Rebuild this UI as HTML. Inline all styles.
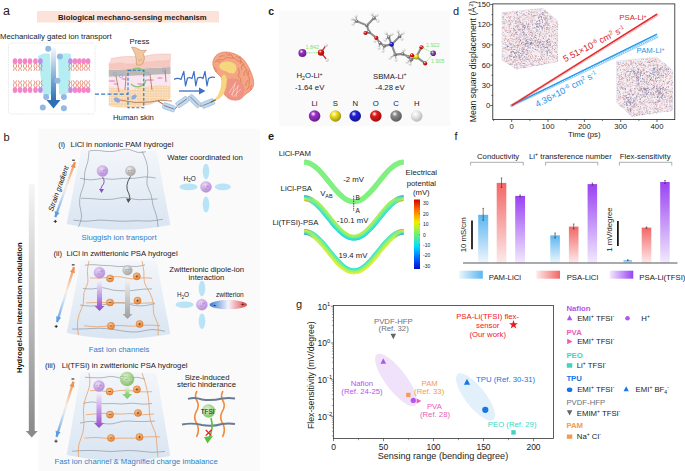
<!DOCTYPE html>
<html><head><meta charset="utf-8"><style>
html,body{margin:0;padding:0;background:#fff;width:685px;height:471px;overflow:hidden}
svg{display:block;font-family:"Liberation Sans",sans-serif}
</style></head><body>
<svg width="685" height="471" viewBox="0 0 685 471">
<defs>
<linearGradient id="garr" x1="0" y1="0" x2="0" y2="1"><stop offset="0" stop-color="#f4f8fc"/><stop offset="1" stop-color="#2e6fb5"/></linearGradient>
<pattern id="fatpat" width="2.6" height="2.6" patternUnits="userSpaceOnUse"><rect width="2.6" height="2.6" fill="#f6d2a6"/><circle cx="1.3" cy="1.3" r="0.75" fill="#fdf0e2"/></pattern>
<linearGradient id="jet" x1="0" y1="1" x2="0" y2="0"><stop offset="0" stop-color="#0010d0"/><stop offset="0.15" stop-color="#0060ff"/><stop offset="0.33" stop-color="#00e0ff"/><stop offset="0.5" stop-color="#70f070"/><stop offset="0.67" stop-color="#f0f000"/><stop offset="0.85" stop-color="#ff7000"/><stop offset="1" stop-color="#d00000"/></linearGradient>
<linearGradient id="trapg" x1="0" y1="0" x2="0" y2="1"><stop offset="0" stop-color="#f3f6fa"/><stop offset="1" stop-color="#d9e5f2"/></linearGradient>
<linearGradient id="strg" x1="0" y1="1" x2="0" y2="0" gradientUnits="objectBoundingBox"><stop offset="0" stop-color="#5a9ee0"/><stop offset="0.42" stop-color="#d6e6f6"/><stop offset="0.56" stop-color="#f8ece4"/><stop offset="1" stop-color="#f09050"/></linearGradient>
<linearGradient id="bigarr" x1="0" y1="0" x2="0" y2="1"><stop offset="0" stop-color="#f6f6f6"/><stop offset="1" stop-color="#8a8a8a"/></linearGradient>
<linearGradient id="parr" x1="0" y1="0" x2="0" y2="1"><stop offset="0" stop-color="#f4ecfa"/><stop offset="1" stop-color="#a060d2"/></linearGradient>
<linearGradient id="parrh" x1="0" y1="0" x2="0" y2="1"><stop offset="0" stop-color="#a060d2"/><stop offset="1" stop-color="#9050c8"/></linearGradient>
<linearGradient id="garr2" x1="0" y1="0" x2="0" y2="1"><stop offset="0" stop-color="#f2f2f2"/><stop offset="1" stop-color="#a8a8a8"/></linearGradient>
<linearGradient id="garr2h" x1="0" y1="0" x2="0" y2="1"><stop offset="0" stop-color="#a8a8a8"/><stop offset="1" stop-color="#a0a0a0"/></linearGradient>
<linearGradient id="grarr" x1="0" y1="0" x2="0" y2="1"><stop offset="0" stop-color="#e8f6e0"/><stop offset="1" stop-color="#90d078"/></linearGradient>
<linearGradient id="grarrh" x1="0" y1="0" x2="0" y2="1"><stop offset="0" stop-color="#90d078"/><stop offset="1" stop-color="#80c868"/></linearGradient>
<linearGradient id="zwit" x1="0" y1="0" x2="1" y2="0"><stop offset="0" stop-color="#3b78d0"/><stop offset="0.5" stop-color="#f4f4fa"/><stop offset="1" stop-color="#e84848"/></linearGradient>
<radialGradient id="ion_li" cx="0.4" cy="0.35" r="0.7"><stop offset="0" stop-color="#f0e0fa"/><stop offset="1" stop-color="#b080d8"/></radialGradient>
<radialGradient id="ion_cl" cx="0.4" cy="0.35" r="0.7"><stop offset="0" stop-color="#f4f4f4"/><stop offset="1" stop-color="#9a9a9a"/></radialGradient>
<radialGradient id="ion_tf" cx="0.4" cy="0.35" r="0.7"><stop offset="0" stop-color="#e0f4d4"/><stop offset="1" stop-color="#7cbc60"/></radialGradient>
<radialGradient id="chg" cx="0.4" cy="0.35" r="0.7"><stop offset="0" stop-color="#fbc890"/><stop offset="1" stop-color="#e87a2a"/></radialGradient>
<linearGradient id="barb" x1="0" y1="0" x2="0" y2="1"><stop offset="0" stop-color="#5ab6f0"/><stop offset="1" stop-color="#eef6fd"/></linearGradient>
<linearGradient id="barr" x1="0" y1="0" x2="0" y2="1"><stop offset="0" stop-color="#f26666"/><stop offset="1" stop-color="#fdeaea"/></linearGradient>
<linearGradient id="barp" x1="0" y1="0" x2="0" y2="1"><stop offset="0" stop-color="#9a42f2"/><stop offset="1" stop-color="#f2eafd"/></linearGradient>
<linearGradient id="legb" x1="0" y1="0" x2="1" y2="0"><stop offset="0" stop-color="#eaf5fd"/><stop offset="1" stop-color="#5ab6f0"/></linearGradient>
<linearGradient id="legr" x1="0" y1="0" x2="1" y2="0"><stop offset="0" stop-color="#fdeaea"/><stop offset="1" stop-color="#f26666"/></linearGradient>
<linearGradient id="legp" x1="0" y1="0" x2="1" y2="0"><stop offset="0" stop-color="#f2eafd"/><stop offset="1" stop-color="#9a42f2"/></linearGradient>
<radialGradient id="rg_9b30c8" cx="0.38" cy="0.32" r="0.75"><stop offset="0" stop-color="#ffffff"/><stop offset="0.3" stop-color="#9b30c8"/><stop offset="1" stop-color="#5d1c78"/></radialGradient><radialGradient id="rg_f0e020" cx="0.38" cy="0.32" r="0.75"><stop offset="0" stop-color="#ffffff"/><stop offset="0.3" stop-color="#f0e020"/><stop offset="1" stop-color="#908613"/></radialGradient><radialGradient id="rg_2020d8" cx="0.38" cy="0.32" r="0.75"><stop offset="0" stop-color="#ffffff"/><stop offset="0.3" stop-color="#2020d8"/><stop offset="1" stop-color="#131381"/></radialGradient><radialGradient id="rg_e81818" cx="0.38" cy="0.32" r="0.75"><stop offset="0" stop-color="#ffffff"/><stop offset="0.3" stop-color="#e81818"/><stop offset="1" stop-color="#8b0e0e"/></radialGradient><radialGradient id="rg_8a8a8a" cx="0.38" cy="0.32" r="0.75"><stop offset="0" stop-color="#ffffff"/><stop offset="0.3" stop-color="#8a8a8a"/><stop offset="1" stop-color="#525252"/></radialGradient><radialGradient id="rg_ececec" cx="0.38" cy="0.32" r="0.75"><stop offset="0" stop-color="#ffffff"/><stop offset="0.3" stop-color="#ececec"/><stop offset="1" stop-color="#b1b1b1"/></radialGradient></defs><text x="3.0" y="15.0" font-size="12.5" fill="#1a1a1a" text-anchor="start" font-weight="normal" >a</text>
<rect x="37" y="11" width="182" height="11.5" fill="#fce3d9"/>
<text x="58.0" y="20.0" font-size="7.7" fill="#1a1a1a" text-anchor="start" font-weight="bold" >Biological mechano-sensing mechanism</text>
<text x="0.0" y="39.0" font-size="7.75" fill="#1a1a1a" text-anchor="start" font-weight="normal" >Mechanically gated ion transport</text>
<rect x="8.5" y="43" width="86.5" height="71" rx="3" fill="#fff" stroke="#cfcfcf" stroke-width="0.5" stroke-dasharray="1.5,1"/>
<path d="M38,56 Q44,52 50,54 L52,94 Q47,97 43,95 Z" fill="#b4eef3"/>
<path d="M58,55 Q65,52 71,54 L70,92 Q64,96 59,94 Z" fill="#b4eef3"/>
<path d="M14.3,63.6 L13.3,66.0 L14.4,68.4 L13.4,70.8 M15.7,63.6 L16.7,66.0 L15.6,68.4 L16.6,70.8" stroke="#e4634a" stroke-width="0.7" fill="none" stroke-linejoin="round"/>
<ellipse cx="15" cy="61.2" rx="2.3" ry="2.9" fill="#f585c9"/>
<path d="M19.3,63.6 L18.3,66.0 L19.4,68.4 L18.4,70.8 M20.7,63.6 L21.7,66.0 L20.6,68.4 L21.6,70.8" stroke="#e4634a" stroke-width="0.7" fill="none" stroke-linejoin="round"/>
<ellipse cx="20" cy="61.2" rx="2.3" ry="2.9" fill="#f585c9"/>
<path d="M24.3,63.6 L23.3,66.0 L24.4,68.4 L23.4,70.8 M25.7,63.6 L26.7,66.0 L25.6,68.4 L26.6,70.8" stroke="#e4634a" stroke-width="0.7" fill="none" stroke-linejoin="round"/>
<ellipse cx="25" cy="61.2" rx="2.3" ry="2.9" fill="#f585c9"/>
<path d="M29.3,63.6 L28.3,66.0 L29.4,68.4 L28.4,70.8 M30.7,63.6 L31.7,66.0 L30.6,68.4 L31.6,70.8" stroke="#e4634a" stroke-width="0.7" fill="none" stroke-linejoin="round"/>
<ellipse cx="30" cy="61.2" rx="2.3" ry="2.9" fill="#f585c9"/>
<path d="M34.8,63.6 L33.8,66.0 L34.9,68.4 L33.9,70.8 M36.2,63.6 L37.2,66.0 L36.1,68.4 L37.1,70.8" stroke="#e4634a" stroke-width="0.7" fill="none" stroke-linejoin="round"/>
<ellipse cx="35.5" cy="61.2" rx="2.3" ry="2.9" fill="#f585c9"/>
<path d="M39.7,63.6 L38.7,66.0 L39.8,68.4 L38.8,70.8 M41.1,63.6 L42.1,66.0 L41.0,68.4 L42.0,70.8" stroke="#e4634a" stroke-width="0.7" fill="none" stroke-linejoin="round"/>
<ellipse cx="40.4" cy="61.2" rx="2.3" ry="2.9" fill="#c38be6"/>
<path d="M69.7,63.6 L68.7,66.0 L69.8,68.4 L68.8,70.8 M71.1,63.6 L72.1,66.0 L71.0,68.4 L72.0,70.8" stroke="#e4634a" stroke-width="0.7" fill="none" stroke-linejoin="round"/>
<ellipse cx="70.4" cy="61.2" rx="2.3" ry="2.9" fill="#c38be6"/>
<path d="M74.3,63.6 L73.3,66.0 L74.4,68.4 L73.4,70.8 M75.7,63.6 L76.7,66.0 L75.6,68.4 L76.6,70.8" stroke="#e4634a" stroke-width="0.7" fill="none" stroke-linejoin="round"/>
<ellipse cx="75" cy="61.2" rx="2.3" ry="2.9" fill="#f585c9"/>
<path d="M78.6,63.6 L77.6,66.0 L78.7,68.4 L77.7,70.8 M80.0,63.6 L81.0,66.0 L79.9,68.4 L80.9,70.8" stroke="#e4634a" stroke-width="0.7" fill="none" stroke-linejoin="round"/>
<ellipse cx="79.3" cy="61.2" rx="2.3" ry="2.9" fill="#f585c9"/>
<path d="M83.0,63.6 L82.0,66.0 L83.1,68.4 L82.1,70.8 M84.4,63.6 L85.4,66.0 L84.3,68.4 L85.3,70.8" stroke="#e4634a" stroke-width="0.7" fill="none" stroke-linejoin="round"/>
<ellipse cx="83.7" cy="61.2" rx="2.3" ry="2.9" fill="#f585c9"/>
<path d="M87.4,63.6 L86.4,66.0 L87.5,68.4 L86.5,70.8 M88.8,63.6 L89.8,66.0 L88.7,68.4 L89.7,70.8" stroke="#e4634a" stroke-width="0.7" fill="none" stroke-linejoin="round"/>
<ellipse cx="88.1" cy="61.2" rx="2.3" ry="2.9" fill="#f585c9"/>
<path d="M14.3,87.6 L13.3,85.2 L14.4,82.8 L13.4,80.4 M15.7,87.6 L16.7,85.2 L15.6,82.8 L16.6,80.4" stroke="#e4634a" stroke-width="0.7" fill="none" stroke-linejoin="round"/>
<ellipse cx="15" cy="90" rx="2.3" ry="2.9" fill="#f585c9"/>
<path d="M19.3,87.6 L18.3,85.2 L19.4,82.8 L18.4,80.4 M20.7,87.6 L21.7,85.2 L20.6,82.8 L21.6,80.4" stroke="#e4634a" stroke-width="0.7" fill="none" stroke-linejoin="round"/>
<ellipse cx="20" cy="90" rx="2.3" ry="2.9" fill="#f585c9"/>
<path d="M24.3,87.6 L23.3,85.2 L24.4,82.8 L23.4,80.4 M25.7,87.6 L26.7,85.2 L25.6,82.8 L26.6,80.4" stroke="#e4634a" stroke-width="0.7" fill="none" stroke-linejoin="round"/>
<ellipse cx="25" cy="90" rx="2.3" ry="2.9" fill="#f585c9"/>
<path d="M29.3,87.6 L28.3,85.2 L29.4,82.8 L28.4,80.4 M30.7,87.6 L31.7,85.2 L30.6,82.8 L31.6,80.4" stroke="#e4634a" stroke-width="0.7" fill="none" stroke-linejoin="round"/>
<ellipse cx="30" cy="90" rx="2.3" ry="2.9" fill="#f585c9"/>
<path d="M34.8,87.6 L33.8,85.2 L34.9,82.8 L33.9,80.4 M36.2,87.6 L37.2,85.2 L36.1,82.8 L37.1,80.4" stroke="#e4634a" stroke-width="0.7" fill="none" stroke-linejoin="round"/>
<ellipse cx="35.5" cy="90" rx="2.3" ry="2.9" fill="#f585c9"/>
<path d="M39.7,87.6 L38.7,85.2 L39.8,82.8 L38.8,80.4 M41.1,87.6 L42.1,85.2 L41.0,82.8 L42.0,80.4" stroke="#e4634a" stroke-width="0.7" fill="none" stroke-linejoin="round"/>
<ellipse cx="40.4" cy="90" rx="2.3" ry="2.9" fill="#c38be6"/>
<path d="M69.7,87.6 L68.7,85.2 L69.8,82.8 L68.8,80.4 M71.1,87.6 L72.1,85.2 L71.0,82.8 L72.0,80.4" stroke="#e4634a" stroke-width="0.7" fill="none" stroke-linejoin="round"/>
<ellipse cx="70.4" cy="90" rx="2.3" ry="2.9" fill="#c38be6"/>
<path d="M74.3,87.6 L73.3,85.2 L74.4,82.8 L73.4,80.4 M75.7,87.6 L76.7,85.2 L75.6,82.8 L76.6,80.4" stroke="#e4634a" stroke-width="0.7" fill="none" stroke-linejoin="round"/>
<ellipse cx="75" cy="90" rx="2.3" ry="2.9" fill="#f585c9"/>
<path d="M78.6,87.6 L77.6,85.2 L78.7,82.8 L77.7,80.4 M80.0,87.6 L81.0,85.2 L79.9,82.8 L80.9,80.4" stroke="#e4634a" stroke-width="0.7" fill="none" stroke-linejoin="round"/>
<ellipse cx="79.3" cy="90" rx="2.3" ry="2.9" fill="#f585c9"/>
<path d="M83.0,87.6 L82.0,85.2 L83.1,82.8 L82.1,80.4 M84.4,87.6 L85.4,85.2 L84.3,82.8 L85.3,80.4" stroke="#e4634a" stroke-width="0.7" fill="none" stroke-linejoin="round"/>
<ellipse cx="83.7" cy="90" rx="2.3" ry="2.9" fill="#f585c9"/>
<path d="M87.4,87.6 L86.4,85.2 L87.5,82.8 L86.5,80.4 M88.8,87.6 L89.8,85.2 L88.7,82.8 L89.7,80.4" stroke="#e4634a" stroke-width="0.7" fill="none" stroke-linejoin="round"/>
<ellipse cx="88.1" cy="90" rx="2.3" ry="2.9" fill="#f585c9"/>
<rect x="51" y="48" width="5" height="53" fill="url(#garr)"/>
<path d="M46.5,100 L60.5,100 L53.5,108.5 Z" fill="#2e6fb5"/>
<circle cx="48.2" cy="48.8" r="3" fill="#93b8e3"/>
<circle cx="59.8" cy="56.6" r="3" fill="#93b8e3"/>
<circle cx="57.4" cy="80.8" r="3" fill="#93b8e3"/>
<circle cx="46.2" cy="96.9" r="3" fill="#93b8e3"/>
<circle cx="63.9" cy="96.9" r="3" fill="#93b8e3"/>
<circle cx="42.8" cy="107.6" r="3" fill="#93b8e3"/>
<circle cx="63.9" cy="108.3" r="3" fill="#93b8e3"/>
<path d="M108.8,86 L170.5,82 L170.5,99 Q160,100 152,104 Q140,108 128,107.5 Q118,108 108.8,106 Z" fill="url(#fatpat)"/>
<path d="M108.8,76.6 L170.5,74 L170.5,86 Q150,84 130,90 Q118,88 108.8,87 Z" fill="#f9e6f0"/>
<ellipse cx="112" cy="81" rx="3.5" ry="1" fill="#e9a9cf"/>
<ellipse cx="124" cy="79" rx="2.5" ry="1" fill="#e9a9cf"/>
<ellipse cx="150" cy="80" rx="4.0" ry="1" fill="#e9a9cf"/>
<ellipse cx="160" cy="78" rx="3.0" ry="1" fill="#e9a9cf"/>
<ellipse cx="116" cy="84" rx="2.5" ry="1" fill="#e9a9cf"/>
<ellipse cx="140" cy="84" rx="3.0" ry="1" fill="#e9a9cf"/>
<path d="M108.8,70 L170.5,67 L170.5,74 L108.8,76.8 Z" fill="#bdb8b6"/>
<path d="M108.8,64 Q120,62 130,64 Q150,61 170.5,60 L170.5,67 L108.8,70 Z" fill="#f6c7bf"/>
<path d="M108.8,64 Q112,60 111,58.5 Q125,55 140,57 Q155,53 170.5,54 L170.5,60 Q150,61 130,64 Q120,62 108.8,64 Z" fill="#f9d9d3" stroke="#efb3a8" stroke-width="0.4"/>
<path d="M116,76 L119,92 M126,76 L125,90 M150,74 L152,90 M165,70 L166,82 M120,100 Q135,104 150,102 Q160,99 172,101" stroke="#a0603a" stroke-width="0.7" fill="none"/>
<circle cx="115" cy="74" r="1.8" fill="none" stroke="#8aa5e0" stroke-width="0.7"/>
<circle cx="121" cy="76" r="1.8" fill="none" stroke="#8aa5e0" stroke-width="0.7"/>
<circle cx="164" cy="70" r="1.8" fill="none" stroke="#8aa5e0" stroke-width="0.7"/>
<circle cx="147" cy="74" r="1.8" fill="none" stroke="#8aa5e0" stroke-width="0.7"/>
<ellipse cx="117" cy="100" rx="3.3" ry="2.2" fill="#8fa8e0" transform="rotate(30 117 100)"/>
<ellipse cx="134" cy="97" rx="3" ry="2" fill="#8fa8e0" transform="rotate(-40 134 97)"/>
<path d="M130,72 A8.8,8.8 0 0 1 145,73" stroke="#8cc873" stroke-width="1.4" fill="none"/>
<path d="M146,80 A8.8,8.8 0 0 1 131,84" stroke="#8cc873" stroke-width="1.4" fill="none"/>
<path d="M95,94.2 L128,94.2" stroke="#3b78c6" stroke-width="1.3" stroke-dasharray="4,2.2"/>
<rect x="128" y="70.3" width="15.8" height="37.4" fill="none" stroke="#2f72c0" stroke-width="1.1" stroke-dasharray="3,1.8"/>
<path d="M131.5,47 Q137,47 141,50.5 L146.5,50.3 L143.6,53.6 Q145.6,59 143,63.5 Q140,66.5 136.5,64.8 Q136.6,58 135,54 Q133,50 131.5,47 Z" fill="#f2c6a0" stroke="#b5805a" stroke-width="0.45"/><path d="M138,60 Q140,61 142,59.5" stroke="#b5805a" stroke-width="0.4" fill="none"/>
<text x="129.6" y="44.0" font-size="7.75" fill="#1a1a1a" text-anchor="start" font-weight="normal" >Press</text>
<text x="113.0" y="119.5" font-size="7.75" fill="#1a1a1a" text-anchor="start" font-weight="normal" >Human skin</text>
<path d="M158,101 L163.5,104.5 M175,109 L177,106.5 M188,97.5 L189.5,96.5 M200,106 L202,106 M213.5,101 L216,99.5" stroke="#a0522d" stroke-width="1" fill="none"/>
<g transform="translate(169,107.3) rotate(20)"><rect x="-6.25" y="-3" width="12.5" height="6" rx="1.2" fill="#bfd9f2" stroke="#8cb6e4" stroke-width="0.6"/><line x1="-5.25" y1="0" x2="5.25" y2="0" stroke="#8f7b72" stroke-width="0.9"/></g>
<g transform="translate(182.3,102.1) rotate(-35)"><rect x="-6.5" y="-3" width="13" height="6" rx="1.2" fill="#bfd9f2" stroke="#8cb6e4" stroke-width="0.6"/><line x1="-5.5" y1="0" x2="5.5" y2="0" stroke="#8f7b72" stroke-width="0.9"/></g>
<g transform="translate(194.6,101.1) rotate(45)"><rect x="-7.25" y="-3" width="14.5" height="6" rx="1.2" fill="#bfd9f2" stroke="#8cb6e4" stroke-width="0.6"/><line x1="-6.25" y1="0" x2="6.25" y2="0" stroke="#8f7b72" stroke-width="0.9"/></g>
<g transform="translate(207.9,103.5) rotate(-22)"><rect x="-6.5" y="-3" width="13" height="6" rx="1.2" fill="#bfd9f2" stroke="#8cb6e4" stroke-width="0.6"/><line x1="-5.5" y1="0" x2="5.5" y2="0" stroke="#8f7b72" stroke-width="0.9"/></g>
<path d="M174,79.4 Q178,77.5 181,79.5 L183.8,71.4 L185.5,86 L187.5,78 Q190,77 192,78.5 L194,71.4 L195.8,86 L197.5,78 Q201,76.5 203,78.5 L205,71.4 L207,86 L208.5,78.5 Q212,76.5 215,77.5" stroke="#3d6fc6" stroke-width="1.2" fill="none" stroke-linejoin="round"/>
<path d="M179,91 L201,91" stroke="#3d6fc6" stroke-width="1.3"/><path d="M199,87.5 L205.5,91 L199,94.5 Z" fill="#3d6fc6"/>
<path d="M213.6,59.4 Q214.6,57.1 216.1,55.5 Q217.7,53.9 220.2,53.0 Q222.8,52.0 225.4,52.0 Q227.9,52.0 230.4,52.6 Q233.0,53.3 235.6,54.2 Q238.1,55.2 240.6,57.1 Q243.2,59.0 245.1,61.5 Q247.0,64.1 248.6,67.3 Q250.2,70.5 251.5,73.7 Q252.8,76.8 253.4,80.0 Q254.0,83.2 253.4,85.8 Q252.8,88.3 250.9,90.2 Q249.0,92.1 246.8,93.4 Q244.5,94.7 243.2,96.6 Q242.0,98.5 239.4,99.5 Q236.8,100.4 233.7,100.1 Q230.5,99.8 227.9,97.9 Q225.4,96.0 224.1,94.0 Q222.8,92.1 223.4,88.9 Q224.1,85.8 222.8,81.3 Q221.6,76.8 219.3,75.2 Q217.1,73.7 215.2,70.8 Q213.3,67.9 212.9,64.8 Q212.6,61.6 213.6,59.4 Z" fill="#f4a584" stroke="#df7a58" stroke-width="0.7"/>
<path d="M226,80 Q232,77 238,79 Q244,83 245,90 Q244,96 240,99 Q234,101 229,99 Q224,95 224,88 Z" fill="#ef9484"/>
<path d="M229,93 L236,82 M231,95 L239,85 M233,97 L241,89 M235,84 L232,96 M238,86 L236,97" stroke="#fbe6e6" stroke-width="0.55" fill="none"/>
<path d="M215,62 Q219,58 223,60 Q226,56 231,58 Q235,57 238,61 Q243,61 244,66 Q248,69 247,74 Q251,78 249,83 Q250,88 246,90 M219,57 Q222,55 225,56 M229,54 Q233,55 233,58 M240,58 Q242,62 240,64 M246,70 Q243,72 244,76 M248,80 Q245,83 246,86 M214,67 Q217,69 216,72 M236,56 Q238,59 241,57 M226,53 Q227,56 230,55 M243,64 Q240,67 242,70 M238,68 Q241,72 238,76 Q242,78 241,82 M250,70 Q247,72 249,75 M252,85 Q249,87 251,90 M217,60 Q218,63 221,62" stroke="#d26446" stroke-width="0.55" fill="none"/>
<path d="M219.6,64.5 Q222,61 228,61.5 Q234,62 236,65.5 Q237.5,70 234,73.5 Q229,74 226.5,71.5 Q222,70 220.5,69 Q218.8,66.5 219.6,64.5 Z" fill="#f6d67e"/>
<path d="M224,74 Q227,76 227,80 Q226.5,88 224,93 Q221,98 216.5,100 L215,99.5 Q219,95 220.8,89 Q222,82 221.5,77 Z" fill="#f6d67e" stroke="#e8b860" stroke-width="0.3"/>
<path d="M215.5,99.8 L211,102" stroke="#8b5a2b" stroke-width="1.1"/>
<text x="3.5" y="140.7" font-size="11" fill="#1a1a1a" text-anchor="start" font-weight="normal" >b</text>
<rect x="38.3" y="128.8" width="221.4" height="343" fill="#fafafa"/>
<rect x="28.8" y="184" width="5.9" height="247.5" fill="url(#bigarr)"/>
<path d="M25.8,431 L37.7,431 L31.75,437.6 Z" fill="#8a8a8a"/>
<text transform="translate(22,307.7) rotate(-90)" font-size="7.6" font-weight="bold" fill="#111" text-anchor="middle">Hydrogel-ion interaction modulation</text>
<text x="58.3" y="147.0" font-size="7.75" fill="#1a1a1a" text-anchor="start" font-weight="normal" >(i)</text>
<text x="70.6" y="147.0" font-size="7.75" fill="#1a1a1a" text-anchor="start" font-weight="normal" >LiCl in nonionic PAM hydrogel</text>
<path d="M81,150 L156.5,151 L170.3,225 Q118.5,235 66.7,224 Z" fill="url(#trapg)"/>
<path d="M89.6,150.7 Q89.6,150.7 93.6,150.5 Q97.7,150.2 101.7,150.9 Q105.7,151.5 109.7,151.6 Q113.8,151.7 117.8,150.5 Q121.9,149.2 125.9,149.1 Q129.9,149.1 133.9,151.1 Q137.9,153.1 142.0,152.4 L146.0,151.7" stroke="#6e767f" stroke-width="0.5" fill="none"/>
<path d="M80.0,178.2 Q80.0,178.2 85.4,179.3 Q90.8,180.5 96.2,179.3 Q101.6,178.0 107.0,178.9 Q112.4,179.7 117.8,178.9 Q123.1,178.0 128.5,178.4 Q133.9,178.8 139.3,177.6 Q144.7,176.4 150.1,177.2 L155.5,178.1" stroke="#6e767f" stroke-width="0.5" fill="none"/>
<path d="M81.0,198.3 Q81.0,198.3 86.5,198.4 Q91.9,198.5 97.4,199.1 Q102.8,199.6 108.3,199.5 Q113.7,199.4 119.2,198.0 Q124.7,196.6 130.1,198.3 Q135.6,200.0 141.0,199.7 Q146.5,199.3 151.9,199.2 L157.4,199.0" stroke="#6e767f" stroke-width="0.5" fill="none"/>
<path d="M73.4,220.1 Q73.4,220.1 79.8,220.9 Q86.2,221.7 92.6,220.7 Q99.0,219.7 105.4,220.3 Q111.8,220.8 118.2,221.1 Q124.6,221.4 131.0,221.0 Q137.4,220.5 143.8,221.0 Q150.2,221.4 156.6,220.3 L163.0,219.3" stroke="#6e767f" stroke-width="0.5" fill="none"/>
<path d="M89.0,151.0 Q89.0,151.0 88.6,156.5 Q88.2,161.9 86.1,167.2 Q84.1,172.5 84.5,178.0 Q84.9,183.6 82.5,188.8 Q80.2,194.0 79.7,199.5 Q79.1,205.0 80.8,210.7 Q82.6,216.5 80.5,221.7 L78.5,227.0" stroke="#6e767f" stroke-width="0.5" fill="none"/>
<path d="M142.0,151.0 Q142.0,151.0 144.3,156.2 Q146.6,161.4 147.5,166.9 Q148.3,172.3 147.1,178.3 Q145.9,184.2 148.7,189.3 Q151.5,194.3 152.1,199.9 Q152.6,205.5 154.8,210.7 Q157.0,215.9 157.5,221.4 L158.0,227.0" stroke="#6e767f" stroke-width="0.5" fill="none"/>
<circle cx="102.5" cy="171" r="5.5" fill="url(#ion_li)" stroke="#c8a0e0" stroke-width="0.4"/>
<text x="102.5" y="172.7" font-size="4.4" fill="#fff" text-anchor="middle" stroke="#7a4aa0" stroke-width="0.35" paint-order="stroke">Li⁺</text>
<circle cx="130.5" cy="171" r="5" fill="url(#ion_cl)" stroke="#b0b0b0" stroke-width="0.4"/>
<text x="130.5" y="172.5" font-size="4.0" fill="#fff" text-anchor="middle" stroke="#666" stroke-width="0.35" paint-order="stroke">Cl⁻</text>
<path d="M102.5,177 Q106,182 102,186 Q100,189 101.5,191" stroke="#9050c0" stroke-width="1" fill="none"/><path d="M99,189 L104,189 L101.5,193 Z" fill="#9050c0"/>
<path d="M130.5,176.5 Q124,186 129,194 Q131,198 128.5,201" stroke="#555" stroke-width="1" fill="none"/><path d="M126,198.5 L131,199 L128.3,203 Z" fill="#555"/>
<line x1="55.3" y1="217.2" x2="74.9" y2="162.2" stroke="url(#strg)" stroke-width="2.3"/>
<path d="M74.9,162.2 L75.5,168.3 L70.6,166.5 Z" fill="#f09050"/>
<path d="M55.3,217.2 L54.7,211.1 L59.6,212.9 Z" fill="#5a9ee0"/>
<path d="M72.1,160.2 L74.9,160.2" stroke="#111" stroke-width="1"/>
<path d="M53.7,221.4 L56.9,221.4 M55.3,219.8 L55.3,223.0" stroke="#111" stroke-width="0.8"/>
<text transform="translate(60.8,189.4) rotate(-70.2)" font-size="7.3" fill="#111" text-anchor="middle" font-style="italic">Strain gradient</text>
<text x="81.6" y="239.8" font-size="7.75" fill="#2f80c8" text-anchor="start" font-weight="normal" >Sluggish ion transport</text>
<text x="167.3" y="160.0" font-size="7.75" fill="#1a1a1a" text-anchor="start" font-weight="normal" >Water coordinated ion</text>
<ellipse cx="206" cy="171.6" rx="3.3" ry="7.8" fill="#b9e3f6"/>
<ellipse cx="206" cy="204.6" rx="3.3" ry="8" fill="#b9e3f6"/>
<ellipse cx="188.5" cy="186.9" rx="9" ry="3.3" fill="#b9e3f6"/>
<ellipse cx="222.8" cy="186.9" rx="8" ry="3.3" fill="#b9e3f6"/>
<circle cx="206" cy="186.9" r="5.5" fill="url(#ion_li)" stroke="#c8a0e0" stroke-width="0.4"/>
<text x="206" y="188.6" font-size="4.4" fill="#fff" text-anchor="middle" stroke="#7a4aa0" stroke-width="0.35" paint-order="stroke">Li⁺</text>
<text x="183.6" y="180.5" font-size="6.4" fill="#222">H<tspan font-size="4.5" dy="1.3">2</tspan><tspan dy="-1.3">O</tspan></text>
<text x="53.5" y="256.3" font-size="7.75" fill="#1a1a1a" text-anchor="start" font-weight="normal" >(ii)</text>
<text x="66.5" y="256.3" font-size="7.75" fill="#1a1a1a" text-anchor="start" font-weight="normal" >LiCl in zwitterionic PSA hydrogel</text>
<path d="M81,259.8 L156.5,260.8 L170.3,334 Q118.5,344 66.7,333 Z" fill="url(#trapg)"/>
<path d="M85.0,265.2 Q85.0,265.2 89.3,264.8 Q93.6,264.4 97.9,265.0 Q102.1,265.5 106.4,265.5 Q110.7,265.5 115.0,266.2 Q119.3,266.9 123.6,266.4 Q127.9,265.8 132.2,266.4 Q136.4,266.9 140.7,265.9 L145.0,264.8" stroke="#6e767f" stroke-width="0.5" fill="none"/>
<path d="M83.0,288.4 Q83.0,288.4 87.9,288.9 Q92.9,289.3 97.8,288.1 Q102.7,286.9 107.6,288.7 Q112.6,290.4 117.5,290.6 Q122.4,290.9 127.3,290.8 Q132.3,290.7 137.2,289.9 Q142.1,289.1 147.1,289.0 L152.0,288.9" stroke="#6e767f" stroke-width="0.5" fill="none"/>
<path d="M80.0,305.0 Q80.0,305.0 85.4,305.7 Q90.7,306.4 96.1,305.7 Q101.4,305.0 106.8,304.2 Q112.1,303.4 117.5,302.7 Q122.8,302.1 128.2,303.9 Q133.6,305.7 139.0,305.9 Q144.3,306.1 149.7,304.8 L155.0,303.5" stroke="#6e767f" stroke-width="0.5" fill="none"/>
<path d="M72.0,329.1 Q72.0,329.1 78.6,329.0 Q85.3,328.9 92.0,328.5 Q98.6,328.0 105.2,328.5 Q111.9,329.0 118.5,330.3 Q125.1,331.6 131.8,332.0 Q138.4,332.4 145.1,330.5 Q151.8,328.7 158.4,330.0 L165.0,331.2" stroke="#6e767f" stroke-width="0.5" fill="none"/>
<path d="M89.0,261.0 Q89.0,261.0 87.9,266.2 Q86.8,271.5 87.8,277.0 Q88.9,282.6 86.0,287.5 Q83.1,292.5 83.6,298.0 Q84.1,303.4 81.6,308.5 Q79.1,313.5 78.0,318.8 Q77.0,324.0 77.7,329.5 L78.5,335.0" stroke="#ea9a5c" stroke-width="0.75" fill="none"/>
<path d="M142.0,261.0 Q142.0,261.0 143.1,266.3 Q144.3,271.6 143.9,277.2 Q143.5,282.8 146.8,287.6 Q150.0,292.5 151.9,297.6 Q153.8,302.7 153.3,308.4 Q152.8,314.0 155.7,318.9 Q158.6,323.8 158.3,329.4 L158.0,335.0" stroke="#ea9a5c" stroke-width="0.75" fill="none"/>
<path d="M90.0,277.9 Q90.0,277.9 95.2,278.1 Q100.3,278.4 105.5,277.6 Q110.7,276.8 115.8,276.6 Q121.0,276.5 126.2,278.0 Q131.3,279.5 136.5,278.5 Q141.7,277.6 146.8,277.9 L152.0,278.3" stroke="#ea9a5c" stroke-width="0.75" fill="none"/>
<path d="M86.0,302.9 Q86.0,302.9 91.7,302.7 Q97.3,302.5 103.0,302.6 Q108.7,302.7 114.3,302.8 Q120.0,302.9 125.7,303.1 Q131.3,303.4 137.0,303.3 Q142.7,303.2 148.3,303.0 L154.0,302.8" stroke="#ea9a5c" stroke-width="0.75" fill="none"/>
<path d="M84.0,325.6 Q84.0,325.6 90.3,326.4 Q96.7,327.2 103.0,326.5 Q109.3,325.7 115.7,325.6 Q122.0,325.4 128.3,326.0 Q134.7,326.5 141.0,325.6 Q147.3,324.8 153.7,325.3 L160.0,325.7" stroke="#ea9a5c" stroke-width="0.75" fill="none"/>
<rect x="97.0" y="281" width="5" height="25" fill="url(#parr)"/>
<path d="M94.5,306 L104.5,306 L99.5,311 Z" fill="url(#parrh)"/>
<rect x="125.0" y="279" width="5" height="35" fill="url(#garr2)"/>
<path d="M122.5,314 L132.5,314 L127.5,319 Z" fill="url(#garr2h)"/>
<circle cx="99.5" cy="272.7" r="5.5" fill="url(#ion_li)" stroke="#c8a0e0" stroke-width="0.4"/>
<text x="99.5" y="274.3" font-size="4.4" fill="#fff" text-anchor="middle" stroke="#7a4aa0" stroke-width="0.35" paint-order="stroke">Li⁺</text>
<circle cx="127.5" cy="270.3" r="4.8" fill="url(#ion_cl)" stroke="#b0b0b0" stroke-width="0.4"/>
<text x="127.5" y="271.7" font-size="3.8" fill="#fff" text-anchor="middle" stroke="#666" stroke-width="0.35" paint-order="stroke">Cl⁻</text>
<circle cx="110" cy="278.5" r="3.6" fill="url(#chg)" stroke="#d0702a" stroke-width="0.4"/>
<line x1="108.6" y1="278.5" x2="111.4" y2="278.5" stroke="#5a2a10" stroke-width="0.6"/>
<circle cx="136.8" cy="276.3" r="3.6" fill="url(#chg)" stroke="#d0702a" stroke-width="0.4"/>
<path d="M135.4,276.3 L138.20000000000002,276.3 M136.8,274.90000000000003 L136.8,277.7" stroke="#5a2a10" stroke-width="0.6"/>
<circle cx="110" cy="302.5" r="3.6" fill="url(#chg)" stroke="#d0702a" stroke-width="0.4"/>
<line x1="108.6" y1="302.5" x2="111.4" y2="302.5" stroke="#5a2a10" stroke-width="0.6"/>
<circle cx="137.5" cy="300.7" r="3.6" fill="url(#chg)" stroke="#d0702a" stroke-width="0.4"/>
<path d="M136.1,300.7 L138.9,300.7 M137.5,299.3 L137.5,302.09999999999997" stroke="#5a2a10" stroke-width="0.6"/>
<circle cx="111" cy="325.9" r="3.6" fill="url(#chg)" stroke="#d0702a" stroke-width="0.4"/>
<line x1="109.6" y1="325.9" x2="112.4" y2="325.9" stroke="#5a2a10" stroke-width="0.6"/>
<circle cx="139.6" cy="324" r="3.6" fill="url(#chg)" stroke="#d0702a" stroke-width="0.4"/>
<path d="M138.2,324 L141.0,324 M139.6,322.6 L139.6,325.4" stroke="#5a2a10" stroke-width="0.6"/>
<line x1="57" y1="322.2" x2="74" y2="267.2" stroke="url(#strg)" stroke-width="2.3"/>
<path d="M74.0,267.2 L74.9,273.2 L69.9,271.7 Z" fill="#f09050"/>
<path d="M57.0,322.2 L56.1,316.2 L61.1,317.7 Z" fill="#5a9ee0"/>
<path d="M71.8,264.9 L74.6,264.9" stroke="#111" stroke-width="1"/>
<path d="M54.6,326.4 L57.8,326.4 M56.2,324.8 L56.2,328.0" stroke="#111" stroke-width="0.8"/>
<text x="88.7" y="351.7" font-size="7.75" fill="#2f80c8" text-anchor="start" font-weight="normal" >Fast ion channels</text>
<text x="169.2" y="271.5" font-size="7.75" fill="#1a1a1a" text-anchor="start" font-weight="normal" >Zwitterionic dipole-ion</text>
<text x="206.5" y="280.2" font-size="7.75" fill="#1a1a1a" text-anchor="middle" font-weight="normal" >interaction</text>
<ellipse cx="202" cy="288.6" rx="3.3" ry="7.8" fill="#b9e3f6"/>
<ellipse cx="202" cy="321.3" rx="3.3" ry="7.8" fill="#b9e3f6"/>
<ellipse cx="184.6" cy="304.7" rx="9" ry="3.3" fill="#b9e3f6"/>
<ellipse cx="228.3" cy="304.7" rx="18.7" ry="4.6" fill="url(#zwit)"/>
<text x="213.5" y="307.3" font-size="7" fill="#1a1a1a" text-anchor="start" font-weight="bold" >-</text>
<text x="240.5" y="307.3" font-size="7" fill="#1a1a1a" text-anchor="start" font-weight="normal" >+</text>
<circle cx="201.9" cy="304.7" r="5.5" fill="url(#ion_li)" stroke="#c8a0e0" stroke-width="0.4"/>
<text x="201.9" y="306.3" font-size="4.4" fill="#fff" text-anchor="middle" stroke="#7a4aa0" stroke-width="0.35" paint-order="stroke">Li⁺</text>
<text x="176.9" y="297.2" font-size="6.4" fill="#222">H<tspan font-size="4.5" dy="1.3">2</tspan><tspan dy="-1.3">O</tspan></text>
<text x="215.9" y="297.0" font-size="6.6" fill="#1a1a1a" text-anchor="start" font-weight="normal" >zwitterion</text>
<text x="45.0" y="367.8" font-size="7.75" fill="#1a1a1a" text-anchor="start" font-weight="normal" >(iii)</text>
<text x="61.7" y="367.8" font-size="7.75" fill="#1a1a1a" text-anchor="start" font-weight="normal" >Li(TFSI) in zwitterionic PSA hydrogel</text>
<path d="M81,372 L156.5,373 L170.3,456 Q118.5,466 66.7,455 Z" fill="url(#trapg)"/>
<path d="M85.0,377.3 Q85.0,377.3 89.3,377.5 Q93.6,377.7 97.9,377.9 Q102.1,378.1 106.5,377.0 Q110.8,375.8 115.0,376.9 Q119.3,378.0 123.6,378.6 Q127.8,379.1 132.2,377.9 Q136.5,376.7 140.8,378.0 L145.0,379.3" stroke="#6e767f" stroke-width="0.5" fill="none"/>
<path d="M83.0,403.4 Q83.0,403.4 87.9,402.4 Q92.9,401.3 97.8,402.7 Q102.7,404.1 107.6,403.7 Q112.6,403.3 117.5,403.8 Q122.4,404.3 127.4,403.5 Q132.3,402.8 137.2,403.6 Q142.1,404.5 147.1,404.0 L152.0,403.5" stroke="#6e767f" stroke-width="0.5" fill="none"/>
<path d="M80.0,423.1 Q80.0,423.1 85.3,421.9 Q90.7,420.7 96.1,422.0 Q101.5,423.3 106.8,423.9 Q112.2,424.4 117.5,422.6 Q122.8,420.7 128.2,421.0 Q133.6,421.4 138.9,421.5 Q144.3,421.7 149.6,421.3 L155.0,421.0" stroke="#6e767f" stroke-width="0.5" fill="none"/>
<path d="M72.0,451.3 Q72.0,451.3 78.6,450.8 Q85.3,450.4 91.9,450.5 Q98.6,450.7 105.2,451.2 Q111.9,451.8 118.5,451.1 Q125.1,450.4 131.8,450.6 Q138.4,450.8 145.1,451.7 Q151.7,452.7 158.4,452.0 L165.0,451.4" stroke="#6e767f" stroke-width="0.5" fill="none"/>
<path d="M89.0,373.0 Q89.0,373.0 89.8,379.2 Q90.5,385.4 88.0,391.2 Q85.6,396.9 84.3,402.9 Q83.0,408.8 83.6,415.0 Q84.2,421.2 83.7,427.2 Q83.3,433.2 80.7,439.0 Q78.1,444.8 78.3,450.9 L78.5,457.0" stroke="#ea9a5c" stroke-width="0.75" fill="none"/>
<path d="M142.0,373.0 Q142.0,373.0 144.0,378.8 Q145.9,384.7 147.2,390.7 Q148.5,396.6 148.9,402.8 Q149.3,408.9 149.6,415.1 Q149.9,421.2 152.9,426.9 Q155.9,432.5 156.4,438.7 Q156.8,444.8 157.4,450.9 L158.0,457.0" stroke="#ea9a5c" stroke-width="0.75" fill="none"/>
<path d="M90.0,390.7 Q90.0,390.7 95.2,390.6 Q100.3,390.6 105.5,391.4 Q110.6,392.3 115.8,391.1 Q121.0,390.0 126.2,390.4 Q131.3,390.7 136.5,391.4 Q141.7,392.0 146.8,391.9 L152.0,391.7" stroke="#ea9a5c" stroke-width="0.75" fill="none"/>
<path d="M86.0,414.8 Q86.0,414.8 91.7,414.2 Q97.3,413.6 103.0,413.4 Q108.6,413.1 114.3,413.8 Q120.0,414.4 125.7,413.8 Q131.3,413.1 137.0,414.1 Q142.7,415.2 148.3,414.5 L154.0,413.9" stroke="#ea9a5c" stroke-width="0.75" fill="none"/>
<path d="M84.0,438.2 Q84.0,438.2 90.3,437.7 Q96.7,437.2 103.0,438.0 Q109.4,438.8 115.7,438.4 Q122.0,438.0 128.3,438.2 Q134.7,438.4 141.0,437.5 Q147.3,436.5 153.7,436.7 L160.0,436.9" stroke="#ea9a5c" stroke-width="0.75" fill="none"/>
<rect x="96.5" y="393" width="5" height="30" fill="url(#parr)"/>
<path d="M94,423 L104,423 L99,428 Z" fill="url(#parrh)"/>
<rect x="125.2" y="387" width="4" height="7" fill="url(#grarr)"/>
<path d="M122.2,394 L132.2,394 L127.2,399 Z" fill="url(#grarrh)"/>
<circle cx="99" cy="386" r="5.5" fill="url(#ion_li)" stroke="#c8a0e0" stroke-width="0.4"/>
<text x="99" y="387.6" font-size="4.4" fill="#fff" text-anchor="middle" stroke="#7a4aa0" stroke-width="0.35" paint-order="stroke">Li⁺</text>
<circle cx="127.1" cy="379" r="7" fill="url(#ion_tf)" stroke="#98cc80" stroke-width="0.4"/>
<text x="127.1" y="381.1" font-size="5.6" fill="#fff" text-anchor="middle" stroke="#4a8a3a" stroke-width="0.35" paint-order="stroke">TFSI⁻</text>
<circle cx="109.6" cy="391.5" r="3.6" fill="url(#chg)" stroke="#d0702a" stroke-width="0.4"/>
<line x1="108.19999999999999" y1="391.5" x2="111.0" y2="391.5" stroke="#5a2a10" stroke-width="0.6"/>
<circle cx="136.9" cy="389.4" r="3.6" fill="url(#chg)" stroke="#d0702a" stroke-width="0.4"/>
<path d="M135.5,389.4 L138.3,389.4 M136.9,388.0 L136.9,390.79999999999995" stroke="#5a2a10" stroke-width="0.6"/>
<circle cx="110" cy="414.6" r="3.6" fill="url(#chg)" stroke="#d0702a" stroke-width="0.4"/>
<line x1="108.6" y1="414.6" x2="111.4" y2="414.6" stroke="#5a2a10" stroke-width="0.6"/>
<circle cx="138" cy="413" r="3.6" fill="url(#chg)" stroke="#d0702a" stroke-width="0.4"/>
<path d="M136.6,413 L139.4,413 M138,411.6 L138,414.4" stroke="#5a2a10" stroke-width="0.6"/>
<circle cx="111" cy="438" r="3.6" fill="url(#chg)" stroke="#d0702a" stroke-width="0.4"/>
<line x1="109.6" y1="438" x2="112.4" y2="438" stroke="#5a2a10" stroke-width="0.6"/>
<circle cx="139.5" cy="437" r="3.6" fill="url(#chg)" stroke="#d0702a" stroke-width="0.4"/>
<path d="M138.1,437 L140.9,437 M139.5,435.6 L139.5,438.4" stroke="#5a2a10" stroke-width="0.6"/>
<line x1="56.5" y1="436.8" x2="73.5" y2="381.6" stroke="url(#strg)" stroke-width="2.3"/>
<path d="M73.5,381.6 L74.4,387.6 L69.4,386.1 Z" fill="#f09050"/>
<path d="M56.5,436.8 L55.6,430.8 L60.6,432.3 Z" fill="#5a9ee0"/>
<path d="M71.5,379.0 L74.3,379.0" stroke="#111" stroke-width="1"/>
<path d="M54.4,441.2 L57.6,441.2 M56.0,439.6 L56.0,442.8" stroke="#111" stroke-width="0.8"/>
<text x="54.5" y="463.9" font-size="7.75" fill="#2f80c8" text-anchor="start" font-weight="normal" >Fast ion channel &amp; Magnified charge imbalance</text>
<text x="184.7" y="379.6" font-size="7.75" fill="#1a1a1a" text-anchor="start" font-weight="normal" >Size-induced</text>
<text x="177.0" y="387.3" font-size="7.75" fill="#1a1a1a" text-anchor="start" font-weight="normal" >steric hinderance</text>
<path d="M197,391 Q194,396 197,401 Q200,406 196,412 Q193,418 197,424 Q200,430 196.5,437" stroke="#f08a38" stroke-width="1.6" fill="none"/>
<path d="M223,391 Q220,396 223,401 Q226,406 222,412 Q219,418 223,424 Q226,430 222.5,437" stroke="#f08a38" stroke-width="1.6" fill="none"/>
<path d="M188,398.8 Q195,397 202,399.5 Q212,401 222,398.5 Q229,397.5 235,398.5" stroke="#6a7c94" stroke-width="1.9" fill="none"/>
<path d="M182,424.5 Q192,422.5 202,425 Q212,427 222,424 Q229,423 235,424" stroke="#6a7c94" stroke-width="1.9" fill="none"/>
<path d="M211,418 Q214,428 209,438" stroke="#5cbf3c" stroke-width="1.6" fill="none"/><path d="M204,437 L213,436 L207.5,443.5 Z" fill="#5cbf3c"/>
<path d="M205.8,430 L211.4,435.6 M211.4,430 L205.8,435.6" stroke="#e02020" stroke-width="1.2"/>
<circle cx="208.6" cy="411" r="6.5" fill="url(#ion_tf)" stroke="#98cc80" stroke-width="0.4"/>
<text x="208.3" y="413.5" font-size="6.3" fill="#222" text-anchor="middle">TFSI<tspan font-size="4.5" dy="-2.5">-</tspan></text>
<rect x="279" y="10.5" width="171.3" height="115.6" fill="#fafafa"/>
<text x="268.3" y="15.0" font-size="10.5" fill="#1a1a1a" text-anchor="start" font-weight="bold" >c</text>
<line x1="302.4" y1="53" x2="321" y2="52.6" stroke="#74e474" stroke-width="0.7" stroke-dasharray="1.6,0.6"/>
<line x1="321" y1="52.6" x2="326" y2="45.3" stroke="#cc2020" stroke-width="1.2"/><line x1="321" y1="52.6" x2="327" y2="60" stroke="#cc2020" stroke-width="1.2"/>
<circle cx="302.4" cy="53" r="4" fill="url(#rg_9b30c8)"/>
<circle cx="321" cy="52.6" r="3.2" fill="url(#rg_e81818)"/>
<circle cx="326" cy="45.3" r="1.8" fill="url(#rg_ececec)"/>
<circle cx="327" cy="60" r="1.8" fill="url(#rg_ececec)"/>
<text x="305.5" y="49.2" font-size="5.4" fill="#74e474" text-anchor="start" font-weight="normal" >1.842</text>
<line x1="356.6" y1="21.1" x2="352" y2="19" stroke="#b0b0b0" stroke-width="1.4"/>
<line x1="356.6" y1="21.1" x2="356" y2="16" stroke="#b0b0b0" stroke-width="1.4"/>
<line x1="356.6" y1="21.1" x2="353" y2="24" stroke="#b0b0b0" stroke-width="1.4"/>
<line x1="374.1" y1="18.1" x2="372" y2="14" stroke="#b0b0b0" stroke-width="1.4"/>
<line x1="374.1" y1="18.1" x2="377" y2="15" stroke="#b0b0b0" stroke-width="1.4"/>
<line x1="374.1" y1="18.1" x2="378" y2="21" stroke="#b0b0b0" stroke-width="1.4"/>
<line x1="376.3" y1="37.8" x2="375" y2="41" stroke="#b0b0b0" stroke-width="1.4"/>
<line x1="380" y1="43" x2="379" y2="48" stroke="#b0b0b0" stroke-width="1.4"/>
<line x1="384.3" y1="45.9" x2="383" y2="51" stroke="#b0b0b0" stroke-width="1.4"/>
<line x1="388.7" y1="37.1" x2="385" y2="40" stroke="#b0b0b0" stroke-width="1.4"/>
<line x1="388.7" y1="37.1" x2="386" y2="33" stroke="#b0b0b0" stroke-width="1.4"/>
<line x1="388.7" y1="37.1" x2="392" y2="34" stroke="#b0b0b0" stroke-width="1.4"/>
<line x1="399.6" y1="36.4" x2="403" y2="33" stroke="#b0b0b0" stroke-width="1.4"/>
<line x1="399.6" y1="36.4" x2="402" y2="39" stroke="#b0b0b0" stroke-width="1.4"/>
<line x1="399.6" y1="36.4" x2="398" y2="31" stroke="#b0b0b0" stroke-width="1.4"/>
<line x1="395.3" y1="54.6" x2="390" y2="58" stroke="#b0b0b0" stroke-width="1.4"/>
<line x1="395.3" y1="54.6" x2="396" y2="60" stroke="#b0b0b0" stroke-width="1.4"/>
<line x1="402.6" y1="53.9" x2="404" y2="50" stroke="#b0b0b0" stroke-width="1.4"/>
<line x1="411.3" y1="59.7" x2="407" y2="62" stroke="#b0b0b0" stroke-width="1.4"/>
<line x1="411.3" y1="59.7" x2="410" y2="64" stroke="#b0b0b0" stroke-width="1.4"/>
<line x1="356.6" y1="21.1" x2="366.8" y2="25.4" stroke="#8d8d8d" stroke-width="2.1"/>
<line x1="366.8" y1="25.4" x2="374.1" y2="18.1" stroke="#8d8d8d" stroke-width="2.1"/>
<line x1="366.8" y1="25.4" x2="369" y2="32" stroke="#8d8d8d" stroke-width="2.1"/>
<line x1="369" y1="32" x2="365.5" y2="33" stroke="#8d8d8d" stroke-width="2.1"/>
<line x1="369" y1="32" x2="376.3" y2="37.8" stroke="#8d8d8d" stroke-width="2.1"/>
<line x1="376.3" y1="37.8" x2="380" y2="43" stroke="#8d8d8d" stroke-width="2.1"/>
<line x1="380" y1="43" x2="384.3" y2="45.9" stroke="#8d8d8d" stroke-width="2.1"/>
<line x1="384.3" y1="45.9" x2="391.6" y2="44.4" stroke="#8d8d8d" stroke-width="2.1"/>
<line x1="391.6" y1="44.4" x2="388.7" y2="37.1" stroke="#8d8d8d" stroke-width="2.1"/>
<line x1="391.6" y1="44.4" x2="399.6" y2="36.4" stroke="#8d8d8d" stroke-width="2.1"/>
<line x1="391.6" y1="44.4" x2="395.3" y2="54.6" stroke="#8d8d8d" stroke-width="2.1"/>
<line x1="395.3" y1="54.6" x2="402.6" y2="53.9" stroke="#8d8d8d" stroke-width="2.1"/>
<line x1="402.6" y1="53.9" x2="408.4" y2="56.8" stroke="#8d8d8d" stroke-width="2.1"/>
<line x1="408.4" y1="56.8" x2="411.3" y2="59.7" stroke="#8d8d8d" stroke-width="2.1"/>
<line x1="411.3" y1="59.7" x2="416.4" y2="56.8" stroke="#8d8d8d" stroke-width="2.1"/>
<line x1="416.4" y1="56.8" x2="421.5" y2="47.3" stroke="#8d8d8d" stroke-width="2.1"/>
<line x1="416.4" y1="56.8" x2="412" y2="55.4" stroke="#8d8d8d" stroke-width="2.1"/>
<line x1="416.4" y1="56.8" x2="425.2" y2="63.4" stroke="#8d8d8d" stroke-width="2.1"/>
<circle cx="352" cy="19" r="1.5" fill="url(#rg_ececec)"/>
<circle cx="356" cy="16" r="1.5" fill="url(#rg_ececec)"/>
<circle cx="353" cy="24" r="1.5" fill="url(#rg_ececec)"/>
<circle cx="372" cy="14" r="1.5" fill="url(#rg_ececec)"/>
<circle cx="377" cy="15" r="1.5" fill="url(#rg_ececec)"/>
<circle cx="378" cy="21" r="1.5" fill="url(#rg_ececec)"/>
<circle cx="375" cy="41" r="1.5" fill="url(#rg_ececec)"/>
<circle cx="379" cy="48" r="1.5" fill="url(#rg_ececec)"/>
<circle cx="383" cy="51" r="1.5" fill="url(#rg_ececec)"/>
<circle cx="385" cy="40" r="1.5" fill="url(#rg_ececec)"/>
<circle cx="386" cy="33" r="1.5" fill="url(#rg_ececec)"/>
<circle cx="392" cy="34" r="1.5" fill="url(#rg_ececec)"/>
<circle cx="403" cy="33" r="1.5" fill="url(#rg_ececec)"/>
<circle cx="402" cy="39" r="1.5" fill="url(#rg_ececec)"/>
<circle cx="398" cy="31" r="1.5" fill="url(#rg_ececec)"/>
<circle cx="390" cy="58" r="1.5" fill="url(#rg_ececec)"/>
<circle cx="396" cy="60" r="1.5" fill="url(#rg_ececec)"/>
<circle cx="404" cy="50" r="1.5" fill="url(#rg_ececec)"/>
<circle cx="407" cy="62" r="1.5" fill="url(#rg_ececec)"/>
<circle cx="410" cy="64" r="1.5" fill="url(#rg_ececec)"/>
<circle cx="356.6" cy="21.1" r="1.7" fill="url(#rg_8a8a8a)"/>
<circle cx="366.8" cy="25.4" r="1.7" fill="url(#rg_8a8a8a)"/>
<circle cx="374.1" cy="18.1" r="1.7" fill="url(#rg_8a8a8a)"/>
<circle cx="369" cy="32" r="1.7" fill="url(#rg_8a8a8a)"/>
<circle cx="365.5" cy="33" r="2.1" fill="url(#rg_e81818)"/>
<circle cx="376.3" cy="37.8" r="2.1" fill="url(#rg_e81818)"/>
<circle cx="380" cy="43" r="1.7" fill="url(#rg_8a8a8a)"/>
<circle cx="384.3" cy="45.9" r="1.7" fill="url(#rg_8a8a8a)"/>
<circle cx="391.6" cy="44.4" r="2.3" fill="url(#rg_2020d8)"/>
<circle cx="388.7" cy="37.1" r="1.7" fill="url(#rg_8a8a8a)"/>
<circle cx="399.6" cy="36.4" r="1.7" fill="url(#rg_8a8a8a)"/>
<circle cx="395.3" cy="54.6" r="1.7" fill="url(#rg_8a8a8a)"/>
<circle cx="402.6" cy="53.9" r="1.7" fill="url(#rg_8a8a8a)"/>
<circle cx="408.4" cy="56.8" r="1.7" fill="url(#rg_8a8a8a)"/>
<circle cx="411.3" cy="59.7" r="1.7" fill="url(#rg_8a8a8a)"/>
<circle cx="416.4" cy="56.8" r="2.6" fill="url(#rg_f0e020)"/>
<circle cx="421.5" cy="47.3" r="2.1" fill="url(#rg_e81818)"/>
<circle cx="412" cy="55.4" r="2.1" fill="url(#rg_e81818)"/>
<circle cx="425.2" cy="63.4" r="2.1" fill="url(#rg_e81818)"/>
<circle cx="433.2" cy="53.2" r="2.8" fill="url(#rg_9b30c8)"/>
<line x1="433.2" y1="53.2" x2="421.5" y2="47.3" stroke="#74e474" stroke-width="0.7" stroke-dasharray="1.6,0.6"/>
<line x1="433.2" y1="53.2" x2="425.2" y2="63.4" stroke="#74e474" stroke-width="0.7" stroke-dasharray="1.6,0.6"/>
<text x="425.9" y="46.6" font-size="5.4" fill="#74e474" text-anchor="start" font-weight="normal" >1.922</text>
<text x="431.0" y="63.4" font-size="5.4" fill="#74e474" text-anchor="start" font-weight="normal" >1.905</text>
<text x="296.4" y="78.2" font-size="7.75" fill="#1a1a1a">H<tspan font-size="5.2" dy="1.5">2</tspan><tspan dy="-1.5">O-Li</tspan><tspan font-size="5.2" dy="-2.5">+</tspan></text>
<text x="295.0" y="90.4" font-size="7.75" fill="#1a1a1a" text-anchor="start" font-weight="normal" >-1.64 eV</text>
<text x="373" y="78.5" font-size="7.75" fill="#1a1a1a">SBMA-Li<tspan font-size="5.2" dy="-2.5">+</tspan></text>
<text x="375.3" y="90.4" font-size="7.75" fill="#1a1a1a" text-anchor="start" font-weight="normal" >-4.28 eV</text>
<text x="314.6" y="105.6" font-size="7.75" fill="#1a1a1a" text-anchor="middle" font-weight="normal" >Li</text>
<circle cx="314.6" cy="116" r="5.8" fill="url(#rg_9b30c8)"/>
<text x="335.4" y="105.6" font-size="7.75" fill="#1a1a1a" text-anchor="middle" font-weight="normal" >S</text>
<circle cx="335.4" cy="116" r="5.8" fill="url(#rg_f0e020)"/>
<text x="355.2" y="105.6" font-size="7.75" fill="#1a1a1a" text-anchor="middle" font-weight="normal" >N</text>
<circle cx="355.2" cy="116" r="5.8" fill="url(#rg_2020d8)"/>
<text x="375.8" y="105.6" font-size="7.75" fill="#1a1a1a" text-anchor="middle" font-weight="normal" >O</text>
<circle cx="375.8" cy="116" r="5.8" fill="url(#rg_e81818)"/>
<text x="396.1" y="105.6" font-size="7.75" fill="#1a1a1a" text-anchor="middle" font-weight="normal" >C</text>
<circle cx="396.1" cy="116" r="5.8" fill="url(#rg_8a8a8a)"/>
<text x="416.7" y="105.6" font-size="7.75" fill="#1a1a1a" text-anchor="middle" font-weight="normal" >H</text>
<circle cx="416.7" cy="116" r="5.8" fill="url(#rg_ececec)"/>
<text x="453.0" y="15.0" font-size="11" fill="#1a1a1a" text-anchor="start" font-weight="normal" >d</text>
<polygon points="502.0,12.6 542.8,8.2 557.6,20.9 557.4,61.6 516.6,69.0 502.0,60.0" fill="#f5eff1" stroke="#d0d4ee" stroke-width="0.5"/>
<path d="M538.2 56.2h.8v.8h-.8zM526.8 52.1h.8v.8h-.8zM514.0 33.9h.8v.8h-.8zM515.0 22.2h.8v.8h-.8zM527.6 25.8h.8v.8h-.8zM535.0 32.1h.8v.8h-.8zM534.1 36.1h.8v.8h-.8zM503.6 22.2h.8v.8h-.8zM546.3 57.8h.8v.8h-.8zM548.8 49.1h.8v.8h-.8zM544.0 23.4h.8v.8h-.8zM536.7 29.1h.8v.8h-.8zM510.9 40.3h.8v.8h-.8zM519.9 37.0h.8v.8h-.8zM523.5 33.8h.8v.8h-.8zM510.1 51.9h.8v.8h-.8zM537.1 11.8h.8v.8h-.8zM543.4 33.5h.8v.8h-.8zM523.0 29.3h.8v.8h-.8zM539.5 34.5h.8v.8h-.8zM507.8 48.7h.8v.8h-.8zM545.5 28.8h.8v.8h-.8zM515.0 52.3h.8v.8h-.8zM511.4 63.6h.8v.8h-.8zM522.5 28.9h.8v.8h-.8zM514.4 13.2h.8v.8h-.8zM539.3 13.8h.8v.8h-.8zM525.4 15.2h.8v.8h-.8zM515.4 53.4h.8v.8h-.8zM552.6 26.1h.8v.8h-.8zM527.0 27.2h.8v.8h-.8zM515.7 13.1h.8v.8h-.8zM534.2 44.4h.8v.8h-.8zM503.1 23.0h.8v.8h-.8zM532.6 12.5h.8v.8h-.8zM529.4 60.6h.8v.8h-.8zM529.9 56.5h.8v.8h-.8zM518.3 62.5h.8v.8h-.8zM520.8 23.9h.8v.8h-.8zM505.5 29.8h.8v.8h-.8zM517.3 47.5h.8v.8h-.8zM555.4 42.9h.8v.8h-.8zM511.2 52.6h.8v.8h-.8zM511.2 28.0h.8v.8h-.8zM508.6 26.2h.8v.8h-.8zM512.6 34.9h.8v.8h-.8zM517.2 43.8h.8v.8h-.8zM523.3 25.5h.8v.8h-.8zM531.5 30.1h.8v.8h-.8zM535.7 29.4h.8v.8h-.8zM540.3 45.0h.8v.8h-.8zM513.5 62.1h.8v.8h-.8zM514.9 42.3h.8v.8h-.8zM512.6 46.3h.8v.8h-.8zM542.5 45.1h.8v.8h-.8zM531.3 16.6h.8v.8h-.8zM529.4 14.3h.8v.8h-.8zM508.6 50.3h.8v.8h-.8zM527.7 43.5h.8v.8h-.8zM505.2 31.3h.8v.8h-.8zM517.2 15.3h.8v.8h-.8zM537.7 23.0h.8v.8h-.8zM542.1 53.9h.8v.8h-.8zM538.2 27.3h.8v.8h-.8zM529.9 40.2h.8v.8h-.8zM553.3 56.9h.8v.8h-.8zM531.6 18.4h.8v.8h-.8zM516.8 14.7h.8v.8h-.8zM537.1 40.2h.8v.8h-.8zM511.6 60.6h.8v.8h-.8zM557.5 23.8h.8v.8h-.8zM546.3 43.7h.8v.8h-.8zM549.3 36.1h.8v.8h-.8zM518.6 50.2h.8v.8h-.8zM503.0 18.7h.8v.8h-.8zM549.7 44.0h.8v.8h-.8zM541.8 13.8h.8v.8h-.8zM555.7 22.1h.8v.8h-.8zM539.3 15.4h.8v.8h-.8zM508.5 60.1h.8v.8h-.8zM523.5 63.2h.8v.8h-.8zM551.8 41.3h.8v.8h-.8zM544.2 59.4h.8v.8h-.8zM531.6 45.2h.8v.8h-.8zM520.4 16.0h.8v.8h-.8zM551.2 33.9h.8v.8h-.8zM539.9 10.7h.8v.8h-.8zM517.0 11.2h.8v.8h-.8zM537.2 41.6h.8v.8h-.8zM530.3 18.8h.8v.8h-.8zM526.2 41.4h.8v.8h-.8zM510.7 63.7h.8v.8h-.8zM524.7 45.0h.8v.8h-.8zM511.7 51.8h.8v.8h-.8zM510.3 31.1h.8v.8h-.8zM503.5 12.7h.8v.8h-.8zM538.3 40.8h.8v.8h-.8zM555.1 27.2h.8v.8h-.8zM520.7 16.9h.8v.8h-.8zM510.3 16.1h.8v.8h-.8zM512.9 46.2h.8v.8h-.8zM509.2 40.9h.8v.8h-.8zM515.4 31.4h.8v.8h-.8zM521.8 59.2h.8v.8h-.8zM506.9 58.5h.8v.8h-.8zM537.2 23.2h.8v.8h-.8zM541.8 23.7h.8v.8h-.8zM507.2 49.4h.8v.8h-.8zM527.5 58.9h.8v.8h-.8zM510.2 63.3h.8v.8h-.8zM529.8 57.5h.8v.8h-.8zM510.9 28.0h.8v.8h-.8zM551.8 17.2h.8v.8h-.8zM537.1 58.0h.8v.8h-.8zM536.4 12.8h.8v.8h-.8zM554.1 24.5h.8v.8h-.8zM517.7 52.3h.8v.8h-.8zM556.3 58.2h.8v.8h-.8zM543.7 62.1h.8v.8h-.8zM525.6 67.4h.8v.8h-.8zM508.8 24.4h.8v.8h-.8zM514.2 64.9h.8v.8h-.8zM516.1 41.8h.8v.8h-.8zM504.0 40.3h.8v.8h-.8zM523.8 47.9h.8v.8h-.8zM512.1 49.8h.8v.8h-.8zM550.4 20.9h.8v.8h-.8zM555.3 45.1h.8v.8h-.8zM555.5 50.8h.8v.8h-.8zM515.5 32.2h.8v.8h-.8zM543.4 61.7h.8v.8h-.8zM518.3 41.5h.8v.8h-.8zM502.6 27.1h.8v.8h-.8zM516.7 30.9h.8v.8h-.8zM531.9 28.4h.8v.8h-.8zM502.5 21.1h.8v.8h-.8zM518.4 41.7h.8v.8h-.8zM520.4 32.9h.8v.8h-.8zM510.1 58.8h.8v.8h-.8zM539.0 15.4h.8v.8h-.8zM547.1 21.6h.8v.8h-.8zM516.0 33.9h.8v.8h-.8zM503.8 23.5h.8v.8h-.8zM523.5 34.1h.8v.8h-.8zM535.6 15.1h.8v.8h-.8zM503.0 15.9h.8v.8h-.8zM515.1 47.4h.8v.8h-.8zM549.0 49.8h.8v.8h-.8zM539.0 29.0h.8v.8h-.8zM540.8 8.6h.8v.8h-.8zM509.4 20.9h.8v.8h-.8zM506.8 47.3h.8v.8h-.8zM522.4 42.2h.8v.8h-.8zM528.7 33.5h.8v.8h-.8zM519.4 58.9h.8v.8h-.8zM518.4 46.7h.8v.8h-.8zM526.0 64.6h.8v.8h-.8zM515.8 53.3h.8v.8h-.8zM511.2 44.0h.8v.8h-.8zM511.6 38.0h.8v.8h-.8zM515.0 61.5h.8v.8h-.8zM527.5 41.8h.8v.8h-.8zM534.9 56.1h.8v.8h-.8zM526.6 59.0h.8v.8h-.8zM527.9 39.1h.8v.8h-.8zM543.2 37.2h.8v.8h-.8zM507.7 14.5h.8v.8h-.8zM531.8 21.5h.8v.8h-.8zM513.1 44.3h.8v.8h-.8zM540.8 48.9h.8v.8h-.8zM523.4 51.4h.8v.8h-.8zM526.1 57.3h.8v.8h-.8zM508.7 43.8h.8v.8h-.8zM541.0 27.5h.8v.8h-.8zM521.9 18.8h.8v.8h-.8zM509.9 30.1h.8v.8h-.8zM551.7 29.4h.8v.8h-.8zM502.3 50.6h.8v.8h-.8zM547.2 55.1h.8v.8h-.8zM522.5 41.6h.8v.8h-.8zM505.6 22.7h.8v.8h-.8zM526.3 17.2h.8v.8h-.8zM522.5 14.0h.8v.8h-.8zM527.3 43.8h.8v.8h-.8zM519.0 12.0h.8v.8h-.8zM505.6 36.3h.8v.8h-.8zM512.5 11.6h.8v.8h-.8zM545.6 18.0h.8v.8h-.8zM515.8 60.3h.8v.8h-.8zM526.3 57.4h.8v.8h-.8zM557.1 56.2h.8v.8h-.8zM519.9 21.4h.8v.8h-.8zM552.0 55.7h.8v.8h-.8zM526.3 39.6h.8v.8h-.8zM515.5 43.2h.8v.8h-.8zM537.5 20.5h.8v.8h-.8zM507.9 55.8h.8v.8h-.8zM527.3 53.8h.8v.8h-.8zM503.6 43.6h.8v.8h-.8zM529.4 59.4h.8v.8h-.8zM504.4 12.7h.8v.8h-.8zM510.2 22.9h.8v.8h-.8zM516.4 20.5h.8v.8h-.8zM506.6 12.5h.8v.8h-.8zM527.5 41.1h.8v.8h-.8zM502.5 16.6h.8v.8h-.8zM509.6 63.8h.8v.8h-.8zM532.0 20.0h.8v.8h-.8zM523.9 63.0h.8v.8h-.8zM548.3 61.6h.8v.8h-.8zM523.7 24.7h.8v.8h-.8zM531.7 18.1h.8v.8h-.8zM546.5 59.2h.8v.8h-.8zM534.6 37.1h.8v.8h-.8zM538.8 61.3h.8v.8h-.8zM551.4 49.3h.8v.8h-.8zM523.3 66.6h.8v.8h-.8zM514.2 53.2h.8v.8h-.8zM533.3 64.9h.8v.8h-.8zM549.0 51.5h.8v.8h-.8zM514.9 32.2h.8v.8h-.8zM511.0 59.1h.8v.8h-.8zM551.3 51.0h.8v.8h-.8zM503.1 48.2h.8v.8h-.8zM546.5 23.5h.8v.8h-.8zM547.6 14.9h.8v.8h-.8zM523.4 18.7h.8v.8h-.8zM528.3 53.3h.8v.8h-.8zM516.8 17.4h.8v.8h-.8zM541.5 55.2h.8v.8h-.8zM529.2 51.0h.8v.8h-.8zM506.2 30.6h.8v.8h-.8zM532.9 36.8h.8v.8h-.8zM507.9 32.2h.8v.8h-.8zM546.7 53.2h.8v.8h-.8zM537.2 24.5h.8v.8h-.8zM527.9 55.8h.8v.8h-.8zM506.4 57.7h.8v.8h-.8zM504.1 48.2h.8v.8h-.8zM525.1 57.8h.8v.8h-.8zM553.8 57.4h.8v.8h-.8zM502.8 43.2h.8v.8h-.8zM506.8 61.2h.8v.8h-.8zM522.4 51.3h.8v.8h-.8zM526.0 49.1h.8v.8h-.8zM522.8 54.4h.8v.8h-.8zM514.4 45.6h.8v.8h-.8zM548.7 30.0h.8v.8h-.8zM518.4 39.5h.8v.8h-.8zM513.6 59.0h.8v.8h-.8zM507.0 56.8h.8v.8h-.8zM514.2 34.1h.8v.8h-.8zM546.3 18.0h.8v.8h-.8zM533.5 17.3h.8v.8h-.8zM535.1 9.2h.8v.8h-.8zM516.4 63.4h.8v.8h-.8zM536.5 12.3h.8v.8h-.8zM552.1 48.3h.8v.8h-.8zM519.2 42.1h.8v.8h-.8zM518.6 56.1h.8v.8h-.8zM538.0 26.7h.8v.8h-.8zM520.5 27.7h.8v.8h-.8zM529.6 24.3h.8v.8h-.8zM546.4 28.5h.8v.8h-.8zM548.3 38.3h.8v.8h-.8zM541.0 16.1h.8v.8h-.8zM541.6 39.8h.8v.8h-.8zM503.1 35.2h.8v.8h-.8zM518.1 18.2h.8v.8h-.8zM513.3 39.3h.8v.8h-.8zM556.9 37.7h.8v.8h-.8zM537.6 49.5h.8v.8h-.8zM545.3 25.3h.8v.8h-.8zM540.6 26.8h.8v.8h-.8zM505.0 18.9h.8v.8h-.8zM523.2 14.1h.8v.8h-.8zM515.8 26.0h.8v.8h-.8zM531.9 9.5h.8v.8h-.8zM511.4 27.8h.8v.8h-.8zM509.9 11.9h.8v.8h-.8zM504.2 28.7h.8v.8h-.8zM533.6 51.1h.8v.8h-.8zM535.8 15.1h.8v.8h-.8zM517.9 58.8h.8v.8h-.8zM519.3 49.4h.8v.8h-.8zM541.9 44.0h.8v.8h-.8zM547.1 12.6h.8v.8h-.8zM544.5 44.8h.8v.8h-.8zM523.8 59.8h.8v.8h-.8zM505.6 38.5h.8v.8h-.8zM539.9 23.1h.8v.8h-.8zM553.6 41.9h.8v.8h-.8zM517.7 58.8h.8v.8h-.8zM514.6 34.0h.8v.8h-.8zM548.5 38.1h.8v.8h-.8zM518.6 21.0h.8v.8h-.8zM544.2 28.0h.8v.8h-.8zM504.0 59.7h.8v.8h-.8zM548.8 19.1h.8v.8h-.8zM548.6 30.5h.8v.8h-.8zM506.9 40.3h.8v.8h-.8zM532.1 33.1h.8v.8h-.8zM506.8 32.2h.8v.8h-.8zM544.2 26.8h.8v.8h-.8zM555.6 51.8h.8v.8h-.8zM556.9 33.3h.8v.8h-.8zM519.0 33.7h.8v.8h-.8zM530.8 34.7h.8v.8h-.8zM541.4 64.4h.8v.8h-.8zM510.6 16.3h.8v.8h-.8zM550.8 15.9h.8v.8h-.8zM517.5 24.8h.8v.8h-.8zM510.1 59.0h.8v.8h-.8zM522.0 35.4h.8v.8h-.8zM529.8 55.9h.8v.8h-.8zM512.2 21.5h.8v.8h-.8zM521.8 62.5h.8v.8h-.8zM508.6 28.2h.8v.8h-.8zM511.0 43.5h.8v.8h-.8zM530.3 34.2h.8v.8h-.8zM512.3 51.1h.8v.8h-.8zM538.1 42.1h.8v.8h-.8zM524.9 44.3h.8v.8h-.8zM505.5 49.1h.8v.8h-.8zM523.4 26.1h.8v.8h-.8zM555.8 21.3h.8v.8h-.8zM514.3 64.2h.8v.8h-.8zM510.9 43.6h.8v.8h-.8zM553.4 26.5h.8v.8h-.8zM530.3 63.6h.8v.8h-.8zM525.9 21.9h.8v.8h-.8zM516.9 25.5h.8v.8h-.8zM530.8 57.7h.8v.8h-.8zM521.1 42.2h.8v.8h-.8zM546.7 18.4h.8v.8h-.8zM547.9 57.8h.8v.8h-.8zM508.9 43.1h.8v.8h-.8zM523.3 38.6h.8v.8h-.8zM532.2 19.7h.8v.8h-.8zM518.3 43.7h.8v.8h-.8zM519.2 47.8h.8v.8h-.8zM549.7 16.4h.8v.8h-.8zM539.9 34.7h.8v.8h-.8zM523.9 49.0h.8v.8h-.8zM548.2 38.7h.8v.8h-.8zM502.6 48.4h.8v.8h-.8zM544.6 44.7h.8v.8h-.8zM505.8 48.9h.8v.8h-.8zM545.9 35.7h.8v.8h-.8zM536.7 9.6h.8v.8h-.8zM552.0 47.3h.8v.8h-.8zM556.7 26.4h.8v.8h-.8zM524.0 66.9h.8v.8h-.8zM545.7 47.2h.8v.8h-.8zM550.3 47.2h.8v.8h-.8zM556.0 44.6h.8v.8h-.8zM515.4 20.2h.8v.8h-.8zM548.9 39.3h.8v.8h-.8zM512.7 20.4h.8v.8h-.8zM511.3 33.8h.8v.8h-.8zM542.3 13.8h.8v.8h-.8zM555.5 42.9h.8v.8h-.8zM525.8 60.9h.8v.8h-.8zM516.6 12.0h.8v.8h-.8zM517.7 67.4h.8v.8h-.8zM541.0 17.4h.8v.8h-.8zM528.7 13.1h.8v.8h-.8zM542.0 36.1h.8v.8h-.8zM513.5 31.4h.8v.8h-.8zM510.6 38.2h.8v.8h-.8zM543.2 37.9h.8v.8h-.8zM534.0 32.8h.8v.8h-.8zM513.3 52.3h.8v.8h-.8zM547.3 23.9h.8v.8h-.8zM552.0 26.1h.8v.8h-.8zM548.8 46.5h.8v.8h-.8zM510.3 37.7h.8v.8h-.8zM521.2 11.6h.8v.8h-.8zM520.4 63.3h.8v.8h-.8zM542.5 59.2h.8v.8h-.8zM536.3 65.1h.8v.8h-.8zM520.5 46.3h.8v.8h-.8zM502.3 28.1h.8v.8h-.8zM525.5 45.8h.8v.8h-.8zM523.7 27.3h.8v.8h-.8zM509.7 42.6h.8v.8h-.8zM509.9 17.1h.8v.8h-.8zM551.7 20.3h.8v.8h-.8zM502.0 33.7h.8v.8h-.8zM529.1 27.8h.8v.8h-.8zM503.1 12.9h.8v.8h-.8zM535.1 58.2h.8v.8h-.8zM528.1 20.3h.8v.8h-.8zM521.9 29.9h.8v.8h-.8zM548.3 45.7h.8v.8h-.8zM520.7 23.4h.8v.8h-.8zM538.0 60.3h.8v.8h-.8zM531.1 63.8h.8v.8h-.8zM506.3 17.3h.8v.8h-.8zM510.4 47.1h.8v.8h-.8zM543.6 56.0h.8v.8h-.8zM536.2 60.9h.8v.8h-.8zM522.0 23.4h.8v.8h-.8zM527.8 16.5h.8v.8h-.8zM506.4 12.6h.8v.8h-.8zM528.6 31.7h.8v.8h-.8zM524.4 27.8h.8v.8h-.8zM528.2 27.9h.8v.8h-.8zM516.3 17.7h.8v.8h-.8zM519.7 29.0h.8v.8h-.8zM509.4 58.1h.8v.8h-.8zM531.1 54.1h.8v.8h-.8zM523.9 18.6h.8v.8h-.8zM504.6 19.6h.8v.8h-.8zM521.5 55.3h.8v.8h-.8zM520.4 39.8h.8v.8h-.8zM507.5 24.8h.8v.8h-.8zM521.9 59.0h.8v.8h-.8zM546.2 20.4h.8v.8h-.8zM543.7 41.3h.8v.8h-.8zM520.0 60.5h.8v.8h-.8zM551.2 35.0h.8v.8h-.8zM528.2 56.4h.8v.8h-.8zM539.1 17.4h.8v.8h-.8zM543.8 31.4h.8v.8h-.8zM523.0 67.3h.8v.8h-.8zM534.7 59.4h.8v.8h-.8zM519.3 54.9h.8v.8h-.8zM513.5 41.2h.8v.8h-.8z" fill="#c86a70" opacity="0.6"/>
<path d="M516.2 38.3h.8v.8h-.8zM503.6 59.0h.8v.8h-.8zM532.1 65.3h.8v.8h-.8zM514.3 34.8h.8v.8h-.8zM549.8 15.6h.8v.8h-.8zM525.0 18.7h.8v.8h-.8zM541.1 49.2h.8v.8h-.8zM531.0 32.1h.8v.8h-.8zM530.8 42.3h.8v.8h-.8zM505.1 61.1h.8v.8h-.8zM513.1 38.9h.8v.8h-.8zM521.8 29.2h.8v.8h-.8zM536.7 45.4h.8v.8h-.8zM517.2 51.5h.8v.8h-.8zM508.0 62.9h.8v.8h-.8zM541.2 49.4h.8v.8h-.8zM524.0 43.2h.8v.8h-.8zM555.8 61.4h.8v.8h-.8zM556.1 51.0h.8v.8h-.8zM551.3 16.4h.8v.8h-.8zM545.5 31.2h.8v.8h-.8zM516.4 41.1h.8v.8h-.8zM523.7 26.9h.8v.8h-.8zM518.8 28.5h.8v.8h-.8zM556.8 58.2h.8v.8h-.8zM540.3 19.0h.8v.8h-.8zM546.9 41.6h.8v.8h-.8zM549.3 35.8h.8v.8h-.8zM537.9 33.5h.8v.8h-.8zM515.3 38.3h.8v.8h-.8zM514.5 33.3h.8v.8h-.8zM515.9 21.4h.8v.8h-.8zM541.9 29.4h.8v.8h-.8zM538.7 50.8h.8v.8h-.8zM523.3 57.0h.8v.8h-.8zM508.6 44.7h.8v.8h-.8zM513.5 25.5h.8v.8h-.8zM556.1 41.4h.8v.8h-.8zM549.6 55.0h.8v.8h-.8zM509.6 38.6h.8v.8h-.8zM519.3 38.8h.8v.8h-.8zM526.6 35.5h.8v.8h-.8zM529.4 47.6h.8v.8h-.8zM527.7 58.9h.8v.8h-.8zM523.6 34.1h.8v.8h-.8zM551.9 53.7h.8v.8h-.8zM541.4 61.3h.8v.8h-.8zM510.5 58.8h.8v.8h-.8zM528.0 11.0h.8v.8h-.8zM543.4 33.9h.8v.8h-.8zM538.5 9.4h.8v.8h-.8zM554.6 50.2h.8v.8h-.8zM506.2 58.7h.8v.8h-.8zM545.9 60.9h.8v.8h-.8zM552.0 46.0h.8v.8h-.8zM519.0 14.7h.8v.8h-.8zM524.2 38.3h.8v.8h-.8zM554.0 44.1h.8v.8h-.8zM535.7 42.3h.8v.8h-.8zM505.4 29.7h.8v.8h-.8zM513.1 61.7h.8v.8h-.8zM504.2 40.5h.8v.8h-.8zM523.4 52.7h.8v.8h-.8zM549.6 26.7h.8v.8h-.8zM515.6 42.1h.8v.8h-.8zM518.2 17.7h.8v.8h-.8zM531.0 14.1h.8v.8h-.8zM552.8 28.0h.8v.8h-.8zM504.8 14.2h.8v.8h-.8zM550.1 62.5h.8v.8h-.8zM543.5 55.0h.8v.8h-.8zM532.2 43.0h.8v.8h-.8zM519.1 26.6h.8v.8h-.8zM542.9 42.6h.8v.8h-.8zM549.1 31.5h.8v.8h-.8zM528.8 28.7h.8v.8h-.8zM508.5 29.8h.8v.8h-.8zM557.5 23.9h.8v.8h-.8zM543.1 50.2h.8v.8h-.8zM532.6 40.7h.8v.8h-.8zM507.7 41.8h.8v.8h-.8zM557.2 25.7h.8v.8h-.8zM544.2 28.7h.8v.8h-.8zM516.9 41.1h.8v.8h-.8zM517.3 51.1h.8v.8h-.8zM509.2 20.1h.8v.8h-.8zM516.8 21.2h.8v.8h-.8zM531.7 11.7h.8v.8h-.8zM551.6 27.4h.8v.8h-.8zM516.3 13.6h.8v.8h-.8zM514.6 20.3h.8v.8h-.8zM530.8 9.6h.8v.8h-.8zM542.3 14.5h.8v.8h-.8zM517.2 39.5h.8v.8h-.8zM536.5 40.3h.8v.8h-.8zM517.1 40.4h.8v.8h-.8zM524.4 14.5h.8v.8h-.8zM538.4 41.3h.8v.8h-.8zM510.9 59.8h.8v.8h-.8zM537.7 31.3h.8v.8h-.8zM508.2 16.7h.8v.8h-.8zM515.3 42.4h.8v.8h-.8zM519.4 61.7h.8v.8h-.8zM544.9 11.6h.8v.8h-.8zM545.6 36.2h.8v.8h-.8zM512.8 35.0h.8v.8h-.8zM542.9 63.7h.8v.8h-.8zM552.4 48.5h.8v.8h-.8zM534.5 39.4h.8v.8h-.8zM541.3 27.6h.8v.8h-.8zM526.9 38.7h.8v.8h-.8zM511.3 32.2h.8v.8h-.8zM513.2 57.9h.8v.8h-.8zM521.4 25.2h.8v.8h-.8zM512.9 56.9h.8v.8h-.8zM534.1 41.9h.8v.8h-.8zM541.4 29.3h.8v.8h-.8zM541.4 58.0h.8v.8h-.8zM555.8 54.9h.8v.8h-.8zM509.2 42.2h.8v.8h-.8zM535.1 19.8h.8v.8h-.8zM531.0 20.2h.8v.8h-.8zM523.9 63.3h.8v.8h-.8zM545.8 55.4h.8v.8h-.8zM534.0 15.1h.8v.8h-.8zM520.7 30.6h.8v.8h-.8zM537.4 43.6h.8v.8h-.8zM537.3 59.7h.8v.8h-.8zM555.9 41.7h.8v.8h-.8zM513.7 25.0h.8v.8h-.8zM509.4 35.1h.8v.8h-.8zM543.6 9.9h.8v.8h-.8zM518.1 38.0h.8v.8h-.8zM553.9 34.1h.8v.8h-.8zM521.1 12.7h.8v.8h-.8zM548.3 42.5h.8v.8h-.8zM534.0 60.3h.8v.8h-.8zM535.8 24.0h.8v.8h-.8zM535.6 11.0h.8v.8h-.8zM551.6 22.3h.8v.8h-.8zM536.8 31.5h.8v.8h-.8zM544.6 38.9h.8v.8h-.8zM522.3 26.1h.8v.8h-.8zM541.2 26.9h.8v.8h-.8zM539.5 10.1h.8v.8h-.8zM532.8 61.4h.8v.8h-.8zM507.7 39.5h.8v.8h-.8zM515.3 42.0h.8v.8h-.8zM504.4 25.6h.8v.8h-.8zM546.3 62.0h.8v.8h-.8zM544.0 30.7h.8v.8h-.8zM521.6 32.3h.8v.8h-.8zM549.6 27.0h.8v.8h-.8zM542.4 19.9h.8v.8h-.8zM520.2 32.7h.8v.8h-.8zM509.8 22.1h.8v.8h-.8zM530.4 63.0h.8v.8h-.8zM552.2 41.1h.8v.8h-.8zM550.5 43.5h.8v.8h-.8zM530.5 29.8h.8v.8h-.8zM522.2 11.2h.8v.8h-.8zM503.0 27.4h.8v.8h-.8zM535.6 62.3h.8v.8h-.8zM503.1 19.2h.8v.8h-.8zM521.8 48.0h.8v.8h-.8zM519.9 29.6h.8v.8h-.8zM553.0 56.5h.8v.8h-.8zM542.4 58.2h.8v.8h-.8zM540.2 48.5h.8v.8h-.8zM506.9 54.3h.8v.8h-.8zM516.6 68.5h.8v.8h-.8zM519.1 41.9h.8v.8h-.8zM542.1 14.1h.8v.8h-.8zM526.7 19.3h.8v.8h-.8zM512.0 55.4h.8v.8h-.8zM514.8 59.9h.8v.8h-.8zM510.4 31.0h.8v.8h-.8zM518.9 43.5h.8v.8h-.8zM543.9 18.8h.8v.8h-.8zM526.8 36.1h.8v.8h-.8zM527.7 37.7h.8v.8h-.8zM520.3 65.5h.8v.8h-.8zM518.0 21.9h.8v.8h-.8zM524.7 17.5h.8v.8h-.8zM543.9 17.0h.8v.8h-.8zM507.0 40.6h.8v.8h-.8zM539.1 16.9h.8v.8h-.8zM521.4 53.8h.8v.8h-.8zM525.9 56.0h.8v.8h-.8zM531.1 43.8h.8v.8h-.8zM509.2 25.7h.8v.8h-.8zM554.5 47.3h.8v.8h-.8zM524.8 63.6h.8v.8h-.8zM528.6 52.8h.8v.8h-.8zM538.4 13.5h.8v.8h-.8zM552.7 22.5h.8v.8h-.8zM536.0 43.1h.8v.8h-.8zM517.4 45.9h.8v.8h-.8zM516.9 68.7h.8v.8h-.8zM556.0 37.2h.8v.8h-.8zM545.9 41.1h.8v.8h-.8zM504.4 41.9h.8v.8h-.8zM521.6 50.2h.8v.8h-.8zM516.8 16.4h.8v.8h-.8zM536.0 25.4h.8v.8h-.8zM546.4 50.1h.8v.8h-.8zM503.9 54.9h.8v.8h-.8zM551.7 34.5h.8v.8h-.8zM503.6 57.0h.8v.8h-.8zM506.7 45.3h.8v.8h-.8zM519.1 26.9h.8v.8h-.8zM537.3 50.9h.8v.8h-.8zM557.2 58.8h.8v.8h-.8zM530.4 56.5h.8v.8h-.8zM531.1 51.7h.8v.8h-.8zM552.5 24.3h.8v.8h-.8zM504.4 12.9h.8v.8h-.8zM503.6 22.0h.8v.8h-.8zM517.6 23.9h.8v.8h-.8zM550.6 40.4h.8v.8h-.8zM517.5 19.1h.8v.8h-.8zM519.6 21.5h.8v.8h-.8zM540.3 16.2h.8v.8h-.8zM533.7 19.8h.8v.8h-.8zM520.8 37.1h.8v.8h-.8zM546.8 12.8h.8v.8h-.8zM554.5 35.8h.8v.8h-.8zM541.8 52.6h.8v.8h-.8zM527.2 57.3h.8v.8h-.8zM538.9 58.9h.8v.8h-.8zM515.2 67.0h.8v.8h-.8zM541.8 33.2h.8v.8h-.8zM530.3 39.1h.8v.8h-.8zM543.6 25.6h.8v.8h-.8zM541.3 61.1h.8v.8h-.8zM517.9 30.0h.8v.8h-.8zM526.5 29.4h.8v.8h-.8zM541.4 52.5h.8v.8h-.8zM549.2 16.6h.8v.8h-.8zM517.5 52.0h.8v.8h-.8zM553.2 24.3h.8v.8h-.8zM552.4 50.4h.8v.8h-.8zM534.5 54.5h.8v.8h-.8zM544.4 29.4h.8v.8h-.8zM547.8 18.3h.8v.8h-.8zM523.7 65.4h.8v.8h-.8zM510.1 18.6h.8v.8h-.8zM552.0 48.5h.8v.8h-.8zM554.6 55.9h.8v.8h-.8zM540.3 50.0h.8v.8h-.8zM553.9 28.8h.8v.8h-.8zM543.9 25.0h.8v.8h-.8zM514.4 36.9h.8v.8h-.8zM531.8 59.8h.8v.8h-.8zM534.6 59.4h.8v.8h-.8zM553.9 38.2h.8v.8h-.8zM519.3 64.1h.8v.8h-.8zM519.6 40.0h.8v.8h-.8zM515.4 29.7h.8v.8h-.8zM538.7 31.3h.8v.8h-.8zM520.5 43.9h.8v.8h-.8zM539.8 47.2h.8v.8h-.8zM542.2 21.6h.8v.8h-.8zM553.0 32.3h.8v.8h-.8zM510.9 13.8h.8v.8h-.8zM537.9 45.2h.8v.8h-.8zM516.3 46.8h.8v.8h-.8zM547.3 63.4h.8v.8h-.8zM522.4 45.2h.8v.8h-.8zM512.8 34.5h.8v.8h-.8zM514.2 14.0h.8v.8h-.8zM523.0 65.5h.8v.8h-.8zM557.1 53.9h.8v.8h-.8zM522.7 13.0h.8v.8h-.8zM512.0 42.7h.8v.8h-.8zM533.0 43.2h.8v.8h-.8zM551.2 53.3h.8v.8h-.8zM526.7 42.4h.8v.8h-.8zM557.0 60.7h.8v.8h-.8zM538.9 36.6h.8v.8h-.8zM510.7 20.4h.8v.8h-.8zM513.3 50.7h.8v.8h-.8zM503.0 38.4h.8v.8h-.8zM514.2 28.3h.8v.8h-.8zM503.0 19.3h.8v.8h-.8zM551.1 38.5h.8v.8h-.8zM553.5 62.1h.8v.8h-.8zM519.2 16.3h.8v.8h-.8zM552.2 28.3h.8v.8h-.8zM508.8 57.0h.8v.8h-.8zM513.4 56.5h.8v.8h-.8zM546.1 51.1h.8v.8h-.8zM516.0 32.0h.8v.8h-.8zM521.3 53.0h.8v.8h-.8zM554.1 51.1h.8v.8h-.8zM533.7 23.3h.8v.8h-.8zM542.2 59.7h.8v.8h-.8zM521.3 22.7h.8v.8h-.8zM515.1 21.6h.8v.8h-.8zM532.3 22.2h.8v.8h-.8zM537.4 27.1h.8v.8h-.8zM555.1 60.7h.8v.8h-.8zM549.9 36.5h.8v.8h-.8zM541.7 21.0h.8v.8h-.8zM541.0 31.7h.8v.8h-.8zM509.9 12.3h.8v.8h-.8zM530.0 62.8h.8v.8h-.8zM534.2 34.7h.8v.8h-.8zM511.2 44.8h.8v.8h-.8zM505.2 47.5h.8v.8h-.8zM556.8 26.8h.8v.8h-.8zM556.0 31.5h.8v.8h-.8zM537.5 42.8h.8v.8h-.8zM536.4 60.4h.8v.8h-.8zM534.6 58.5h.8v.8h-.8zM507.6 35.7h.8v.8h-.8zM533.4 57.7h.8v.8h-.8zM522.2 55.0h.8v.8h-.8zM509.0 48.5h.8v.8h-.8zM526.5 17.6h.8v.8h-.8zM536.9 49.1h.8v.8h-.8zM539.8 63.0h.8v.8h-.8zM524.8 29.7h.8v.8h-.8zM556.5 39.4h.8v.8h-.8zM553.6 43.0h.8v.8h-.8zM517.0 14.0h.8v.8h-.8zM522.9 57.3h.8v.8h-.8zM518.3 36.7h.8v.8h-.8zM532.5 65.2h.8v.8h-.8zM516.4 58.5h.8v.8h-.8zM556.8 56.8h.8v.8h-.8zM502.6 60.2h.8v.8h-.8zM529.3 58.9h.8v.8h-.8zM514.2 39.3h.8v.8h-.8zM519.0 16.6h.8v.8h-.8zM528.0 63.9h.8v.8h-.8zM511.1 53.4h.8v.8h-.8zM531.1 63.6h.8v.8h-.8zM545.5 32.9h.8v.8h-.8zM511.7 50.9h.8v.8h-.8zM522.6 27.1h.8v.8h-.8zM518.4 57.2h.8v.8h-.8zM511.4 33.7h.8v.8h-.8zM516.1 40.4h.8v.8h-.8zM551.3 27.7h.8v.8h-.8zM505.4 51.0h.8v.8h-.8zM523.1 35.2h.8v.8h-.8zM527.8 36.8h.8v.8h-.8zM523.3 51.7h.8v.8h-.8zM516.9 61.9h.8v.8h-.8zM514.1 17.1h.8v.8h-.8zM537.8 33.5h.8v.8h-.8zM527.1 53.4h.8v.8h-.8zM515.4 61.4h.8v.8h-.8zM545.8 36.8h.8v.8h-.8zM545.2 58.0h.8v.8h-.8zM509.2 39.9h.8v.8h-.8zM521.5 35.1h.8v.8h-.8zM539.6 34.9h.8v.8h-.8zM528.4 22.3h.8v.8h-.8zM510.7 35.0h.8v.8h-.8zM531.0 23.0h.8v.8h-.8zM522.6 19.4h.8v.8h-.8zM515.8 52.3h.8v.8h-.8zM542.1 63.9h.8v.8h-.8zM534.6 20.3h.8v.8h-.8zM512.8 36.3h.8v.8h-.8zM507.3 13.6h.8v.8h-.8zM508.9 18.4h.8v.8h-.8zM523.9 21.1h.8v.8h-.8zM541.4 16.4h.8v.8h-.8zM508.8 33.5h.8v.8h-.8zM523.6 31.7h.8v.8h-.8zM528.3 55.1h.8v.8h-.8zM533.0 61.2h.8v.8h-.8zM524.6 51.1h.8v.8h-.8zM552.5 36.7h.8v.8h-.8zM530.7 66.2h.8v.8h-.8zM545.6 40.3h.8v.8h-.8zM515.1 29.6h.8v.8h-.8zM539.3 31.8h.8v.8h-.8zM524.7 39.2h.8v.8h-.8zM553.1 21.1h.8v.8h-.8zM554.9 58.4h.8v.8h-.8zM540.9 37.5h.8v.8h-.8zM529.5 50.1h.8v.8h-.8zM518.4 45.1h.8v.8h-.8zM535.5 35.6h.8v.8h-.8zM518.8 57.9h.8v.8h-.8zM549.8 40.2h.8v.8h-.8zM529.0 30.6h.8v.8h-.8z" fill="#d89aa0" opacity="0.6"/>
<path d="M548.6 42.0h.8v.8h-.8zM525.5 58.7h.8v.8h-.8zM549.0 38.9h.8v.8h-.8zM530.7 21.8h.8v.8h-.8zM521.1 61.8h.8v.8h-.8zM548.1 28.9h.8v.8h-.8zM528.5 14.3h.8v.8h-.8zM556.6 26.2h.8v.8h-.8zM532.2 50.0h.8v.8h-.8zM556.7 35.4h.8v.8h-.8zM510.8 51.7h.8v.8h-.8zM524.1 32.6h.8v.8h-.8zM531.4 38.7h.8v.8h-.8zM544.1 11.4h.8v.8h-.8zM556.6 57.3h.8v.8h-.8zM524.2 55.8h.8v.8h-.8zM519.0 18.6h.8v.8h-.8zM543.5 47.1h.8v.8h-.8zM537.0 32.9h.8v.8h-.8zM511.4 47.9h.8v.8h-.8zM547.3 24.6h.8v.8h-.8zM514.4 66.8h.8v.8h-.8zM515.4 51.9h.8v.8h-.8zM541.8 28.3h.8v.8h-.8zM519.8 31.5h.8v.8h-.8zM502.8 17.0h.8v.8h-.8zM540.2 59.6h.8v.8h-.8zM509.1 32.2h.8v.8h-.8zM534.5 14.6h.8v.8h-.8zM542.0 59.0h.8v.8h-.8zM522.1 65.5h.8v.8h-.8zM506.0 59.9h.8v.8h-.8zM522.5 59.7h.8v.8h-.8zM517.8 62.4h.8v.8h-.8zM555.0 33.0h.8v.8h-.8zM545.2 37.7h.8v.8h-.8zM549.7 56.0h.8v.8h-.8zM506.8 31.9h.8v.8h-.8zM525.0 25.2h.8v.8h-.8zM528.2 28.8h.8v.8h-.8zM512.1 61.7h.8v.8h-.8zM541.1 42.4h.8v.8h-.8zM503.1 26.8h.8v.8h-.8zM506.7 21.9h.8v.8h-.8zM556.8 28.9h.8v.8h-.8zM537.5 22.9h.8v.8h-.8zM537.7 59.5h.8v.8h-.8zM550.4 32.8h.8v.8h-.8zM548.9 52.2h.8v.8h-.8zM503.7 26.9h.8v.8h-.8zM526.4 15.4h.8v.8h-.8zM528.2 10.5h.8v.8h-.8zM526.5 50.7h.8v.8h-.8zM530.9 11.6h.8v.8h-.8zM551.6 18.7h.8v.8h-.8zM529.1 28.9h.8v.8h-.8zM520.7 67.2h.8v.8h-.8zM503.0 32.3h.8v.8h-.8zM542.3 50.8h.8v.8h-.8zM545.3 15.4h.8v.8h-.8zM523.5 42.2h.8v.8h-.8zM523.3 49.7h.8v.8h-.8zM523.0 37.5h.8v.8h-.8zM516.9 47.0h.8v.8h-.8zM546.3 59.4h.8v.8h-.8zM528.5 34.2h.8v.8h-.8zM519.6 17.3h.8v.8h-.8zM557.4 60.0h.8v.8h-.8zM508.4 16.1h.8v.8h-.8zM507.8 46.2h.8v.8h-.8zM554.9 34.5h.8v.8h-.8zM529.9 37.2h.8v.8h-.8zM528.2 58.8h.8v.8h-.8zM540.9 64.5h.8v.8h-.8zM537.9 16.0h.8v.8h-.8zM535.8 45.7h.8v.8h-.8zM519.7 44.9h.8v.8h-.8zM533.5 61.2h.8v.8h-.8zM510.3 36.0h.8v.8h-.8zM509.5 13.0h.8v.8h-.8zM549.7 55.7h.8v.8h-.8zM534.0 45.2h.8v.8h-.8zM530.2 42.9h.8v.8h-.8zM512.0 63.6h.8v.8h-.8zM545.1 18.8h.8v.8h-.8zM554.9 42.2h.8v.8h-.8zM542.2 27.6h.8v.8h-.8zM522.1 44.4h.8v.8h-.8zM514.4 12.2h.8v.8h-.8zM532.1 47.0h.8v.8h-.8zM524.3 14.6h.8v.8h-.8zM557.3 40.0h.8v.8h-.8zM539.2 36.0h.8v.8h-.8zM549.8 50.5h.8v.8h-.8zM552.4 55.6h.8v.8h-.8zM504.6 35.8h.8v.8h-.8zM548.8 23.1h.8v.8h-.8zM526.0 36.8h.8v.8h-.8zM507.4 41.0h.8v.8h-.8zM523.8 10.7h.8v.8h-.8zM516.9 18.8h.8v.8h-.8zM539.1 33.4h.8v.8h-.8zM535.2 37.2h.8v.8h-.8zM531.9 55.0h.8v.8h-.8zM516.8 66.7h.8v.8h-.8zM533.5 15.0h.8v.8h-.8zM535.7 47.0h.8v.8h-.8zM553.6 35.4h.8v.8h-.8zM531.5 44.0h.8v.8h-.8zM544.7 10.3h.8v.8h-.8zM531.0 14.7h.8v.8h-.8zM519.4 55.4h.8v.8h-.8zM537.9 62.1h.8v.8h-.8zM521.9 47.3h.8v.8h-.8zM525.5 54.1h.8v.8h-.8zM509.1 26.0h.8v.8h-.8zM514.0 56.2h.8v.8h-.8zM519.3 21.6h.8v.8h-.8zM515.5 21.2h.8v.8h-.8zM536.6 49.9h.8v.8h-.8zM550.9 52.5h.8v.8h-.8zM522.4 57.9h.8v.8h-.8zM533.5 31.1h.8v.8h-.8zM507.9 50.0h.8v.8h-.8zM509.2 18.4h.8v.8h-.8zM506.7 46.2h.8v.8h-.8zM519.3 40.9h.8v.8h-.8zM502.3 40.9h.8v.8h-.8zM526.3 59.2h.8v.8h-.8zM552.6 35.2h.8v.8h-.8zM542.4 27.2h.8v.8h-.8zM503.5 51.2h.8v.8h-.8zM551.1 56.0h.8v.8h-.8zM526.8 49.9h.8v.8h-.8zM552.9 55.3h.8v.8h-.8zM546.9 39.6h.8v.8h-.8zM539.2 34.2h.8v.8h-.8zM539.1 58.2h.8v.8h-.8zM554.1 56.8h.8v.8h-.8zM546.2 29.1h.8v.8h-.8zM525.1 14.8h.8v.8h-.8zM523.7 66.3h.8v.8h-.8zM546.3 32.8h.8v.8h-.8zM532.3 60.0h.8v.8h-.8zM544.7 60.7h.8v.8h-.8zM524.6 60.4h.8v.8h-.8zM528.9 17.5h.8v.8h-.8zM540.2 31.5h.8v.8h-.8zM512.2 38.8h.8v.8h-.8zM517.7 20.8h.8v.8h-.8zM516.0 38.8h.8v.8h-.8zM547.9 57.1h.8v.8h-.8zM557.1 54.3h.8v.8h-.8zM532.2 56.3h.8v.8h-.8zM527.4 51.8h.8v.8h-.8zM545.7 23.1h.8v.8h-.8zM514.4 60.0h.8v.8h-.8zM507.7 60.4h.8v.8h-.8zM526.0 12.1h.8v.8h-.8zM520.1 39.6h.8v.8h-.8zM518.9 48.8h.8v.8h-.8zM512.6 51.1h.8v.8h-.8zM538.7 24.4h.8v.8h-.8zM555.0 47.8h.8v.8h-.8zM525.6 20.9h.8v.8h-.8zM555.8 52.1h.8v.8h-.8zM539.3 15.5h.8v.8h-.8zM541.3 34.6h.8v.8h-.8zM546.3 21.6h.8v.8h-.8zM543.3 25.3h.8v.8h-.8zM540.3 41.9h.8v.8h-.8zM528.2 23.4h.8v.8h-.8zM506.6 30.2h.8v.8h-.8zM528.4 18.8h.8v.8h-.8zM530.2 31.9h.8v.8h-.8zM543.6 41.3h.8v.8h-.8zM514.6 17.7h.8v.8h-.8zM520.4 56.8h.8v.8h-.8zM525.9 49.7h.8v.8h-.8zM546.7 45.8h.8v.8h-.8zM507.9 23.8h.8v.8h-.8zM544.7 18.8h.8v.8h-.8zM512.9 30.4h.8v.8h-.8zM544.5 35.0h.8v.8h-.8zM540.8 53.7h.8v.8h-.8zM535.1 45.7h.8v.8h-.8zM518.8 57.7h.8v.8h-.8zM539.7 58.8h.8v.8h-.8zM519.0 56.8h.8v.8h-.8zM518.4 36.4h.8v.8h-.8zM528.6 46.9h.8v.8h-.8zM525.8 43.3h.8v.8h-.8zM509.3 17.0h.8v.8h-.8zM514.9 55.6h.8v.8h-.8zM535.6 56.4h.8v.8h-.8zM527.9 13.1h.8v.8h-.8zM537.9 15.8h.8v.8h-.8zM526.5 46.1h.8v.8h-.8zM545.4 18.3h.8v.8h-.8zM523.1 60.4h.8v.8h-.8zM543.2 12.8h.8v.8h-.8zM527.3 65.0h.8v.8h-.8zM510.0 23.8h.8v.8h-.8zM526.8 38.7h.8v.8h-.8zM515.6 26.5h.8v.8h-.8zM538.7 35.8h.8v.8h-.8zM536.4 39.6h.8v.8h-.8zM552.8 45.3h.8v.8h-.8zM549.5 59.0h.8v.8h-.8zM520.5 40.9h.8v.8h-.8zM516.6 36.0h.8v.8h-.8zM531.7 64.1h.8v.8h-.8z" fill="#a05a78" opacity="0.55"/>
<path d="M509.5 59.7h.8v.8h-.8zM503.9 23.0h.8v.8h-.8zM526.4 39.1h.8v.8h-.8zM502.3 55.8h.8v.8h-.8zM551.3 53.2h.8v.8h-.8zM534.5 60.5h.8v.8h-.8zM513.6 45.0h.8v.8h-.8zM514.3 67.5h.8v.8h-.8zM506.1 60.9h.8v.8h-.8zM527.5 25.1h.8v.8h-.8zM537.3 25.9h.8v.8h-.8zM554.8 18.7h.8v.8h-.8zM519.6 63.1h.8v.8h-.8zM552.4 59.3h.8v.8h-.8zM509.0 24.0h.8v.8h-.8zM526.4 49.9h.8v.8h-.8zM522.7 50.8h.8v.8h-.8zM536.9 45.0h.8v.8h-.8zM540.0 56.3h.8v.8h-.8zM546.9 15.4h.8v.8h-.8zM549.9 43.7h.8v.8h-.8zM537.2 65.2h.8v.8h-.8zM549.1 54.9h.8v.8h-.8zM522.5 39.3h.8v.8h-.8zM526.0 54.5h.8v.8h-.8zM541.8 30.2h.8v.8h-.8zM536.1 29.0h.8v.8h-.8zM511.4 22.3h.8v.8h-.8zM503.5 47.0h.8v.8h-.8zM538.8 51.6h.8v.8h-.8zM504.9 13.7h.8v.8h-.8zM531.2 13.7h.8v.8h-.8zM509.2 56.5h.8v.8h-.8zM531.8 62.7h.8v.8h-.8zM534.0 10.8h.8v.8h-.8zM521.6 28.0h.8v.8h-.8zM545.6 50.9h.8v.8h-.8zM512.3 33.2h.8v.8h-.8zM546.4 52.3h.8v.8h-.8zM531.2 41.2h.8v.8h-.8zM546.3 30.9h.8v.8h-.8zM524.2 52.2h.8v.8h-.8zM517.5 37.4h.8v.8h-.8zM540.4 47.4h.8v.8h-.8zM509.8 23.4h.8v.8h-.8zM554.7 29.6h.8v.8h-.8zM517.0 48.7h.8v.8h-.8zM551.1 36.1h.8v.8h-.8zM552.5 48.0h.8v.8h-.8zM547.6 23.1h.8v.8h-.8zM522.9 26.1h.8v.8h-.8zM551.9 31.5h.8v.8h-.8zM529.4 55.2h.8v.8h-.8zM533.8 64.5h.8v.8h-.8zM544.6 48.8h.8v.8h-.8zM545.4 46.0h.8v.8h-.8zM545.7 11.7h.8v.8h-.8zM527.8 25.8h.8v.8h-.8zM534.9 45.6h.8v.8h-.8zM516.2 11.7h.8v.8h-.8zM508.7 20.5h.8v.8h-.8zM517.1 14.1h.8v.8h-.8zM504.5 21.2h.8v.8h-.8zM519.6 39.1h.8v.8h-.8zM520.6 66.8h.8v.8h-.8zM544.5 13.3h.8v.8h-.8zM531.2 42.5h.8v.8h-.8zM537.7 29.9h.8v.8h-.8zM502.5 53.9h.8v.8h-.8zM520.8 44.0h.8v.8h-.8zM512.3 47.1h.8v.8h-.8zM534.8 35.1h.8v.8h-.8zM506.1 20.7h.8v.8h-.8zM521.0 43.2h.8v.8h-.8zM505.8 27.6h.8v.8h-.8zM524.0 35.5h.8v.8h-.8zM556.0 23.0h.8v.8h-.8zM532.7 42.4h.8v.8h-.8zM511.0 35.1h.8v.8h-.8zM523.1 48.0h.8v.8h-.8zM536.4 34.9h.8v.8h-.8zM536.0 21.9h.8v.8h-.8zM529.1 35.3h.8v.8h-.8zM531.8 27.4h.8v.8h-.8zM545.4 63.2h.8v.8h-.8zM535.6 55.6h.8v.8h-.8zM509.4 28.5h.8v.8h-.8zM547.6 19.7h.8v.8h-.8zM533.6 11.5h.8v.8h-.8zM530.4 48.2h.8v.8h-.8zM548.0 24.0h.8v.8h-.8zM535.1 24.3h.8v.8h-.8zM538.8 63.6h.8v.8h-.8zM528.8 61.3h.8v.8h-.8zM547.5 42.6h.8v.8h-.8zM534.6 11.9h.8v.8h-.8zM552.1 46.2h.8v.8h-.8zM522.7 46.9h.8v.8h-.8zM506.4 58.8h.8v.8h-.8zM511.0 34.4h.8v.8h-.8zM532.5 48.0h.8v.8h-.8zM523.6 13.2h.8v.8h-.8zM544.2 11.3h.8v.8h-.8zM516.3 49.5h.8v.8h-.8zM523.8 32.0h.8v.8h-.8zM508.6 49.0h.8v.8h-.8zM556.2 45.5h.8v.8h-.8zM550.1 18.6h.8v.8h-.8zM524.1 39.4h.8v.8h-.8zM514.4 47.2h.8v.8h-.8zM544.9 16.7h.8v.8h-.8zM548.6 28.1h.8v.8h-.8zM511.5 54.1h.8v.8h-.8zM546.9 53.6h.8v.8h-.8zM536.3 20.9h.8v.8h-.8zM506.7 45.8h.8v.8h-.8zM540.7 12.6h.8v.8h-.8zM512.7 44.4h.8v.8h-.8zM537.2 30.2h.8v.8h-.8zM540.3 45.6h.8v.8h-.8zM507.9 38.9h.8v.8h-.8zM538.3 20.3h.8v.8h-.8zM513.8 15.7h.8v.8h-.8zM513.8 29.8h.8v.8h-.8zM536.8 14.0h.8v.8h-.8zM502.3 17.4h.8v.8h-.8zM523.9 59.5h.8v.8h-.8zM521.6 14.9h.8v.8h-.8zM530.9 58.1h.8v.8h-.8zM510.7 51.3h.8v.8h-.8zM539.9 14.1h.8v.8h-.8zM556.8 28.8h.8v.8h-.8zM510.6 64.0h.8v.8h-.8zM520.4 13.2h.8v.8h-.8zM555.0 24.9h.8v.8h-.8zM542.3 12.1h.8v.8h-.8zM529.3 11.2h.8v.8h-.8zM504.4 34.5h.8v.8h-.8zM548.6 28.1h.8v.8h-.8zM532.4 56.9h.8v.8h-.8zM521.7 50.9h.8v.8h-.8zM504.5 14.6h.8v.8h-.8zM532.2 21.5h.8v.8h-.8zM525.7 64.4h.8v.8h-.8zM522.2 39.5h.8v.8h-.8zM504.5 29.8h.8v.8h-.8zM546.5 49.8h.8v.8h-.8zM551.6 58.3h.8v.8h-.8zM508.7 30.8h.8v.8h-.8zM517.7 21.5h.8v.8h-.8zM523.3 34.0h.8v.8h-.8zM508.0 39.4h.8v.8h-.8zM550.7 53.7h.8v.8h-.8zM523.8 56.7h.8v.8h-.8zM546.9 26.6h.8v.8h-.8zM522.6 15.6h.8v.8h-.8zM551.1 46.4h.8v.8h-.8zM516.5 67.4h.8v.8h-.8zM515.4 33.1h.8v.8h-.8zM546.8 54.4h.8v.8h-.8zM505.0 42.1h.8v.8h-.8zM539.3 41.9h.8v.8h-.8zM544.3 23.5h.8v.8h-.8z" fill="#7878a8" opacity="0.55"/>
<path d="M542.1 51.4h.8v.8h-.8zM518.9 43.9h.8v.8h-.8zM544.8 41.0h.8v.8h-.8zM549.7 27.1h.8v.8h-.8zM533.7 18.6h.8v.8h-.8zM529.8 28.0h.8v.8h-.8zM539.5 59.1h.8v.8h-.8zM544.2 44.7h.8v.8h-.8zM551.5 42.5h.8v.8h-.8zM519.6 59.7h.8v.8h-.8zM507.9 39.5h.8v.8h-.8zM506.0 39.3h.8v.8h-.8zM510.9 54.8h.8v.8h-.8zM519.3 50.3h.8v.8h-.8zM535.1 60.3h.8v.8h-.8zM509.7 55.4h.8v.8h-.8zM517.4 44.6h.8v.8h-.8zM556.1 35.2h.8v.8h-.8zM505.1 44.5h.8v.8h-.8zM504.6 56.7h.8v.8h-.8zM553.1 32.5h.8v.8h-.8zM544.2 17.5h.8v.8h-.8zM527.7 59.3h.8v.8h-.8zM553.1 60.2h.8v.8h-.8zM528.7 63.7h.8v.8h-.8zM555.9 57.8h.8v.8h-.8zM540.2 42.4h.8v.8h-.8zM529.1 32.7h.8v.8h-.8zM508.7 26.6h.8v.8h-.8zM524.4 65.1h.8v.8h-.8zM539.2 62.8h.8v.8h-.8zM518.4 39.1h.8v.8h-.8zM531.0 33.5h.8v.8h-.8zM509.7 32.5h.8v.8h-.8zM531.8 32.1h.8v.8h-.8zM550.9 21.3h.8v.8h-.8zM549.2 28.6h.8v.8h-.8zM535.3 33.9h.8v.8h-.8zM510.8 55.4h.8v.8h-.8zM515.3 55.3h.8v.8h-.8zM510.4 42.7h.8v.8h-.8zM513.0 34.3h.8v.8h-.8zM537.0 14.5h.8v.8h-.8zM530.2 15.6h.8v.8h-.8zM553.2 38.8h.8v.8h-.8zM531.9 64.4h.8v.8h-.8zM545.2 12.1h.8v.8h-.8zM554.0 41.8h.8v.8h-.8zM549.3 25.1h.8v.8h-.8zM543.0 26.5h.8v.8h-.8zM519.5 64.5h.8v.8h-.8zM534.7 48.5h.8v.8h-.8zM531.3 36.3h.8v.8h-.8zM506.1 20.3h.8v.8h-.8zM529.3 38.7h.8v.8h-.8zM505.4 52.7h.8v.8h-.8zM515.0 21.0h.8v.8h-.8zM514.1 18.9h.8v.8h-.8zM507.4 56.5h.8v.8h-.8zM521.5 35.8h.8v.8h-.8zM538.7 45.6h.8v.8h-.8zM548.2 61.5h.8v.8h-.8zM532.6 62.1h.8v.8h-.8zM555.5 39.1h.8v.8h-.8zM513.7 23.2h.8v.8h-.8zM509.5 30.6h.8v.8h-.8zM535.9 49.4h.8v.8h-.8zM505.5 48.2h.8v.8h-.8zM531.0 42.7h.8v.8h-.8zM527.0 31.9h.8v.8h-.8zM546.4 12.1h.8v.8h-.8zM505.0 36.7h.8v.8h-.8zM532.1 34.2h.8v.8h-.8zM514.0 35.8h.8v.8h-.8zM524.7 56.0h.8v.8h-.8zM529.6 37.9h.8v.8h-.8zM528.4 40.4h.8v.8h-.8zM542.0 20.7h.8v.8h-.8zM505.7 44.2h.8v.8h-.8zM526.8 52.6h.8v.8h-.8zM547.8 34.3h.8v.8h-.8zM521.7 29.8h.8v.8h-.8zM554.4 30.4h.8v.8h-.8zM550.1 16.2h.8v.8h-.8zM506.7 49.1h.8v.8h-.8zM536.5 59.9h.8v.8h-.8zM511.5 46.4h.8v.8h-.8zM532.8 63.8h.8v.8h-.8zM536.5 27.4h.8v.8h-.8zM518.9 23.2h.8v.8h-.8zM512.7 20.0h.8v.8h-.8zM528.7 11.4h.8v.8h-.8zM534.8 54.9h.8v.8h-.8zM539.9 9.2h.8v.8h-.8zM517.1 28.7h.8v.8h-.8zM535.1 14.9h.8v.8h-.8zM510.1 51.9h.8v.8h-.8zM515.0 45.7h.8v.8h-.8zM525.7 60.4h.8v.8h-.8zM536.0 55.4h.8v.8h-.8zM518.1 55.1h.8v.8h-.8zM525.5 52.9h.8v.8h-.8zM510.9 43.1h.8v.8h-.8zM539.2 28.0h.8v.8h-.8zM517.6 26.7h.8v.8h-.8zM530.3 62.0h.8v.8h-.8zM506.2 57.1h.8v.8h-.8zM529.8 21.5h.8v.8h-.8zM554.2 26.5h.8v.8h-.8zM517.9 25.2h.8v.8h-.8zM545.1 20.9h.8v.8h-.8zM542.4 51.1h.8v.8h-.8zM530.1 57.4h.8v.8h-.8zM532.5 34.1h.8v.8h-.8zM520.8 50.5h.8v.8h-.8zM546.9 22.5h.8v.8h-.8zM512.6 32.5h.8v.8h-.8zM546.3 40.1h.8v.8h-.8zM549.0 42.1h.8v.8h-.8zM512.8 16.5h.8v.8h-.8zM502.4 22.2h.8v.8h-.8zM530.0 53.4h.8v.8h-.8zM555.6 48.1h.8v.8h-.8zM542.6 13.9h.8v.8h-.8zM513.4 26.2h.8v.8h-.8zM557.3 47.3h.8v.8h-.8zM516.9 38.2h.8v.8h-.8zM513.3 36.2h.8v.8h-.8zM536.7 25.5h.8v.8h-.8zM526.9 49.7h.8v.8h-.8zM555.4 24.8h.8v.8h-.8zM545.6 11.4h.8v.8h-.8zM520.4 48.3h.8v.8h-.8zM513.3 27.5h.8v.8h-.8zM527.4 16.6h.8v.8h-.8zM506.2 13.5h.8v.8h-.8zM527.6 14.7h.8v.8h-.8zM527.0 58.0h.8v.8h-.8zM522.6 20.6h.8v.8h-.8zM543.1 56.1h.8v.8h-.8zM551.0 29.4h.8v.8h-.8zM540.6 53.8h.8v.8h-.8zM527.3 59.2h.8v.8h-.8zM520.3 64.4h.8v.8h-.8zM527.3 61.9h.8v.8h-.8zM509.5 46.7h.8v.8h-.8zM556.4 45.2h.8v.8h-.8zM526.4 28.0h.8v.8h-.8zM528.4 59.6h.8v.8h-.8zM517.0 45.7h.8v.8h-.8zM531.0 35.5h.8v.8h-.8zM518.7 34.5h.8v.8h-.8zM533.8 57.8h.8v.8h-.8zM507.2 17.0h.8v.8h-.8zM525.0 58.2h.8v.8h-.8zM527.4 37.3h.8v.8h-.8zM532.5 32.6h.8v.8h-.8zM554.4 54.9h.8v.8h-.8zM544.4 30.5h.8v.8h-.8zM538.1 41.3h.8v.8h-.8zM529.3 39.4h.8v.8h-.8zM512.9 44.6h.8v.8h-.8zM544.0 57.0h.8v.8h-.8zM531.1 50.7h.8v.8h-.8zM505.0 13.2h.8v.8h-.8zM544.9 33.8h.8v.8h-.8zM521.4 51.2h.8v.8h-.8zM516.7 65.6h.8v.8h-.8zM538.8 59.6h.8v.8h-.8zM525.2 49.6h.8v.8h-.8zM508.6 62.5h.8v.8h-.8zM538.1 46.4h.8v.8h-.8z" fill="#9a8ab8" opacity="0.5"/>
<path d="M514.9 39.4h.8v.8h-.8zM504.1 58.0h.8v.8h-.8zM513.2 28.1h.8v.8h-.8zM550.2 44.9h.8v.8h-.8zM552.6 31.2h.8v.8h-.8zM514.0 45.8h.8v.8h-.8zM516.0 12.1h.8v.8h-.8zM516.9 63.7h.8v.8h-.8zM548.1 39.3h.8v.8h-.8zM541.1 57.7h.8v.8h-.8zM523.7 46.6h.8v.8h-.8zM528.1 30.7h.8v.8h-.8zM520.8 55.8h.8v.8h-.8zM531.1 43.2h.8v.8h-.8zM524.4 36.4h.8v.8h-.8zM539.6 41.3h.8v.8h-.8zM534.6 41.6h.8v.8h-.8zM511.1 46.9h.8v.8h-.8zM516.1 37.4h.8v.8h-.8zM507.0 45.4h.8v.8h-.8zM538.5 64.5h.8v.8h-.8zM521.8 24.7h.8v.8h-.8zM518.0 17.7h.8v.8h-.8zM525.1 44.4h.8v.8h-.8zM519.5 57.6h.8v.8h-.8zM525.5 35.1h.8v.8h-.8zM504.4 38.7h.8v.8h-.8zM548.5 32.3h.8v.8h-.8zM541.0 57.1h.8v.8h-.8zM543.6 53.8h.8v.8h-.8zM509.2 64.3h.8v.8h-.8zM543.5 15.2h.8v.8h-.8zM512.4 40.7h.8v.8h-.8zM517.1 45.5h.8v.8h-.8zM519.0 37.8h.8v.8h-.8zM555.1 42.7h.8v.8h-.8zM538.4 39.2h.8v.8h-.8zM523.6 63.0h.8v.8h-.8zM513.6 17.8h.8v.8h-.8zM532.1 15.8h.8v.8h-.8zM541.7 55.8h.8v.8h-.8zM546.7 32.9h.8v.8h-.8zM515.9 44.9h.8v.8h-.8zM502.6 55.7h.8v.8h-.8zM512.8 51.1h.8v.8h-.8zM549.1 35.1h.8v.8h-.8zM530.5 32.1h.8v.8h-.8zM554.1 49.1h.8v.8h-.8zM550.7 18.0h.8v.8h-.8zM505.7 44.3h.8v.8h-.8zM508.4 20.6h.8v.8h-.8zM532.1 24.7h.8v.8h-.8zM542.2 43.6h.8v.8h-.8zM537.7 45.0h.8v.8h-.8zM521.3 61.2h.8v.8h-.8zM547.2 19.7h.8v.8h-.8zM523.5 49.1h.8v.8h-.8zM545.4 22.5h.8v.8h-.8zM525.1 45.7h.8v.8h-.8zM544.4 15.5h.8v.8h-.8zM535.0 34.7h.8v.8h-.8zM530.5 12.5h.8v.8h-.8zM524.8 66.8h.8v.8h-.8zM511.4 20.2h.8v.8h-.8zM553.8 30.0h.8v.8h-.8zM546.7 52.9h.8v.8h-.8zM553.5 45.3h.8v.8h-.8zM505.0 38.2h.8v.8h-.8zM533.5 16.1h.8v.8h-.8zM515.7 63.7h.8v.8h-.8zM523.6 33.8h.8v.8h-.8zM532.5 11.9h.8v.8h-.8zM521.8 58.4h.8v.8h-.8zM522.8 63.3h.8v.8h-.8zM523.1 43.9h.8v.8h-.8zM539.2 20.8h.8v.8h-.8zM554.8 38.0h.8v.8h-.8zM544.1 63.2h.8v.8h-.8zM510.4 24.5h.8v.8h-.8zM542.7 13.9h.8v.8h-.8zM540.0 32.6h.8v.8h-.8zM520.8 65.3h.8v.8h-.8zM518.3 45.0h.8v.8h-.8zM517.3 22.4h.9v.9h-.9zM523.9 29.4h.9v.9h-.9zM513.6 29.3h.9v.9h-.9zM527.4 26.1h.9v.9h-.9zM522.4 22.4h.9v.9h-.9zM530.3 20.6h.9v.9h-.9zM527.6 26.2h.9v.9h-.9zM524.1 27.9h.9v.9h-.9zM522.5 32.2h.9v.9h-.9zM518.7 30.2h.9v.9h-.9zM521.7 24.5h.9v.9h-.9zM524.6 27.0h.9v.9h-.9zM519.5 23.9h.9v.9h-.9zM526.4 24.2h.9v.9h-.9zM516.4 24.9h.9v.9h-.9zM527.3 28.7h.9v.9h-.9zM515.5 23.0h.9v.9h-.9zM516.8 34.1h.9v.9h-.9zM514.7 29.8h.9v.9h-.9zM527.3 26.5h.9v.9h-.9zM524.0 25.3h.9v.9h-.9zM522.3 26.4h.9v.9h-.9zM515.9 32.4h.9v.9h-.9zM522.7 32.6h.9v.9h-.9zM522.5 23.4h.9v.9h-.9zM526.1 22.9h.9v.9h-.9zM517.7 28.5h.9v.9h-.9zM525.5 33.5h.9v.9h-.9zM522.7 23.8h.9v.9h-.9zM523.8 27.3h.9v.9h-.9zM518.2 28.9h.9v.9h-.9zM528.4 23.6h.9v.9h-.9zM526.1 34.3h.9v.9h-.9zM532.4 23.8h.9v.9h-.9zM515.1 26.4h.9v.9h-.9zM523.8 25.0h.9v.9h-.9zM525.1 26.4h.9v.9h-.9zM519.5 29.0h.9v.9h-.9zM519.4 19.8h.9v.9h-.9zM521.9 29.4h.9v.9h-.9zM529.5 26.2h.9v.9h-.9zM520.5 34.2h.9v.9h-.9zM520.1 22.1h.9v.9h-.9zM528.2 23.9h.9v.9h-.9zM519.6 35.6h.9v.9h-.9zM516.5 32.2h.9v.9h-.9zM516.9 26.7h.9v.9h-.9zM523.0 31.3h.9v.9h-.9zM517.7 25.8h.9v.9h-.9zM522.1 31.7h.9v.9h-.9zM536.0 25.9h.9v.9h-.9zM541.7 13.6h.9v.9h-.9zM534.9 22.9h.9v.9h-.9zM543.4 25.0h.9v.9h-.9zM536.6 26.8h.9v.9h-.9zM542.2 28.4h.9v.9h-.9zM540.7 16.6h.9v.9h-.9zM544.6 18.8h.9v.9h-.9zM541.0 17.3h.9v.9h-.9zM545.9 27.1h.9v.9h-.9zM539.3 20.2h.9v.9h-.9zM542.1 19.5h.9v.9h-.9zM546.5 16.5h.9v.9h-.9zM533.9 27.0h.9v.9h-.9zM541.0 26.2h.9v.9h-.9zM542.1 22.0h.9v.9h-.9zM537.9 17.0h.9v.9h-.9zM537.5 23.6h.9v.9h-.9zM545.3 24.3h.9v.9h-.9zM536.9 26.2h.9v.9h-.9zM542.0 26.7h.9v.9h-.9zM541.2 25.7h.9v.9h-.9zM536.2 30.8h.9v.9h-.9zM544.8 19.6h.9v.9h-.9zM538.2 18.2h.9v.9h-.9zM536.7 21.1h.9v.9h-.9zM538.9 19.7h.9v.9h-.9zM539.7 26.2h.9v.9h-.9zM535.1 27.7h.9v.9h-.9zM548.4 25.2h.9v.9h-.9zM543.0 17.3h.9v.9h-.9zM539.6 21.5h.9v.9h-.9zM539.4 25.3h.9v.9h-.9zM536.1 23.4h.9v.9h-.9zM530.6 30.6h.9v.9h-.9zM533.2 27.7h.9v.9h-.9zM539.7 26.0h.9v.9h-.9zM537.5 26.2h.9v.9h-.9zM539.0 23.3h.9v.9h-.9zM533.4 14.9h.9v.9h-.9zM547.1 28.5h.9v.9h-.9zM539.3 24.8h.9v.9h-.9zM542.5 12.3h.9v.9h-.9zM539.7 15.8h.9v.9h-.9zM545.5 16.9h.9v.9h-.9zM535.9 24.4h.9v.9h-.9zM547.4 26.9h.9v.9h-.9zM550.1 17.5h.9v.9h-.9zM545.6 21.9h.9v.9h-.9zM541.1 19.2h.9v.9h-.9zM531.5 39.4h.9v.9h-.9zM532.5 42.7h.9v.9h-.9zM529.3 44.3h.9v.9h-.9zM522.5 41.8h.9v.9h-.9zM520.1 40.0h.9v.9h-.9zM530.2 42.1h.9v.9h-.9zM527.4 47.8h.9v.9h-.9zM530.2 42.5h.9v.9h-.9zM527.5 50.4h.9v.9h-.9zM529.2 44.2h.9v.9h-.9zM528.2 46.5h.9v.9h-.9zM531.6 35.6h.9v.9h-.9zM533.0 38.2h.9v.9h-.9zM530.5 44.4h.9v.9h-.9zM535.5 43.5h.9v.9h-.9zM527.8 45.2h.9v.9h-.9zM528.8 42.5h.9v.9h-.9zM527.7 43.2h.9v.9h-.9zM535.2 49.1h.9v.9h-.9zM532.7 47.6h.9v.9h-.9zM525.8 42.6h.9v.9h-.9zM535.1 40.7h.9v.9h-.9zM532.5 40.2h.9v.9h-.9zM526.6 40.8h.9v.9h-.9zM530.3 40.2h.9v.9h-.9zM530.5 51.9h.9v.9h-.9zM525.0 40.6h.9v.9h-.9zM523.6 51.7h.9v.9h-.9zM534.9 40.8h.9v.9h-.9zM527.4 41.8h.9v.9h-.9zM527.2 42.9h.9v.9h-.9zM525.8 40.1h.9v.9h-.9zM534.5 37.1h.9v.9h-.9zM532.1 35.4h.9v.9h-.9zM530.0 46.5h.9v.9h-.9zM527.2 45.5h.9v.9h-.9zM537.6 45.6h.9v.9h-.9zM540.2 39.5h.9v.9h-.9zM530.6 42.8h.9v.9h-.9zM521.2 43.1h.9v.9h-.9zM524.9 37.8h.9v.9h-.9zM530.9 41.9h.9v.9h-.9zM534.4 39.7h.9v.9h-.9zM525.0 42.9h.9v.9h-.9zM525.7 43.5h.9v.9h-.9zM532.7 43.8h.9v.9h-.9zM530.1 43.6h.9v.9h-.9zM523.9 44.3h.9v.9h-.9zM536.0 37.7h.9v.9h-.9zM530.9 38.2h.9v.9h-.9zM514.2 52.1h.9v.9h-.9zM514.4 57.2h.9v.9h-.9zM504.8 47.3h.9v.9h-.9zM518.8 54.4h.9v.9h-.9zM508.9 55.3h.9v.9h-.9zM517.6 51.3h.9v.9h-.9zM526.3 54.0h.9v.9h-.9zM519.5 56.7h.9v.9h-.9zM515.9 56.1h.9v.9h-.9zM514.3 49.0h.9v.9h-.9zM513.0 56.6h.9v.9h-.9zM523.3 49.1h.9v.9h-.9zM524.0 56.4h.9v.9h-.9zM517.6 56.4h.9v.9h-.9zM509.7 54.5h.9v.9h-.9zM513.8 53.2h.9v.9h-.9zM523.4 52.9h.9v.9h-.9zM506.8 46.3h.9v.9h-.9zM521.8 53.7h.9v.9h-.9zM510.1 56.2h.9v.9h-.9zM515.8 52.7h.9v.9h-.9zM514.3 49.2h.9v.9h-.9zM514.0 52.5h.9v.9h-.9zM521.2 55.3h.9v.9h-.9zM513.3 61.1h.9v.9h-.9zM521.6 52.7h.9v.9h-.9zM518.9 52.2h.9v.9h-.9zM513.6 56.9h.9v.9h-.9zM515.1 54.6h.9v.9h-.9zM511.2 56.0h.9v.9h-.9zM520.1 53.1h.9v.9h-.9zM515.7 64.7h.9v.9h-.9zM516.0 52.2h.9v.9h-.9zM515.7 57.3h.9v.9h-.9zM516.4 50.3h.9v.9h-.9zM522.1 50.7h.9v.9h-.9zM521.7 47.7h.9v.9h-.9zM513.4 49.2h.9v.9h-.9zM518.4 52.3h.9v.9h-.9zM511.0 51.5h.9v.9h-.9zM514.6 59.1h.9v.9h-.9zM516.9 59.9h.9v.9h-.9zM520.2 59.2h.9v.9h-.9zM508.2 45.9h.9v.9h-.9zM511.2 48.8h.9v.9h-.9zM509.8 49.2h.9v.9h-.9zM510.2 44.3h.9v.9h-.9zM521.6 49.0h.9v.9h-.9zM517.6 54.3h.9v.9h-.9zM517.9 44.9h.9v.9h-.9zM546.9 52.2h.9v.9h-.9zM548.4 44.8h.9v.9h-.9zM543.9 53.9h.9v.9h-.9zM547.0 47.4h.9v.9h-.9zM547.0 39.9h.9v.9h-.9zM547.0 40.6h.9v.9h-.9zM546.9 46.8h.9v.9h-.9zM540.3 41.2h.9v.9h-.9zM549.4 44.5h.9v.9h-.9zM538.2 47.0h.9v.9h-.9zM540.8 47.4h.9v.9h-.9zM542.5 48.8h.9v.9h-.9zM547.8 43.7h.9v.9h-.9zM546.2 41.0h.9v.9h-.9zM534.6 48.9h.9v.9h-.9zM542.3 41.1h.9v.9h-.9zM549.9 52.0h.9v.9h-.9zM540.7 51.4h.9v.9h-.9zM546.9 42.0h.9v.9h-.9zM542.5 46.0h.9v.9h-.9zM543.7 42.4h.9v.9h-.9zM543.0 43.8h.9v.9h-.9zM548.3 50.0h.9v.9h-.9zM543.6 45.9h.9v.9h-.9zM546.0 46.9h.9v.9h-.9zM546.7 44.4h.9v.9h-.9zM545.3 47.0h.9v.9h-.9zM541.0 47.3h.9v.9h-.9zM539.6 42.1h.9v.9h-.9zM537.2 41.6h.9v.9h-.9zM542.9 43.9h.9v.9h-.9zM547.8 49.5h.9v.9h-.9zM540.6 44.4h.9v.9h-.9zM548.6 41.2h.9v.9h-.9zM538.4 43.9h.9v.9h-.9zM549.7 41.3h.9v.9h-.9zM542.9 38.2h.9v.9h-.9zM539.1 43.0h.9v.9h-.9zM535.2 40.3h.9v.9h-.9zM541.8 43.9h.9v.9h-.9zM541.3 51.7h.9v.9h-.9zM543.9 47.6h.9v.9h-.9zM546.9 51.1h.9v.9h-.9zM543.9 35.7h.9v.9h-.9zM538.1 38.8h.9v.9h-.9zM544.5 50.7h.9v.9h-.9zM536.9 45.2h.9v.9h-.9zM545.8 43.3h.9v.9h-.9zM549.8 43.4h.9v.9h-.9zM547.3 47.8h.9v.9h-.9z" fill="#50508a" opacity="0.6"/>
<polygon points="616.7,61.1 656.5,57.2 672.3,69.9 672.3,110.5 631.8,116.2 616.7,102.5" fill="#f5eff1" stroke="#d0d4ee" stroke-width="0.5"/>
<path d="M647.9 71.1h.8v.8h-.8zM672.2 97.0h.8v.8h-.8zM656.9 85.9h.8v.8h-.8zM634.8 98.5h.8v.8h-.8zM649.4 75.6h.8v.8h-.8zM620.0 95.7h.8v.8h-.8zM629.3 108.9h.8v.8h-.8zM645.7 107.6h.8v.8h-.8zM626.3 96.9h.8v.8h-.8zM657.3 58.4h.8v.8h-.8zM661.9 66.5h.8v.8h-.8zM655.1 79.9h.8v.8h-.8zM617.7 90.1h.8v.8h-.8zM629.6 83.4h.8v.8h-.8zM618.7 81.3h.8v.8h-.8zM656.9 71.4h.8v.8h-.8zM626.8 70.9h.8v.8h-.8zM645.1 91.5h.8v.8h-.8zM639.9 88.2h.8v.8h-.8zM617.8 97.6h.8v.8h-.8zM638.7 64.4h.8v.8h-.8zM663.2 74.7h.8v.8h-.8zM639.9 61.1h.8v.8h-.8zM652.7 64.8h.8v.8h-.8zM641.1 88.1h.8v.8h-.8zM660.2 91.0h.8v.8h-.8zM667.0 109.4h.8v.8h-.8zM662.0 102.5h.8v.8h-.8zM658.1 91.8h.8v.8h-.8zM664.7 65.2h.8v.8h-.8zM637.9 84.6h.8v.8h-.8zM637.0 76.0h.8v.8h-.8zM634.8 63.1h.8v.8h-.8zM636.5 104.1h.8v.8h-.8zM637.1 80.5h.8v.8h-.8zM622.0 65.6h.8v.8h-.8zM630.7 82.0h.8v.8h-.8zM635.8 71.7h.8v.8h-.8zM659.4 60.8h.8v.8h-.8zM639.6 88.2h.8v.8h-.8zM654.5 111.2h.8v.8h-.8zM633.7 104.3h.8v.8h-.8zM622.6 77.9h.8v.8h-.8zM624.9 96.7h.8v.8h-.8zM670.7 95.5h.8v.8h-.8zM624.0 64.1h.8v.8h-.8zM628.5 60.3h.8v.8h-.8zM667.7 66.8h.8v.8h-.8zM662.2 94.2h.8v.8h-.8zM655.8 85.2h.8v.8h-.8zM650.0 59.5h.8v.8h-.8zM623.5 98.6h.8v.8h-.8zM648.9 65.0h.8v.8h-.8zM650.4 79.4h.8v.8h-.8zM645.8 71.0h.8v.8h-.8zM620.1 96.5h.8v.8h-.8zM637.8 69.9h.8v.8h-.8zM646.3 105.4h.8v.8h-.8zM669.3 97.0h.8v.8h-.8zM657.5 70.2h.8v.8h-.8zM643.3 64.8h.8v.8h-.8zM652.6 112.8h.8v.8h-.8zM635.6 106.6h.8v.8h-.8zM656.5 108.1h.8v.8h-.8zM640.0 103.8h.8v.8h-.8zM662.7 96.9h.8v.8h-.8zM639.1 110.8h.8v.8h-.8zM649.9 61.2h.8v.8h-.8zM639.2 86.7h.8v.8h-.8zM625.7 92.3h.8v.8h-.8zM652.2 90.8h.8v.8h-.8zM618.9 84.0h.8v.8h-.8zM629.1 93.3h.8v.8h-.8zM657.1 84.7h.8v.8h-.8zM644.7 91.0h.8v.8h-.8zM643.0 78.5h.8v.8h-.8zM641.9 113.9h.8v.8h-.8zM624.9 85.7h.8v.8h-.8zM635.5 103.4h.8v.8h-.8zM618.3 64.2h.8v.8h-.8zM648.5 103.2h.8v.8h-.8zM635.3 62.5h.8v.8h-.8zM653.0 77.5h.8v.8h-.8zM669.9 95.9h.8v.8h-.8zM659.3 70.4h.8v.8h-.8zM646.7 110.6h.8v.8h-.8zM663.1 99.7h.8v.8h-.8zM668.5 106.2h.8v.8h-.8zM625.3 73.0h.8v.8h-.8zM642.8 94.9h.8v.8h-.8zM644.6 72.2h.8v.8h-.8zM619.5 103.4h.8v.8h-.8zM652.6 84.8h.8v.8h-.8zM624.2 98.2h.8v.8h-.8zM650.8 92.0h.8v.8h-.8zM653.3 81.5h.8v.8h-.8zM646.9 59.1h.8v.8h-.8zM630.0 71.5h.8v.8h-.8zM653.8 97.3h.8v.8h-.8zM627.1 69.8h.8v.8h-.8zM619.1 75.5h.8v.8h-.8zM629.6 94.0h.8v.8h-.8zM653.0 82.7h.8v.8h-.8zM635.5 75.4h.8v.8h-.8zM619.2 64.0h.8v.8h-.8zM618.5 63.8h.8v.8h-.8zM621.5 97.4h.8v.8h-.8zM662.2 76.8h.8v.8h-.8zM664.8 67.1h.8v.8h-.8zM652.5 108.2h.8v.8h-.8zM664.0 63.3h.8v.8h-.8zM616.9 69.5h.8v.8h-.8zM624.8 89.4h.8v.8h-.8zM651.7 61.2h.8v.8h-.8zM619.7 104.9h.8v.8h-.8zM649.8 68.5h.8v.8h-.8zM634.6 88.5h.8v.8h-.8zM660.4 76.7h.8v.8h-.8zM650.8 108.7h.8v.8h-.8zM625.7 95.3h.8v.8h-.8zM672.0 88.0h.8v.8h-.8zM631.6 79.4h.8v.8h-.8zM631.4 108.3h.8v.8h-.8zM666.1 91.8h.8v.8h-.8zM622.4 81.5h.8v.8h-.8zM667.6 82.4h.8v.8h-.8zM666.2 86.7h.8v.8h-.8zM637.6 72.8h.8v.8h-.8zM652.0 60.2h.8v.8h-.8zM635.7 104.8h.8v.8h-.8zM645.6 74.0h.8v.8h-.8zM633.9 92.7h.8v.8h-.8zM665.2 69.0h.8v.8h-.8zM660.4 67.1h.8v.8h-.8zM637.1 100.0h.8v.8h-.8zM655.1 78.3h.8v.8h-.8zM646.9 106.3h.8v.8h-.8zM647.0 76.6h.8v.8h-.8zM635.2 114.0h.8v.8h-.8zM628.5 69.6h.8v.8h-.8zM618.0 81.6h.8v.8h-.8zM659.5 74.9h.8v.8h-.8zM649.7 101.9h.8v.8h-.8zM652.6 88.8h.8v.8h-.8zM663.3 75.4h.8v.8h-.8zM640.2 64.3h.8v.8h-.8zM653.1 65.5h.8v.8h-.8zM665.5 74.1h.8v.8h-.8zM618.4 77.8h.8v.8h-.8zM644.2 84.3h.8v.8h-.8zM633.7 110.0h.8v.8h-.8zM658.9 87.6h.8v.8h-.8zM625.5 72.1h.8v.8h-.8zM639.0 108.7h.8v.8h-.8zM633.7 73.8h.8v.8h-.8zM668.6 90.1h.8v.8h-.8zM651.6 101.0h.8v.8h-.8zM641.7 86.1h.8v.8h-.8zM657.3 66.1h.8v.8h-.8zM641.3 102.5h.8v.8h-.8zM660.9 76.3h.8v.8h-.8zM655.5 109.3h.8v.8h-.8zM639.8 69.4h.8v.8h-.8zM630.2 101.0h.8v.8h-.8zM650.8 99.9h.8v.8h-.8zM625.0 91.4h.8v.8h-.8zM657.9 74.5h.8v.8h-.8zM663.6 104.4h.8v.8h-.8zM664.5 89.0h.8v.8h-.8zM640.6 73.2h.8v.8h-.8zM641.8 81.2h.8v.8h-.8zM650.9 80.1h.8v.8h-.8zM636.7 99.6h.8v.8h-.8zM623.1 97.1h.8v.8h-.8zM633.8 72.9h.8v.8h-.8zM659.8 107.3h.8v.8h-.8zM664.2 84.5h.8v.8h-.8zM657.0 87.2h.8v.8h-.8zM619.8 98.7h.8v.8h-.8zM638.8 86.4h.8v.8h-.8zM622.5 81.6h.8v.8h-.8zM643.9 95.7h.8v.8h-.8zM670.2 68.9h.8v.8h-.8zM638.3 106.3h.8v.8h-.8zM646.5 102.3h.8v.8h-.8zM649.7 111.3h.8v.8h-.8zM632.2 102.8h.8v.8h-.8zM666.0 76.1h.8v.8h-.8zM656.5 94.7h.8v.8h-.8zM639.6 75.8h.8v.8h-.8zM668.5 82.2h.8v.8h-.8zM619.3 98.4h.8v.8h-.8zM630.3 60.1h.8v.8h-.8zM663.0 89.0h.8v.8h-.8zM631.6 107.1h.8v.8h-.8zM660.6 104.2h.8v.8h-.8zM659.2 101.1h.8v.8h-.8zM666.2 92.6h.8v.8h-.8zM654.0 94.8h.8v.8h-.8zM659.7 105.5h.8v.8h-.8zM659.4 81.3h.8v.8h-.8zM626.7 104.6h.8v.8h-.8zM630.1 86.5h.8v.8h-.8zM624.8 104.0h.8v.8h-.8zM656.0 86.4h.8v.8h-.8zM623.9 106.8h.8v.8h-.8zM633.3 100.8h.8v.8h-.8zM642.3 70.5h.8v.8h-.8zM649.7 97.9h.8v.8h-.8zM628.1 101.7h.8v.8h-.8zM628.8 89.6h.8v.8h-.8zM658.3 94.4h.8v.8h-.8zM653.5 62.7h.8v.8h-.8zM636.2 75.6h.8v.8h-.8zM640.2 64.0h.8v.8h-.8zM643.7 108.4h.8v.8h-.8zM617.5 99.6h.8v.8h-.8zM666.6 82.8h.8v.8h-.8zM663.6 64.4h.8v.8h-.8zM630.6 61.5h.8v.8h-.8zM638.3 111.2h.8v.8h-.8zM654.3 81.6h.8v.8h-.8zM633.1 67.7h.8v.8h-.8zM649.1 99.7h.8v.8h-.8zM639.8 70.1h.8v.8h-.8zM656.1 104.7h.8v.8h-.8zM620.8 78.2h.8v.8h-.8zM643.8 87.0h.8v.8h-.8zM617.1 77.3h.8v.8h-.8zM665.1 64.4h.8v.8h-.8zM644.8 89.4h.8v.8h-.8zM641.5 64.8h.8v.8h-.8zM644.2 78.7h.8v.8h-.8zM633.2 61.7h.8v.8h-.8zM620.3 82.7h.8v.8h-.8zM641.7 111.7h.8v.8h-.8zM655.8 88.8h.8v.8h-.8zM641.0 63.3h.8v.8h-.8zM642.2 79.2h.8v.8h-.8zM670.3 75.4h.8v.8h-.8zM643.6 109.5h.8v.8h-.8zM671.8 82.0h.8v.8h-.8zM644.4 62.0h.8v.8h-.8zM661.2 85.1h.8v.8h-.8zM646.8 94.0h.8v.8h-.8zM659.8 71.0h.8v.8h-.8zM622.5 102.8h.8v.8h-.8zM655.8 88.0h.8v.8h-.8zM646.9 58.7h.8v.8h-.8zM631.1 112.4h.8v.8h-.8zM629.4 94.8h.8v.8h-.8zM638.7 112.9h.8v.8h-.8zM627.2 66.4h.8v.8h-.8zM663.9 90.4h.8v.8h-.8zM629.9 82.2h.8v.8h-.8zM632.1 84.7h.8v.8h-.8zM662.9 71.6h.8v.8h-.8zM651.1 77.1h.8v.8h-.8zM667.7 81.5h.8v.8h-.8zM637.3 88.1h.8v.8h-.8zM659.4 78.2h.8v.8h-.8zM660.3 67.4h.8v.8h-.8zM662.1 83.3h.8v.8h-.8zM642.7 101.3h.8v.8h-.8zM671.3 79.9h.8v.8h-.8zM659.9 110.8h.8v.8h-.8zM646.8 58.5h.8v.8h-.8zM643.7 100.3h.8v.8h-.8zM627.4 105.4h.8v.8h-.8zM664.3 111.1h.8v.8h-.8zM620.1 105.3h.8v.8h-.8zM631.4 62.7h.8v.8h-.8zM628.6 71.1h.8v.8h-.8zM627.5 81.2h.8v.8h-.8zM636.6 97.4h.8v.8h-.8zM632.8 104.8h.8v.8h-.8zM656.9 63.9h.8v.8h-.8zM622.7 68.8h.8v.8h-.8zM620.7 65.5h.8v.8h-.8zM667.5 110.9h.8v.8h-.8zM621.4 78.7h.8v.8h-.8zM658.4 108.2h.8v.8h-.8zM637.3 71.6h.8v.8h-.8zM654.5 83.2h.8v.8h-.8zM630.4 110.6h.8v.8h-.8zM641.7 85.9h.8v.8h-.8zM657.2 94.6h.8v.8h-.8zM626.2 62.4h.8v.8h-.8zM645.6 74.5h.8v.8h-.8zM643.9 95.2h.8v.8h-.8zM627.4 107.3h.8v.8h-.8zM629.6 85.4h.8v.8h-.8zM631.7 83.7h.8v.8h-.8zM662.4 99.0h.8v.8h-.8zM655.9 98.9h.8v.8h-.8zM643.8 79.0h.8v.8h-.8zM659.3 100.1h.8v.8h-.8zM626.8 91.4h.8v.8h-.8zM617.6 95.5h.8v.8h-.8zM667.6 73.7h.8v.8h-.8zM663.3 80.8h.8v.8h-.8zM632.9 106.4h.8v.8h-.8zM645.6 99.0h.8v.8h-.8zM656.7 72.2h.8v.8h-.8zM629.9 111.6h.8v.8h-.8zM645.4 89.9h.8v.8h-.8zM632.4 78.4h.8v.8h-.8zM671.8 72.2h.8v.8h-.8zM646.3 91.4h.8v.8h-.8zM620.9 79.2h.8v.8h-.8zM657.9 102.5h.8v.8h-.8zM643.9 73.2h.8v.8h-.8zM623.7 72.8h.8v.8h-.8zM638.8 77.0h.8v.8h-.8zM655.7 101.6h.8v.8h-.8zM663.6 68.8h.8v.8h-.8zM640.2 80.9h.8v.8h-.8zM653.3 72.9h.8v.8h-.8zM635.9 95.1h.8v.8h-.8zM632.0 81.4h.8v.8h-.8zM655.0 76.6h.8v.8h-.8zM643.4 74.8h.8v.8h-.8zM648.6 64.1h.8v.8h-.8zM619.6 66.8h.8v.8h-.8zM638.0 80.7h.8v.8h-.8zM638.7 101.2h.8v.8h-.8zM668.1 74.0h.8v.8h-.8zM631.1 100.4h.8v.8h-.8zM654.9 59.8h.8v.8h-.8zM626.1 77.6h.8v.8h-.8zM668.5 95.2h.8v.8h-.8zM640.1 65.5h.8v.8h-.8zM667.4 89.1h.8v.8h-.8zM640.2 72.5h.8v.8h-.8zM626.5 84.5h.8v.8h-.8zM641.5 71.2h.8v.8h-.8zM632.5 90.4h.8v.8h-.8zM643.0 78.6h.8v.8h-.8zM643.6 70.3h.8v.8h-.8zM644.3 96.8h.8v.8h-.8zM633.4 99.5h.8v.8h-.8zM633.1 114.6h.8v.8h-.8zM668.5 98.3h.8v.8h-.8zM617.2 83.8h.8v.8h-.8zM620.3 74.7h.8v.8h-.8zM650.6 105.7h.8v.8h-.8zM643.9 85.7h.8v.8h-.8zM626.8 85.4h.8v.8h-.8zM652.8 100.6h.8v.8h-.8zM666.2 101.3h.8v.8h-.8zM657.4 80.3h.8v.8h-.8zM633.1 111.8h.8v.8h-.8zM644.4 102.6h.8v.8h-.8zM628.2 110.4h.8v.8h-.8zM625.2 88.9h.8v.8h-.8zM628.8 100.7h.8v.8h-.8zM666.0 104.7h.8v.8h-.8zM657.1 74.9h.8v.8h-.8zM643.7 72.4h.8v.8h-.8zM631.0 76.1h.8v.8h-.8zM648.8 76.5h.8v.8h-.8zM660.7 76.4h.8v.8h-.8zM633.0 72.0h.8v.8h-.8zM669.2 107.7h.8v.8h-.8zM637.6 77.6h.8v.8h-.8zM643.1 87.4h.8v.8h-.8zM666.6 101.8h.8v.8h-.8zM629.8 107.7h.8v.8h-.8zM624.6 75.6h.8v.8h-.8zM651.7 93.9h.8v.8h-.8zM666.3 93.6h.8v.8h-.8zM634.0 113.7h.8v.8h-.8zM650.4 65.1h.8v.8h-.8zM619.6 87.1h.8v.8h-.8zM625.6 97.6h.8v.8h-.8zM637.0 92.8h.8v.8h-.8zM619.1 92.4h.8v.8h-.8zM626.6 63.6h.8v.8h-.8zM657.2 74.8h.8v.8h-.8zM633.0 76.0h.8v.8h-.8zM617.9 99.9h.8v.8h-.8zM632.8 107.7h.8v.8h-.8zM644.2 76.7h.8v.8h-.8zM636.7 85.4h.8v.8h-.8zM620.3 69.7h.8v.8h-.8zM631.4 99.1h.8v.8h-.8zM618.5 80.8h.8v.8h-.8zM658.4 90.3h.8v.8h-.8zM650.0 78.8h.8v.8h-.8zM657.1 65.7h.8v.8h-.8zM647.2 111.7h.8v.8h-.8zM619.1 76.3h.8v.8h-.8zM643.0 70.5h.8v.8h-.8zM629.7 61.5h.8v.8h-.8zM646.7 78.1h.8v.8h-.8zM628.8 80.3h.8v.8h-.8zM631.6 94.4h.8v.8h-.8zM637.7 62.7h.8v.8h-.8zM656.8 96.5h.8v.8h-.8zM645.5 61.2h.8v.8h-.8zM659.1 77.2h.8v.8h-.8zM654.2 102.7h.8v.8h-.8zM625.9 69.2h.8v.8h-.8zM661.3 102.7h.8v.8h-.8zM637.5 76.7h.8v.8h-.8zM655.8 61.6h.8v.8h-.8zM661.3 66.9h.8v.8h-.8zM650.1 83.4h.8v.8h-.8zM628.9 89.7h.8v.8h-.8zM623.9 69.4h.8v.8h-.8zM646.8 72.0h.8v.8h-.8zM649.4 80.3h.8v.8h-.8zM649.8 113.5h.8v.8h-.8zM629.5 74.3h.8v.8h-.8zM626.6 102.8h.8v.8h-.8zM662.0 108.1h.8v.8h-.8zM639.7 89.5h.8v.8h-.8zM620.6 88.2h.8v.8h-.8zM665.2 96.8h.8v.8h-.8z" fill="#c86a70" opacity="0.6"/>
<path d="M657.6 96.7h.8v.8h-.8zM625.5 82.6h.8v.8h-.8zM669.5 89.3h.8v.8h-.8zM618.2 84.6h.8v.8h-.8zM637.8 109.8h.8v.8h-.8zM634.8 65.3h.8v.8h-.8zM642.4 88.5h.8v.8h-.8zM628.4 109.2h.8v.8h-.8zM656.6 59.1h.8v.8h-.8zM658.0 63.9h.8v.8h-.8zM664.7 98.8h.8v.8h-.8zM629.2 96.2h.8v.8h-.8zM623.8 91.7h.8v.8h-.8zM631.1 93.0h.8v.8h-.8zM656.1 72.3h.8v.8h-.8zM645.7 84.6h.8v.8h-.8zM670.2 100.2h.8v.8h-.8zM621.9 104.6h.8v.8h-.8zM632.8 115.2h.8v.8h-.8zM617.6 83.8h.8v.8h-.8zM620.8 74.0h.8v.8h-.8zM658.7 68.5h.8v.8h-.8zM659.9 99.9h.8v.8h-.8zM631.7 88.3h.8v.8h-.8zM643.9 72.5h.8v.8h-.8zM662.2 62.9h.8v.8h-.8zM631.0 110.0h.8v.8h-.8zM665.7 67.8h.8v.8h-.8zM668.8 98.8h.8v.8h-.8zM629.2 93.9h.8v.8h-.8zM652.0 57.9h.8v.8h-.8zM640.9 72.2h.8v.8h-.8zM635.3 72.9h.8v.8h-.8zM637.1 88.9h.8v.8h-.8zM641.3 108.6h.8v.8h-.8zM652.8 85.7h.8v.8h-.8zM660.9 95.8h.8v.8h-.8zM651.9 80.3h.8v.8h-.8zM633.8 70.9h.8v.8h-.8zM622.9 105.5h.8v.8h-.8zM642.1 67.0h.8v.8h-.8zM627.2 97.2h.8v.8h-.8zM661.7 94.5h.8v.8h-.8zM669.9 78.1h.8v.8h-.8zM665.8 102.1h.8v.8h-.8zM650.6 77.1h.8v.8h-.8zM671.7 106.8h.8v.8h-.8zM666.7 71.5h.8v.8h-.8zM647.8 65.4h.8v.8h-.8zM665.4 65.5h.8v.8h-.8zM667.0 99.5h.8v.8h-.8zM637.7 74.7h.8v.8h-.8zM661.8 90.4h.8v.8h-.8zM653.3 59.0h.8v.8h-.8zM627.9 68.7h.8v.8h-.8zM622.7 94.7h.8v.8h-.8zM671.1 110.3h.8v.8h-.8zM648.3 81.5h.8v.8h-.8zM667.3 69.8h.8v.8h-.8zM646.6 80.4h.8v.8h-.8zM655.2 103.6h.8v.8h-.8zM642.0 77.6h.8v.8h-.8zM630.9 68.5h.8v.8h-.8zM627.4 84.9h.8v.8h-.8zM665.1 68.9h.8v.8h-.8zM635.8 83.2h.8v.8h-.8zM651.3 80.3h.8v.8h-.8zM670.7 80.3h.8v.8h-.8zM656.0 80.9h.8v.8h-.8zM622.3 87.3h.8v.8h-.8zM641.0 65.5h.8v.8h-.8zM661.5 110.1h.8v.8h-.8zM646.7 93.2h.8v.8h-.8zM652.9 60.3h.8v.8h-.8zM623.7 82.4h.8v.8h-.8zM637.4 114.6h.8v.8h-.8zM645.4 83.2h.8v.8h-.8zM641.3 84.6h.8v.8h-.8zM670.8 89.5h.8v.8h-.8zM637.0 107.2h.8v.8h-.8zM653.6 90.0h.8v.8h-.8zM652.8 81.3h.8v.8h-.8zM671.6 104.9h.8v.8h-.8zM667.4 90.9h.8v.8h-.8zM654.0 96.6h.8v.8h-.8zM639.1 111.4h.8v.8h-.8zM619.5 76.7h.8v.8h-.8zM665.4 94.9h.8v.8h-.8zM633.6 106.2h.8v.8h-.8zM645.1 66.7h.8v.8h-.8zM627.6 68.1h.8v.8h-.8zM665.5 75.2h.8v.8h-.8zM666.2 69.5h.8v.8h-.8zM623.7 91.8h.8v.8h-.8zM657.4 68.8h.8v.8h-.8zM671.3 97.1h.8v.8h-.8zM662.3 110.2h.8v.8h-.8zM663.7 66.4h.8v.8h-.8zM648.2 109.1h.8v.8h-.8zM654.8 79.5h.8v.8h-.8zM646.6 75.7h.8v.8h-.8zM629.9 84.1h.8v.8h-.8zM622.6 70.9h.8v.8h-.8zM631.1 89.9h.8v.8h-.8zM625.1 63.4h.8v.8h-.8zM660.9 79.6h.8v.8h-.8zM631.0 70.9h.8v.8h-.8zM661.9 75.4h.8v.8h-.8zM661.5 74.6h.8v.8h-.8zM646.0 91.1h.8v.8h-.8zM668.3 109.5h.8v.8h-.8zM621.7 106.6h.8v.8h-.8zM619.3 76.1h.8v.8h-.8zM649.0 58.5h.8v.8h-.8zM630.6 63.4h.8v.8h-.8zM621.4 105.5h.8v.8h-.8zM642.4 93.0h.8v.8h-.8zM625.1 68.4h.8v.8h-.8zM649.5 85.0h.8v.8h-.8zM656.4 87.8h.8v.8h-.8zM629.2 107.7h.8v.8h-.8zM643.7 95.9h.8v.8h-.8zM661.9 84.3h.8v.8h-.8zM665.3 104.9h.8v.8h-.8zM653.4 88.3h.8v.8h-.8zM626.8 86.6h.8v.8h-.8zM621.4 82.8h.8v.8h-.8zM628.7 85.7h.8v.8h-.8zM618.8 81.3h.8v.8h-.8zM655.9 92.2h.8v.8h-.8zM631.3 105.0h.8v.8h-.8zM656.8 97.3h.8v.8h-.8zM667.9 81.3h.8v.8h-.8zM631.0 86.1h.8v.8h-.8zM659.7 72.8h.8v.8h-.8zM645.5 91.9h.8v.8h-.8zM640.7 80.0h.8v.8h-.8zM621.2 81.6h.8v.8h-.8zM653.3 103.1h.8v.8h-.8zM670.3 96.9h.8v.8h-.8zM639.7 61.4h.8v.8h-.8zM620.9 86.7h.8v.8h-.8zM629.4 75.0h.8v.8h-.8zM635.6 112.7h.8v.8h-.8zM618.3 82.1h.8v.8h-.8zM655.3 97.4h.8v.8h-.8zM649.1 82.7h.8v.8h-.8zM648.8 58.1h.8v.8h-.8zM657.1 110.9h.8v.8h-.8zM647.5 77.5h.8v.8h-.8zM654.8 91.7h.8v.8h-.8zM654.1 84.0h.8v.8h-.8zM627.9 79.7h.8v.8h-.8zM628.8 65.3h.8v.8h-.8zM626.7 101.7h.8v.8h-.8zM662.8 71.5h.8v.8h-.8zM640.8 65.3h.8v.8h-.8zM649.7 59.3h.8v.8h-.8zM658.1 62.3h.8v.8h-.8zM671.0 100.9h.8v.8h-.8zM642.2 103.7h.8v.8h-.8zM657.9 111.1h.8v.8h-.8zM657.3 101.9h.8v.8h-.8zM630.0 97.8h.8v.8h-.8zM630.0 77.9h.8v.8h-.8zM638.0 93.8h.8v.8h-.8zM643.3 103.5h.8v.8h-.8zM641.0 83.6h.8v.8h-.8zM636.6 94.2h.8v.8h-.8zM623.5 60.9h.8v.8h-.8zM620.7 87.5h.8v.8h-.8zM654.2 95.0h.8v.8h-.8zM649.2 78.0h.8v.8h-.8zM653.6 58.6h.8v.8h-.8zM645.3 105.0h.8v.8h-.8zM669.9 72.2h.8v.8h-.8zM628.8 109.8h.8v.8h-.8zM648.1 88.0h.8v.8h-.8zM636.0 97.0h.8v.8h-.8zM630.8 60.4h.8v.8h-.8zM650.6 87.2h.8v.8h-.8zM647.6 113.2h.8v.8h-.8zM647.1 90.3h.8v.8h-.8zM631.9 116.1h.8v.8h-.8zM656.2 82.0h.8v.8h-.8zM654.6 75.2h.8v.8h-.8zM672.0 97.6h.8v.8h-.8zM642.6 114.1h.8v.8h-.8zM620.0 63.5h.8v.8h-.8zM619.2 76.7h.8v.8h-.8zM652.5 86.5h.8v.8h-.8zM660.6 109.1h.8v.8h-.8zM662.3 77.8h.8v.8h-.8zM657.2 110.3h.8v.8h-.8zM632.6 81.5h.8v.8h-.8zM639.9 112.8h.8v.8h-.8zM647.9 64.8h.8v.8h-.8zM649.6 76.1h.8v.8h-.8zM657.0 72.2h.8v.8h-.8zM619.8 76.7h.8v.8h-.8zM625.9 83.5h.8v.8h-.8zM637.5 95.3h.8v.8h-.8zM647.8 62.1h.8v.8h-.8zM656.2 70.5h.8v.8h-.8zM643.5 67.5h.8v.8h-.8zM664.6 66.1h.8v.8h-.8zM631.7 109.1h.8v.8h-.8zM637.3 110.0h.8v.8h-.8zM659.1 107.3h.8v.8h-.8zM643.0 79.3h.8v.8h-.8zM653.4 111.8h.8v.8h-.8zM670.2 93.4h.8v.8h-.8zM663.6 71.3h.8v.8h-.8zM650.0 66.2h.8v.8h-.8zM629.0 75.0h.8v.8h-.8zM664.6 108.2h.8v.8h-.8zM646.5 107.9h.8v.8h-.8zM641.6 97.3h.8v.8h-.8zM639.0 109.2h.8v.8h-.8zM660.1 99.5h.8v.8h-.8zM629.9 108.1h.8v.8h-.8zM655.9 102.7h.8v.8h-.8zM670.7 84.3h.8v.8h-.8zM631.1 91.4h.8v.8h-.8zM636.8 76.3h.8v.8h-.8zM642.1 111.2h.8v.8h-.8zM647.3 75.8h.8v.8h-.8zM633.5 76.5h.8v.8h-.8zM639.4 72.0h.8v.8h-.8zM658.5 99.6h.8v.8h-.8zM623.0 62.3h.8v.8h-.8zM666.9 83.1h.8v.8h-.8zM632.3 66.1h.8v.8h-.8zM638.0 112.1h.8v.8h-.8zM648.0 82.0h.8v.8h-.8zM620.5 97.2h.8v.8h-.8zM644.5 65.0h.8v.8h-.8zM654.9 104.1h.8v.8h-.8zM636.2 97.1h.8v.8h-.8zM670.4 110.6h.8v.8h-.8zM623.2 65.3h.8v.8h-.8zM636.5 84.9h.8v.8h-.8zM640.0 103.7h.8v.8h-.8zM642.8 91.0h.8v.8h-.8zM655.0 70.5h.8v.8h-.8zM618.0 73.5h.8v.8h-.8zM625.3 92.4h.8v.8h-.8zM638.7 86.7h.8v.8h-.8zM650.9 104.1h.8v.8h-.8zM634.4 90.0h.8v.8h-.8zM666.5 106.9h.8v.8h-.8zM670.4 91.2h.8v.8h-.8zM632.9 94.0h.8v.8h-.8zM634.0 85.1h.8v.8h-.8zM660.2 87.6h.8v.8h-.8zM641.1 61.8h.8v.8h-.8zM641.4 61.4h.8v.8h-.8zM621.0 73.9h.8v.8h-.8zM664.5 67.4h.8v.8h-.8zM649.5 84.2h.8v.8h-.8zM643.8 78.8h.8v.8h-.8zM671.5 76.1h.8v.8h-.8zM657.1 109.4h.8v.8h-.8zM642.4 58.6h.8v.8h-.8zM635.3 85.6h.8v.8h-.8zM625.6 101.3h.8v.8h-.8zM664.6 107.1h.8v.8h-.8zM670.7 94.1h.8v.8h-.8zM670.9 77.2h.8v.8h-.8zM637.8 84.0h.8v.8h-.8zM631.1 60.8h.8v.8h-.8zM620.4 102.2h.8v.8h-.8zM661.2 97.5h.8v.8h-.8zM659.2 91.8h.8v.8h-.8zM653.3 72.3h.8v.8h-.8zM662.5 84.4h.8v.8h-.8zM624.4 77.8h.8v.8h-.8zM643.2 87.2h.8v.8h-.8zM636.6 98.7h.8v.8h-.8zM662.0 98.2h.8v.8h-.8zM648.6 93.9h.8v.8h-.8zM641.8 62.7h.8v.8h-.8zM643.1 90.5h.8v.8h-.8zM655.9 94.1h.8v.8h-.8zM670.4 99.8h.8v.8h-.8zM621.1 75.9h.8v.8h-.8zM638.1 84.8h.8v.8h-.8zM633.8 77.1h.8v.8h-.8zM631.2 98.4h.8v.8h-.8zM646.4 61.3h.8v.8h-.8zM658.5 82.6h.8v.8h-.8zM661.8 80.9h.8v.8h-.8zM648.1 94.6h.8v.8h-.8zM620.1 88.7h.8v.8h-.8zM651.5 59.9h.8v.8h-.8zM656.1 88.9h.8v.8h-.8zM626.7 108.9h.8v.8h-.8zM657.2 80.4h.8v.8h-.8zM623.6 106.9h.8v.8h-.8zM640.4 75.2h.8v.8h-.8zM653.4 63.8h.8v.8h-.8zM653.4 106.3h.8v.8h-.8zM661.6 104.9h.8v.8h-.8zM620.8 86.7h.8v.8h-.8zM621.1 104.5h.8v.8h-.8zM635.8 109.8h.8v.8h-.8zM625.0 65.3h.8v.8h-.8zM620.1 96.3h.8v.8h-.8zM624.4 95.4h.8v.8h-.8zM655.7 72.5h.8v.8h-.8zM654.2 109.7h.8v.8h-.8zM633.8 105.1h.8v.8h-.8zM647.6 112.8h.8v.8h-.8zM662.5 100.6h.8v.8h-.8zM657.3 77.6h.8v.8h-.8zM640.8 80.9h.8v.8h-.8zM641.2 103.4h.8v.8h-.8zM625.2 77.4h.8v.8h-.8zM629.6 111.0h.8v.8h-.8zM651.1 103.5h.8v.8h-.8zM657.0 110.3h.8v.8h-.8zM650.9 61.8h.8v.8h-.8zM655.4 60.9h.8v.8h-.8zM616.9 83.7h.8v.8h-.8zM629.7 102.9h.8v.8h-.8zM628.1 99.3h.8v.8h-.8zM630.7 88.1h.8v.8h-.8zM629.5 78.9h.8v.8h-.8zM641.6 114.3h.8v.8h-.8zM662.6 89.5h.8v.8h-.8zM620.0 93.4h.8v.8h-.8zM653.6 60.0h.8v.8h-.8zM657.6 91.0h.8v.8h-.8zM624.3 85.6h.8v.8h-.8zM637.9 80.6h.8v.8h-.8zM651.9 84.8h.8v.8h-.8zM653.5 75.4h.8v.8h-.8zM637.3 69.1h.8v.8h-.8zM651.1 58.2h.8v.8h-.8zM629.9 112.4h.8v.8h-.8zM665.1 88.1h.8v.8h-.8zM627.2 80.7h.8v.8h-.8zM620.7 72.3h.8v.8h-.8zM650.9 95.3h.8v.8h-.8zM634.7 93.8h.8v.8h-.8zM622.3 93.2h.8v.8h-.8zM667.3 96.1h.8v.8h-.8zM668.8 68.3h.8v.8h-.8zM632.2 65.2h.8v.8h-.8zM621.9 79.1h.8v.8h-.8zM658.6 100.0h.8v.8h-.8zM650.8 92.3h.8v.8h-.8zM655.5 72.4h.8v.8h-.8zM650.0 64.6h.8v.8h-.8zM623.8 73.2h.8v.8h-.8zM619.8 79.1h.8v.8h-.8zM630.6 110.3h.8v.8h-.8zM661.4 63.0h.8v.8h-.8zM658.7 86.7h.8v.8h-.8zM648.8 68.8h.8v.8h-.8zM630.9 71.7h.8v.8h-.8zM619.2 83.0h.8v.8h-.8zM648.3 65.7h.8v.8h-.8zM633.4 67.6h.8v.8h-.8zM644.2 102.0h.8v.8h-.8zM666.1 82.3h.8v.8h-.8zM659.8 60.8h.8v.8h-.8zM628.1 94.3h.8v.8h-.8zM656.9 108.0h.8v.8h-.8zM658.7 74.3h.8v.8h-.8zM654.4 107.3h.8v.8h-.8zM624.3 101.5h.8v.8h-.8zM653.2 103.9h.8v.8h-.8zM641.0 70.5h.8v.8h-.8zM657.0 64.4h.8v.8h-.8zM635.1 84.9h.8v.8h-.8zM617.0 92.8h.8v.8h-.8zM632.0 68.8h.8v.8h-.8zM665.9 75.2h.8v.8h-.8zM661.4 107.9h.8v.8h-.8zM653.8 84.1h.8v.8h-.8zM655.7 104.4h.8v.8h-.8zM622.6 105.5h.8v.8h-.8zM653.9 107.8h.8v.8h-.8zM653.4 79.7h.8v.8h-.8zM624.9 91.4h.8v.8h-.8zM660.3 89.7h.8v.8h-.8zM663.7 84.2h.8v.8h-.8zM639.4 63.7h.8v.8h-.8zM670.9 97.0h.8v.8h-.8zM623.4 80.3h.8v.8h-.8zM626.6 60.2h.8v.8h-.8zM634.1 75.7h.8v.8h-.8zM627.3 108.2h.8v.8h-.8zM650.6 98.5h.8v.8h-.8zM669.0 102.8h.8v.8h-.8zM619.5 80.5h.8v.8h-.8zM654.2 105.6h.8v.8h-.8zM625.0 70.1h.8v.8h-.8zM651.5 92.4h.8v.8h-.8zM634.0 101.5h.8v.8h-.8zM629.2 99.3h.8v.8h-.8zM621.3 87.8h.8v.8h-.8zM669.1 68.2h.8v.8h-.8zM621.1 76.7h.8v.8h-.8zM656.5 112.4h.8v.8h-.8zM639.3 59.7h.8v.8h-.8zM639.6 107.6h.8v.8h-.8zM632.7 112.8h.8v.8h-.8zM653.2 60.3h.8v.8h-.8zM658.7 73.1h.8v.8h-.8zM640.8 112.6h.8v.8h-.8zM648.1 75.6h.8v.8h-.8zM640.1 98.8h.8v.8h-.8zM666.5 74.6h.8v.8h-.8z" fill="#d89aa0" opacity="0.6"/>
<path d="M650.4 93.0h.8v.8h-.8zM625.7 101.7h.8v.8h-.8zM633.9 113.7h.8v.8h-.8zM644.7 87.7h.8v.8h-.8zM645.2 112.3h.8v.8h-.8zM618.7 77.5h.8v.8h-.8zM625.7 62.9h.8v.8h-.8zM645.6 111.6h.8v.8h-.8zM633.7 106.8h.8v.8h-.8zM643.7 69.5h.8v.8h-.8zM655.2 58.7h.8v.8h-.8zM654.5 111.4h.8v.8h-.8zM629.6 96.8h.8v.8h-.8zM622.0 87.7h.8v.8h-.8zM641.2 58.9h.8v.8h-.8zM643.5 81.1h.8v.8h-.8zM656.3 109.3h.8v.8h-.8zM669.1 100.2h.8v.8h-.8zM661.4 65.3h.8v.8h-.8zM643.7 106.6h.8v.8h-.8zM658.7 85.8h.8v.8h-.8zM662.5 75.1h.8v.8h-.8zM664.0 104.3h.8v.8h-.8zM668.2 86.9h.8v.8h-.8zM632.9 93.9h.8v.8h-.8zM638.4 74.0h.8v.8h-.8zM635.5 102.5h.8v.8h-.8zM638.5 85.2h.8v.8h-.8zM634.3 106.6h.8v.8h-.8zM662.4 88.1h.8v.8h-.8zM629.4 98.7h.8v.8h-.8zM656.8 84.1h.8v.8h-.8zM633.9 67.3h.8v.8h-.8zM664.5 70.3h.8v.8h-.8zM653.3 109.4h.8v.8h-.8zM649.4 111.1h.8v.8h-.8zM668.2 69.2h.8v.8h-.8zM665.3 92.1h.8v.8h-.8zM660.2 91.5h.8v.8h-.8zM634.6 88.9h.8v.8h-.8zM647.7 62.3h.8v.8h-.8zM636.9 113.1h.8v.8h-.8zM669.6 104.4h.8v.8h-.8zM669.7 105.7h.8v.8h-.8zM654.9 71.8h.8v.8h-.8zM623.2 92.5h.8v.8h-.8zM636.1 65.9h.8v.8h-.8zM669.1 78.6h.8v.8h-.8zM634.8 61.9h.8v.8h-.8zM618.4 86.3h.8v.8h-.8zM656.8 70.5h.8v.8h-.8zM629.9 108.1h.8v.8h-.8zM624.1 69.6h.8v.8h-.8zM629.4 93.7h.8v.8h-.8zM633.1 61.0h.8v.8h-.8zM641.0 81.5h.8v.8h-.8zM653.5 93.8h.8v.8h-.8zM629.3 79.8h.8v.8h-.8zM622.6 96.4h.8v.8h-.8zM666.0 110.5h.8v.8h-.8zM669.8 91.6h.8v.8h-.8zM643.1 96.0h.8v.8h-.8zM636.4 114.1h.8v.8h-.8zM672.1 82.3h.8v.8h-.8zM622.2 88.8h.8v.8h-.8zM648.0 92.2h.8v.8h-.8zM617.0 63.4h.8v.8h-.8zM671.4 84.8h.8v.8h-.8zM671.9 73.3h.8v.8h-.8zM665.2 79.4h.8v.8h-.8zM657.0 96.5h.8v.8h-.8zM658.5 73.5h.8v.8h-.8zM654.3 65.2h.8v.8h-.8zM626.2 67.4h.8v.8h-.8zM650.7 93.1h.8v.8h-.8zM638.8 114.8h.8v.8h-.8zM649.3 113.6h.8v.8h-.8zM659.7 85.9h.8v.8h-.8zM635.5 63.8h.8v.8h-.8zM638.6 102.4h.8v.8h-.8zM644.4 88.6h.8v.8h-.8zM648.4 101.9h.8v.8h-.8zM626.9 109.1h.8v.8h-.8zM632.0 95.0h.8v.8h-.8zM634.7 91.6h.8v.8h-.8zM631.6 62.9h.8v.8h-.8zM655.9 105.4h.8v.8h-.8zM616.9 86.7h.8v.8h-.8zM625.0 88.5h.8v.8h-.8zM655.4 103.7h.8v.8h-.8zM663.1 93.3h.8v.8h-.8zM649.7 101.6h.8v.8h-.8zM622.9 69.5h.8v.8h-.8zM635.3 59.5h.8v.8h-.8zM646.4 81.1h.8v.8h-.8zM630.1 99.8h.8v.8h-.8zM643.2 67.9h.8v.8h-.8zM659.5 83.9h.8v.8h-.8zM647.8 61.0h.8v.8h-.8zM623.4 89.0h.8v.8h-.8zM646.4 109.6h.8v.8h-.8zM642.1 90.0h.8v.8h-.8zM617.2 88.3h.8v.8h-.8zM659.4 80.1h.8v.8h-.8zM629.0 101.9h.8v.8h-.8zM646.4 83.0h.8v.8h-.8zM649.2 80.6h.8v.8h-.8zM670.5 106.3h.8v.8h-.8zM651.5 96.8h.8v.8h-.8zM656.7 73.5h.8v.8h-.8zM654.6 96.7h.8v.8h-.8zM668.2 93.3h.8v.8h-.8zM630.4 62.6h.8v.8h-.8zM668.2 71.1h.8v.8h-.8zM647.7 76.9h.8v.8h-.8zM636.5 86.2h.8v.8h-.8zM654.5 101.7h.8v.8h-.8zM628.6 66.7h.8v.8h-.8zM672.0 91.4h.8v.8h-.8zM648.7 60.7h.8v.8h-.8zM647.2 100.7h.8v.8h-.8zM630.9 61.8h.8v.8h-.8zM623.2 103.5h.8v.8h-.8zM652.4 79.6h.8v.8h-.8zM648.4 87.2h.8v.8h-.8zM656.0 112.6h.8v.8h-.8zM643.7 63.9h.8v.8h-.8zM657.5 100.1h.8v.8h-.8zM628.6 90.9h.8v.8h-.8zM645.6 101.3h.8v.8h-.8zM664.7 69.4h.8v.8h-.8zM619.0 91.2h.8v.8h-.8zM629.2 113.6h.8v.8h-.8zM645.2 104.7h.8v.8h-.8zM623.3 78.0h.8v.8h-.8zM649.3 95.6h.8v.8h-.8zM616.8 98.9h.8v.8h-.8zM619.5 97.6h.8v.8h-.8zM656.5 65.2h.8v.8h-.8zM630.9 68.7h.8v.8h-.8zM643.5 107.8h.8v.8h-.8zM649.3 72.3h.8v.8h-.8zM641.6 102.4h.8v.8h-.8zM656.2 63.7h.8v.8h-.8zM632.1 73.5h.8v.8h-.8zM655.1 92.7h.8v.8h-.8zM621.1 86.6h.8v.8h-.8zM660.7 85.3h.8v.8h-.8zM667.5 100.2h.8v.8h-.8zM671.4 100.6h.8v.8h-.8zM666.3 99.9h.8v.8h-.8zM620.1 83.5h.8v.8h-.8zM671.9 101.4h.8v.8h-.8zM656.2 60.7h.8v.8h-.8zM669.5 104.7h.8v.8h-.8zM627.5 94.3h.8v.8h-.8zM662.4 86.6h.8v.8h-.8zM628.3 63.8h.8v.8h-.8zM639.8 98.6h.8v.8h-.8zM634.6 92.3h.8v.8h-.8zM664.8 88.4h.8v.8h-.8zM643.6 69.1h.8v.8h-.8zM648.2 81.9h.8v.8h-.8zM645.7 68.3h.8v.8h-.8zM623.0 95.0h.8v.8h-.8zM628.5 74.4h.8v.8h-.8zM670.5 84.2h.8v.8h-.8zM642.0 94.0h.8v.8h-.8zM631.2 70.7h.8v.8h-.8zM663.6 71.8h.8v.8h-.8zM669.8 70.7h.8v.8h-.8zM639.7 88.3h.8v.8h-.8zM671.9 108.2h.8v.8h-.8zM656.3 76.6h.8v.8h-.8zM638.9 112.0h.8v.8h-.8zM627.9 64.3h.8v.8h-.8zM650.0 108.2h.8v.8h-.8zM639.3 114.1h.8v.8h-.8zM650.1 72.7h.8v.8h-.8zM653.8 68.9h.8v.8h-.8zM629.0 78.6h.8v.8h-.8zM627.5 92.6h.8v.8h-.8zM629.4 75.5h.8v.8h-.8zM645.2 104.7h.8v.8h-.8zM639.1 63.6h.8v.8h-.8zM667.5 111.0h.8v.8h-.8zM655.5 107.4h.8v.8h-.8zM637.9 61.5h.8v.8h-.8zM643.0 58.9h.8v.8h-.8zM626.2 71.2h.8v.8h-.8zM622.0 96.9h.8v.8h-.8zM672.1 91.9h.8v.8h-.8zM667.3 86.3h.8v.8h-.8zM641.5 111.6h.8v.8h-.8zM617.9 63.4h.8v.8h-.8zM630.2 89.1h.8v.8h-.8zM623.7 83.0h.8v.8h-.8zM652.6 95.3h.8v.8h-.8zM637.9 79.2h.8v.8h-.8zM640.2 108.4h.8v.8h-.8zM663.4 80.6h.8v.8h-.8zM622.1 63.0h.8v.8h-.8zM650.7 78.8h.8v.8h-.8zM636.5 65.9h.8v.8h-.8zM620.8 75.7h.8v.8h-.8zM630.3 110.9h.8v.8h-.8zM621.7 77.6h.8v.8h-.8zM670.7 91.1h.8v.8h-.8zM651.1 77.5h.8v.8h-.8zM622.6 65.8h.8v.8h-.8zM668.0 86.3h.8v.8h-.8zM634.1 80.3h.8v.8h-.8zM637.4 71.7h.8v.8h-.8zM668.2 95.8h.8v.8h-.8zM635.5 87.9h.8v.8h-.8z" fill="#a05a78" opacity="0.55"/>
<path d="M619.8 62.2h.8v.8h-.8zM666.4 104.2h.8v.8h-.8zM667.1 102.2h.8v.8h-.8zM668.1 86.7h.8v.8h-.8zM620.9 105.6h.8v.8h-.8zM667.2 68.5h.8v.8h-.8zM618.4 83.7h.8v.8h-.8zM657.8 110.4h.8v.8h-.8zM649.6 94.0h.8v.8h-.8zM638.5 84.5h.8v.8h-.8zM636.6 84.2h.8v.8h-.8zM646.8 113.2h.8v.8h-.8zM670.2 76.7h.8v.8h-.8zM618.2 61.9h.8v.8h-.8zM626.4 101.5h.8v.8h-.8zM639.2 97.0h.8v.8h-.8zM669.5 101.0h.8v.8h-.8zM646.9 71.2h.8v.8h-.8zM664.0 82.6h.8v.8h-.8zM640.5 80.7h.8v.8h-.8zM652.6 94.1h.8v.8h-.8zM659.6 105.8h.8v.8h-.8zM632.9 69.5h.8v.8h-.8zM668.1 69.1h.8v.8h-.8zM633.8 69.4h.8v.8h-.8zM634.4 72.3h.8v.8h-.8zM650.4 63.5h.8v.8h-.8zM631.7 70.1h.8v.8h-.8zM618.3 75.0h.8v.8h-.8zM642.3 113.4h.8v.8h-.8zM638.4 93.6h.8v.8h-.8zM655.4 78.6h.8v.8h-.8zM657.5 67.7h.8v.8h-.8zM626.8 71.5h.8v.8h-.8zM663.6 93.5h.8v.8h-.8zM616.8 62.2h.8v.8h-.8zM661.6 88.3h.8v.8h-.8zM658.6 65.3h.8v.8h-.8zM638.6 90.4h.8v.8h-.8zM640.2 97.9h.8v.8h-.8zM643.6 106.9h.8v.8h-.8zM628.9 105.3h.8v.8h-.8zM625.7 61.4h.8v.8h-.8zM624.6 87.6h.8v.8h-.8zM654.5 70.2h.8v.8h-.8zM668.7 91.1h.8v.8h-.8zM653.2 67.4h.8v.8h-.8zM671.0 95.7h.8v.8h-.8zM617.1 69.3h.8v.8h-.8zM628.1 65.0h.8v.8h-.8zM653.0 74.4h.8v.8h-.8zM658.9 69.4h.8v.8h-.8zM669.4 101.6h.8v.8h-.8zM631.6 102.8h.8v.8h-.8zM659.5 75.0h.8v.8h-.8zM666.4 73.7h.8v.8h-.8zM623.3 74.2h.8v.8h-.8zM658.6 109.1h.8v.8h-.8zM638.4 82.7h.8v.8h-.8zM620.0 69.4h.8v.8h-.8zM667.5 72.2h.8v.8h-.8zM652.8 88.5h.8v.8h-.8zM622.2 84.4h.8v.8h-.8zM627.1 76.9h.8v.8h-.8zM663.9 101.4h.8v.8h-.8zM633.3 112.7h.8v.8h-.8zM666.0 69.1h.8v.8h-.8zM630.5 96.4h.8v.8h-.8zM617.9 68.1h.8v.8h-.8zM624.7 88.6h.8v.8h-.8zM639.0 98.9h.8v.8h-.8zM643.4 94.5h.8v.8h-.8zM654.7 59.1h.8v.8h-.8zM661.2 97.1h.8v.8h-.8zM644.1 80.0h.8v.8h-.8zM640.0 80.9h.8v.8h-.8zM626.3 79.5h.8v.8h-.8zM645.6 59.1h.8v.8h-.8zM665.8 91.6h.8v.8h-.8zM659.9 95.8h.8v.8h-.8zM645.8 107.6h.8v.8h-.8zM662.3 89.5h.8v.8h-.8zM670.4 102.3h.8v.8h-.8zM652.2 88.2h.8v.8h-.8zM660.2 74.8h.8v.8h-.8zM632.6 67.2h.8v.8h-.8zM666.8 92.7h.8v.8h-.8zM658.7 98.5h.8v.8h-.8zM653.3 68.6h.8v.8h-.8zM650.6 97.3h.8v.8h-.8zM627.0 107.2h.8v.8h-.8zM659.9 68.1h.8v.8h-.8zM638.4 69.4h.8v.8h-.8zM649.8 75.4h.8v.8h-.8zM625.0 88.0h.8v.8h-.8zM646.2 95.3h.8v.8h-.8zM630.3 114.1h.8v.8h-.8zM637.1 95.7h.8v.8h-.8zM648.6 60.3h.8v.8h-.8zM663.5 93.5h.8v.8h-.8zM648.4 90.0h.8v.8h-.8zM627.0 80.4h.8v.8h-.8zM657.8 110.9h.8v.8h-.8zM637.5 82.7h.8v.8h-.8zM632.8 62.6h.8v.8h-.8zM630.6 68.4h.8v.8h-.8zM622.0 76.9h.8v.8h-.8zM665.8 89.1h.8v.8h-.8zM621.3 74.2h.8v.8h-.8zM664.0 89.9h.8v.8h-.8zM646.6 111.5h.8v.8h-.8zM661.8 93.8h.8v.8h-.8zM628.2 86.0h.8v.8h-.8zM661.7 89.0h.8v.8h-.8zM632.8 79.9h.8v.8h-.8zM616.9 74.5h.8v.8h-.8zM621.6 65.0h.8v.8h-.8zM652.0 79.6h.8v.8h-.8zM656.5 91.2h.8v.8h-.8zM630.0 105.2h.8v.8h-.8zM656.3 80.6h.8v.8h-.8zM671.8 99.1h.8v.8h-.8zM625.5 102.7h.8v.8h-.8zM625.6 95.4h.8v.8h-.8zM642.7 69.8h.8v.8h-.8zM665.2 106.2h.8v.8h-.8zM622.9 63.0h.8v.8h-.8zM636.3 82.8h.8v.8h-.8zM657.0 74.5h.8v.8h-.8zM648.0 99.6h.8v.8h-.8zM636.0 66.8h.8v.8h-.8zM642.7 64.8h.8v.8h-.8zM618.8 66.6h.8v.8h-.8zM620.5 81.0h.8v.8h-.8zM654.2 88.7h.8v.8h-.8zM671.3 99.7h.8v.8h-.8zM649.0 102.2h.8v.8h-.8zM656.9 108.4h.8v.8h-.8zM652.1 96.6h.8v.8h-.8zM652.4 102.1h.8v.8h-.8zM625.6 76.2h.8v.8h-.8zM659.2 81.9h.8v.8h-.8zM665.9 64.8h.8v.8h-.8zM647.3 61.9h.8v.8h-.8zM661.4 107.5h.8v.8h-.8zM640.9 94.6h.8v.8h-.8zM627.4 109.8h.8v.8h-.8zM635.7 77.7h.8v.8h-.8zM647.3 82.8h.8v.8h-.8zM639.9 110.7h.8v.8h-.8zM628.6 83.9h.8v.8h-.8zM642.6 80.7h.8v.8h-.8zM626.9 100.7h.8v.8h-.8zM666.4 95.8h.8v.8h-.8zM661.9 69.2h.8v.8h-.8zM646.0 110.2h.8v.8h-.8zM660.6 69.2h.8v.8h-.8zM620.9 72.3h.8v.8h-.8zM618.4 96.6h.8v.8h-.8zM623.0 87.6h.8v.8h-.8zM656.0 86.1h.8v.8h-.8zM646.4 80.4h.8v.8h-.8zM670.6 108.8h.8v.8h-.8zM634.1 115.7h.8v.8h-.8zM633.7 93.5h.8v.8h-.8zM657.2 90.3h.8v.8h-.8zM669.3 73.1h.8v.8h-.8zM632.7 70.1h.8v.8h-.8zM627.5 107.7h.8v.8h-.8zM641.1 67.2h.8v.8h-.8zM666.0 68.7h.8v.8h-.8zM658.9 68.9h.8v.8h-.8zM654.8 64.2h.8v.8h-.8zM656.0 106.3h.8v.8h-.8zM622.9 84.6h.8v.8h-.8zM637.8 108.8h.8v.8h-.8zM660.4 109.3h.8v.8h-.8zM659.6 88.0h.8v.8h-.8zM669.5 75.1h.8v.8h-.8zM631.5 115.8h.8v.8h-.8zM634.0 88.1h.8v.8h-.8zM649.4 69.5h.8v.8h-.8zM643.3 103.7h.8v.8h-.8zM620.0 94.2h.8v.8h-.8zM657.1 100.9h.8v.8h-.8zM639.4 64.5h.8v.8h-.8zM623.7 95.1h.8v.8h-.8zM640.0 89.7h.8v.8h-.8z" fill="#7878a8" opacity="0.55"/>
<path d="M636.4 109.3h.8v.8h-.8zM642.3 90.7h.8v.8h-.8zM667.2 73.0h.8v.8h-.8zM622.4 83.6h.8v.8h-.8zM652.4 69.7h.8v.8h-.8zM669.8 104.7h.8v.8h-.8zM653.3 102.1h.8v.8h-.8zM632.9 110.0h.8v.8h-.8zM641.3 94.9h.8v.8h-.8zM662.5 77.4h.8v.8h-.8zM636.2 78.4h.8v.8h-.8zM625.1 75.9h.8v.8h-.8zM624.1 88.1h.8v.8h-.8zM620.1 69.0h.8v.8h-.8zM637.8 93.9h.8v.8h-.8zM655.7 73.6h.8v.8h-.8zM644.3 104.4h.8v.8h-.8zM636.4 77.3h.8v.8h-.8zM630.4 103.7h.8v.8h-.8zM646.0 81.0h.8v.8h-.8zM640.0 87.0h.8v.8h-.8zM652.7 103.4h.8v.8h-.8zM627.7 98.5h.8v.8h-.8zM626.5 104.7h.8v.8h-.8zM661.4 95.3h.8v.8h-.8zM659.8 87.0h.8v.8h-.8zM652.2 99.6h.8v.8h-.8zM663.0 76.9h.8v.8h-.8zM666.1 87.1h.8v.8h-.8zM619.1 90.4h.8v.8h-.8zM657.1 103.9h.8v.8h-.8zM651.2 80.8h.8v.8h-.8zM641.4 97.1h.8v.8h-.8zM643.2 112.7h.8v.8h-.8zM663.8 102.6h.8v.8h-.8zM649.3 112.1h.8v.8h-.8zM632.4 98.0h.8v.8h-.8zM626.3 110.9h.8v.8h-.8zM640.2 107.0h.8v.8h-.8zM625.9 97.9h.8v.8h-.8zM666.5 78.1h.8v.8h-.8zM663.7 73.0h.8v.8h-.8zM633.3 70.0h.8v.8h-.8zM635.5 101.8h.8v.8h-.8zM650.0 101.8h.8v.8h-.8zM651.0 74.7h.8v.8h-.8zM660.1 69.4h.8v.8h-.8zM642.1 61.9h.8v.8h-.8zM625.0 88.6h.8v.8h-.8zM630.7 92.3h.8v.8h-.8zM644.6 99.3h.8v.8h-.8zM665.7 108.2h.8v.8h-.8zM667.1 97.9h.8v.8h-.8zM649.9 79.1h.8v.8h-.8zM631.5 103.0h.8v.8h-.8zM662.0 98.6h.8v.8h-.8zM637.0 60.7h.8v.8h-.8zM643.1 88.2h.8v.8h-.8zM617.2 74.1h.8v.8h-.8zM667.4 106.4h.8v.8h-.8zM617.5 73.4h.8v.8h-.8zM663.9 68.3h.8v.8h-.8zM635.3 102.6h.8v.8h-.8zM626.9 84.8h.8v.8h-.8zM620.9 64.5h.8v.8h-.8zM616.9 66.2h.8v.8h-.8zM634.6 82.9h.8v.8h-.8zM627.9 76.3h.8v.8h-.8zM641.8 104.7h.8v.8h-.8zM662.0 70.0h.8v.8h-.8zM645.1 77.5h.8v.8h-.8zM652.3 63.5h.8v.8h-.8zM661.4 71.6h.8v.8h-.8zM623.2 77.5h.8v.8h-.8zM622.8 106.3h.8v.8h-.8zM641.2 90.1h.8v.8h-.8zM651.1 102.5h.8v.8h-.8zM662.3 94.0h.8v.8h-.8zM637.9 62.8h.8v.8h-.8zM665.3 96.8h.8v.8h-.8zM641.1 64.5h.8v.8h-.8zM644.7 97.5h.8v.8h-.8zM617.9 94.8h.8v.8h-.8zM667.1 75.5h.8v.8h-.8zM630.8 105.9h.8v.8h-.8zM640.6 84.2h.8v.8h-.8zM661.9 87.3h.8v.8h-.8zM650.1 69.7h.8v.8h-.8zM644.1 99.9h.8v.8h-.8zM618.7 103.3h.8v.8h-.8zM642.0 92.4h.8v.8h-.8zM664.0 99.7h.8v.8h-.8zM626.6 71.5h.8v.8h-.8zM625.2 74.0h.8v.8h-.8zM618.0 89.2h.8v.8h-.8zM620.3 85.1h.8v.8h-.8zM661.0 103.0h.8v.8h-.8zM661.3 85.4h.8v.8h-.8zM659.0 86.9h.8v.8h-.8zM636.1 77.1h.8v.8h-.8zM670.4 108.9h.8v.8h-.8zM620.4 62.3h.8v.8h-.8zM627.7 92.5h.8v.8h-.8zM626.4 80.8h.8v.8h-.8zM627.0 96.9h.8v.8h-.8zM655.9 67.4h.8v.8h-.8zM624.7 99.1h.8v.8h-.8zM649.6 61.9h.8v.8h-.8zM655.3 83.4h.8v.8h-.8zM635.8 87.0h.8v.8h-.8zM650.2 76.2h.8v.8h-.8zM668.9 98.4h.8v.8h-.8zM617.8 93.1h.8v.8h-.8zM618.9 95.8h.8v.8h-.8zM635.7 63.3h.8v.8h-.8zM620.5 85.6h.8v.8h-.8zM621.4 86.6h.8v.8h-.8zM662.6 87.3h.8v.8h-.8zM651.7 65.5h.8v.8h-.8zM638.5 103.9h.8v.8h-.8zM630.6 104.2h.8v.8h-.8zM623.7 65.3h.8v.8h-.8zM643.4 69.9h.8v.8h-.8zM634.9 90.9h.8v.8h-.8zM656.8 99.9h.8v.8h-.8zM666.9 103.9h.8v.8h-.8zM640.4 94.5h.8v.8h-.8zM658.6 60.2h.8v.8h-.8zM631.1 78.1h.8v.8h-.8zM660.1 65.3h.8v.8h-.8zM652.9 88.8h.8v.8h-.8zM646.3 82.7h.8v.8h-.8zM619.4 87.7h.8v.8h-.8zM652.0 107.5h.8v.8h-.8z" fill="#9a8ab8" opacity="0.5"/>
<path d="M636.4 115.1h.8v.8h-.8zM645.3 65.7h.8v.8h-.8zM655.8 81.0h.8v.8h-.8zM642.7 69.3h.8v.8h-.8zM617.3 90.1h.8v.8h-.8zM629.6 73.6h.8v.8h-.8zM666.4 68.2h.8v.8h-.8zM649.4 89.0h.8v.8h-.8zM632.5 102.4h.8v.8h-.8zM625.1 74.9h.8v.8h-.8zM653.4 85.1h.8v.8h-.8zM619.2 92.2h.8v.8h-.8zM658.2 95.7h.8v.8h-.8zM642.0 114.0h.8v.8h-.8zM643.0 64.4h.8v.8h-.8zM650.8 77.9h.8v.8h-.8zM629.3 65.4h.8v.8h-.8zM671.4 82.8h.8v.8h-.8zM647.1 75.1h.8v.8h-.8zM634.7 74.5h.8v.8h-.8zM619.3 78.9h.8v.8h-.8zM640.0 106.3h.8v.8h-.8zM649.3 106.8h.8v.8h-.8zM644.0 113.8h.8v.8h-.8zM633.9 73.4h.8v.8h-.8zM654.7 108.1h.8v.8h-.8zM630.2 89.6h.8v.8h-.8zM630.2 104.2h.8v.8h-.8zM659.7 68.1h.8v.8h-.8zM667.0 83.5h.8v.8h-.8zM659.0 98.7h.8v.8h-.8zM670.8 106.8h.8v.8h-.8zM638.6 67.8h.8v.8h-.8zM660.5 79.6h.8v.8h-.8zM643.8 92.5h.8v.8h-.8zM661.2 68.5h.8v.8h-.8zM630.5 64.0h.8v.8h-.8zM666.1 106.1h.8v.8h-.8zM630.8 91.3h.8v.8h-.8zM622.3 87.7h.8v.8h-.8zM657.0 77.6h.8v.8h-.8zM658.2 100.5h.8v.8h-.8zM644.0 82.3h.8v.8h-.8zM631.5 64.5h.8v.8h-.8zM649.9 91.9h.8v.8h-.8zM656.7 102.2h.8v.8h-.8zM641.5 73.3h.8v.8h-.8zM625.3 73.9h.8v.8h-.8zM667.8 82.8h.8v.8h-.8zM637.9 89.4h.8v.8h-.8zM650.7 89.6h.8v.8h-.8zM617.4 70.4h.8v.8h-.8zM640.0 98.9h.8v.8h-.8zM645.9 75.6h.8v.8h-.8zM668.0 68.5h.8v.8h-.8zM629.9 103.8h.8v.8h-.8zM642.9 101.2h.8v.8h-.8zM661.4 88.3h.8v.8h-.8zM632.0 93.8h.8v.8h-.8zM634.5 97.1h.8v.8h-.8zM660.4 101.2h.8v.8h-.8zM643.5 88.7h.8v.8h-.8zM640.8 63.2h.8v.8h-.8zM654.5 112.3h.8v.8h-.8zM623.2 98.8h.8v.8h-.8zM669.0 81.1h.8v.8h-.8zM627.8 109.9h.8v.8h-.8zM630.8 102.2h.8v.8h-.8zM633.6 100.6h.8v.8h-.8zM637.2 83.7h.8v.8h-.8zM637.3 64.9h.8v.8h-.8zM627.9 71.0h.8v.8h-.8zM624.4 95.9h.8v.8h-.8zM660.9 95.8h.8v.8h-.8zM663.1 75.5h.8v.8h-.8zM653.9 61.1h.8v.8h-.8zM637.8 105.9h.8v.8h-.8zM670.8 96.3h.8v.8h-.8zM641.7 102.8h.8v.8h-.8zM636.0 79.5h.9v.9h-.9zM629.8 72.8h.9v.9h-.9zM630.3 71.1h.9v.9h-.9zM639.9 77.7h.9v.9h-.9zM627.5 74.9h.9v.9h-.9zM634.2 72.7h.9v.9h-.9zM636.1 77.1h.9v.9h-.9zM637.3 78.0h.9v.9h-.9zM634.1 71.1h.9v.9h-.9zM640.1 71.6h.9v.9h-.9zM638.1 69.1h.9v.9h-.9zM639.7 72.8h.9v.9h-.9zM632.2 82.2h.9v.9h-.9zM633.2 71.4h.9v.9h-.9zM637.6 72.3h.9v.9h-.9zM637.8 80.1h.9v.9h-.9zM637.6 70.9h.9v.9h-.9zM642.1 75.0h.9v.9h-.9zM641.0 71.5h.9v.9h-.9zM640.1 75.3h.9v.9h-.9zM639.9 74.8h.9v.9h-.9zM635.2 72.7h.9v.9h-.9zM632.8 71.1h.9v.9h-.9zM650.1 79.0h.9v.9h-.9zM637.4 79.5h.9v.9h-.9zM635.6 81.2h.9v.9h-.9zM636.6 76.8h.9v.9h-.9zM644.4 65.6h.9v.9h-.9zM638.7 83.3h.9v.9h-.9zM646.5 79.1h.9v.9h-.9zM638.2 76.6h.9v.9h-.9zM635.3 69.7h.9v.9h-.9zM628.8 76.9h.9v.9h-.9zM644.0 73.2h.9v.9h-.9zM638.3 82.5h.9v.9h-.9zM643.4 73.3h.9v.9h-.9zM625.6 64.8h.9v.9h-.9zM627.0 79.3h.9v.9h-.9zM637.4 68.1h.9v.9h-.9zM632.4 75.9h.9v.9h-.9zM638.1 71.6h.9v.9h-.9zM638.4 76.9h.9v.9h-.9zM636.0 73.6h.9v.9h-.9zM642.1 78.0h.9v.9h-.9zM634.5 75.4h.9v.9h-.9zM639.9 77.8h.9v.9h-.9zM637.0 73.4h.9v.9h-.9zM636.4 74.8h.9v.9h-.9zM639.8 74.0h.9v.9h-.9zM631.6 77.2h.9v.9h-.9zM652.6 73.9h.9v.9h-.9zM650.5 72.9h.9v.9h-.9zM651.6 70.3h.9v.9h-.9zM658.1 77.1h.9v.9h-.9zM657.8 72.4h.9v.9h-.9zM652.8 76.3h.9v.9h-.9zM665.2 76.8h.9v.9h-.9zM654.5 67.3h.9v.9h-.9zM652.0 70.4h.9v.9h-.9zM665.1 73.3h.9v.9h-.9zM646.1 71.5h.9v.9h-.9zM653.4 73.8h.9v.9h-.9zM649.0 62.0h.9v.9h-.9zM658.6 76.5h.9v.9h-.9zM661.3 73.5h.9v.9h-.9zM651.6 73.3h.9v.9h-.9zM659.9 69.4h.9v.9h-.9zM648.7 75.4h.9v.9h-.9zM658.0 70.9h.9v.9h-.9zM663.2 80.9h.9v.9h-.9zM653.3 65.2h.9v.9h-.9zM666.4 70.5h.9v.9h-.9zM653.1 70.4h.9v.9h-.9zM654.1 68.1h.9v.9h-.9zM652.6 68.3h.9v.9h-.9zM650.1 73.0h.9v.9h-.9zM655.1 67.7h.9v.9h-.9zM655.6 71.2h.9v.9h-.9zM661.1 74.9h.9v.9h-.9zM653.3 80.4h.9v.9h-.9zM649.1 74.6h.9v.9h-.9zM655.1 78.3h.9v.9h-.9zM652.8 67.9h.9v.9h-.9zM656.5 69.3h.9v.9h-.9zM652.2 72.2h.9v.9h-.9zM651.4 61.1h.9v.9h-.9zM657.2 67.3h.9v.9h-.9zM658.7 72.2h.9v.9h-.9zM657.7 74.2h.9v.9h-.9zM663.2 69.9h.9v.9h-.9zM653.7 71.5h.9v.9h-.9zM656.5 77.6h.9v.9h-.9zM656.9 65.4h.9v.9h-.9zM647.5 66.7h.9v.9h-.9zM653.8 72.1h.9v.9h-.9zM654.5 74.8h.9v.9h-.9zM661.9 66.8h.9v.9h-.9zM653.7 69.1h.9v.9h-.9zM656.9 69.6h.9v.9h-.9zM658.7 69.2h.9v.9h-.9zM643.7 93.9h.9v.9h-.9zM647.6 83.8h.9v.9h-.9zM645.2 89.0h.9v.9h-.9zM648.9 89.2h.9v.9h-.9zM651.6 88.0h.9v.9h-.9zM639.5 89.6h.9v.9h-.9zM651.1 83.8h.9v.9h-.9zM636.2 96.1h.9v.9h-.9zM651.0 89.4h.9v.9h-.9zM646.8 93.0h.9v.9h-.9zM644.0 89.7h.9v.9h-.9zM641.3 87.8h.9v.9h-.9zM647.7 87.8h.9v.9h-.9zM658.0 93.5h.9v.9h-.9zM647.5 84.5h.9v.9h-.9zM639.7 90.7h.9v.9h-.9zM640.9 89.1h.9v.9h-.9zM646.6 88.3h.9v.9h-.9zM643.5 89.1h.9v.9h-.9zM647.5 88.0h.9v.9h-.9zM646.9 96.5h.9v.9h-.9zM647.8 92.0h.9v.9h-.9zM648.2 90.8h.9v.9h-.9zM651.3 94.4h.9v.9h-.9zM645.5 93.5h.9v.9h-.9zM645.5 88.4h.9v.9h-.9zM644.1 88.8h.9v.9h-.9zM646.4 87.9h.9v.9h-.9zM646.7 86.5h.9v.9h-.9zM642.6 83.3h.9v.9h-.9zM642.1 91.3h.9v.9h-.9zM638.6 89.9h.9v.9h-.9zM646.0 90.2h.9v.9h-.9zM644.8 88.3h.9v.9h-.9zM645.5 92.2h.9v.9h-.9zM644.5 89.0h.9v.9h-.9zM643.6 88.0h.9v.9h-.9zM646.6 93.6h.9v.9h-.9zM640.5 86.4h.9v.9h-.9zM644.8 96.1h.9v.9h-.9zM630.4 90.5h.9v.9h-.9zM645.8 94.1h.9v.9h-.9zM644.4 81.2h.9v.9h-.9zM641.5 96.6h.9v.9h-.9zM644.4 92.4h.9v.9h-.9zM638.4 78.8h.9v.9h-.9zM645.2 88.6h.9v.9h-.9zM637.7 92.8h.9v.9h-.9zM645.7 82.2h.9v.9h-.9zM646.4 89.7h.9v.9h-.9zM627.3 101.2h.9v.9h-.9zM626.0 96.8h.9v.9h-.9zM629.8 101.8h.9v.9h-.9zM626.2 104.8h.9v.9h-.9zM628.0 101.5h.9v.9h-.9zM628.1 96.9h.9v.9h-.9zM626.6 97.7h.9v.9h-.9zM630.5 109.5h.9v.9h-.9zM629.0 101.9h.9v.9h-.9zM630.0 109.1h.9v.9h-.9zM624.1 104.4h.9v.9h-.9zM631.8 105.9h.9v.9h-.9zM626.5 104.5h.9v.9h-.9zM628.4 93.7h.9v.9h-.9zM629.6 101.7h.9v.9h-.9zM638.6 95.9h.9v.9h-.9zM630.8 97.2h.9v.9h-.9zM639.7 101.0h.9v.9h-.9zM634.7 99.6h.9v.9h-.9zM628.4 99.8h.9v.9h-.9zM631.7 105.9h.9v.9h-.9zM629.8 103.4h.9v.9h-.9zM639.6 101.8h.9v.9h-.9zM634.0 103.5h.9v.9h-.9zM634.3 103.8h.9v.9h-.9zM630.1 98.2h.9v.9h-.9zM629.2 101.4h.9v.9h-.9zM639.8 94.6h.9v.9h-.9zM627.7 100.2h.9v.9h-.9zM626.0 102.8h.9v.9h-.9zM632.5 101.8h.9v.9h-.9zM636.3 105.2h.9v.9h-.9zM633.4 98.3h.9v.9h-.9zM629.5 102.9h.9v.9h-.9zM623.9 101.6h.9v.9h-.9zM629.8 110.3h.9v.9h-.9zM633.9 100.6h.9v.9h-.9zM635.8 97.7h.9v.9h-.9zM626.6 103.8h.9v.9h-.9zM630.2 102.2h.9v.9h-.9zM627.4 99.2h.9v.9h-.9zM627.8 97.0h.9v.9h-.9zM624.4 101.7h.9v.9h-.9zM632.9 101.5h.9v.9h-.9zM624.4 99.4h.9v.9h-.9zM633.6 105.6h.9v.9h-.9zM628.1 111.7h.9v.9h-.9zM625.7 95.1h.9v.9h-.9zM632.7 94.3h.9v.9h-.9zM633.1 100.2h.9v.9h-.9zM662.8 94.6h.9v.9h-.9zM657.3 95.9h.9v.9h-.9zM665.5 98.9h.9v.9h-.9zM661.4 97.6h.9v.9h-.9zM658.5 92.7h.9v.9h-.9zM662.2 91.5h.9v.9h-.9zM657.2 90.8h.9v.9h-.9zM658.2 101.2h.9v.9h-.9zM660.3 96.9h.9v.9h-.9zM653.1 93.9h.9v.9h-.9zM655.3 90.9h.9v.9h-.9zM661.3 92.8h.9v.9h-.9zM665.5 89.8h.9v.9h-.9zM664.3 97.2h.9v.9h-.9zM657.2 89.2h.9v.9h-.9zM655.5 90.7h.9v.9h-.9zM658.9 92.1h.9v.9h-.9zM661.9 96.2h.9v.9h-.9zM652.9 91.9h.9v.9h-.9zM657.5 88.1h.9v.9h-.9zM654.9 102.1h.9v.9h-.9zM662.1 95.0h.9v.9h-.9zM649.9 93.4h.9v.9h-.9zM669.9 97.5h.9v.9h-.9zM657.5 92.7h.9v.9h-.9zM657.1 97.2h.9v.9h-.9zM659.9 89.0h.9v.9h-.9zM656.7 90.2h.9v.9h-.9zM653.3 93.3h.9v.9h-.9zM659.9 93.5h.9v.9h-.9zM660.6 93.0h.9v.9h-.9zM647.6 97.8h.9v.9h-.9zM656.0 87.8h.9v.9h-.9zM653.1 87.0h.9v.9h-.9zM659.3 92.1h.9v.9h-.9zM658.3 90.5h.9v.9h-.9zM659.5 89.7h.9v.9h-.9zM653.7 87.1h.9v.9h-.9zM663.0 87.0h.9v.9h-.9zM663.5 88.4h.9v.9h-.9zM657.5 88.9h.9v.9h-.9zM658.7 96.9h.9v.9h-.9zM659.0 94.4h.9v.9h-.9zM655.6 91.5h.9v.9h-.9zM658.9 90.5h.9v.9h-.9zM664.1 95.5h.9v.9h-.9zM659.9 91.8h.9v.9h-.9zM660.2 88.0h.9v.9h-.9zM654.0 86.0h.9v.9h-.9zM659.5 93.3h.9v.9h-.9z" fill="#50508a" opacity="0.6"/>
<rect x="492.8" y="3.9" width="182" height="115.7" fill="none" stroke="#222" stroke-width="0.8"/>
<line x1="490.3" y1="105.5" x2="492.8" y2="105.5" stroke="#222" stroke-width="0.7"/>
<text x="490.4" y="108.2" font-size="7.7" fill="#1a1a1a" text-anchor="end" font-weight="normal" >0</text>
<line x1="490.3" y1="85.3" x2="492.8" y2="85.3" stroke="#222" stroke-width="0.7"/>
<text x="490.4" y="88.0" font-size="7.7" fill="#1a1a1a" text-anchor="end" font-weight="normal" >30</text>
<line x1="490.3" y1="65.1" x2="492.8" y2="65.1" stroke="#222" stroke-width="0.7"/>
<text x="490.4" y="67.8" font-size="7.7" fill="#1a1a1a" text-anchor="end" font-weight="normal" >60</text>
<line x1="490.3" y1="44.9" x2="492.8" y2="44.9" stroke="#222" stroke-width="0.7"/>
<text x="490.4" y="47.6" font-size="7.7" fill="#1a1a1a" text-anchor="end" font-weight="normal" >90</text>
<line x1="490.3" y1="24.7" x2="492.8" y2="24.7" stroke="#222" stroke-width="0.7"/>
<text x="490.4" y="27.4" font-size="7.7" fill="#1a1a1a" text-anchor="end" font-weight="normal" >120</text>
<line x1="490.3" y1="4.5" x2="492.8" y2="4.5" stroke="#222" stroke-width="0.7"/>
<text x="490.4" y="7.2" font-size="7.7" fill="#1a1a1a" text-anchor="end" font-weight="normal" >150</text>
<line x1="491.3" y1="95.4" x2="492.8" y2="95.4" stroke="#222" stroke-width="0.6"/>
<line x1="491.3" y1="75.2" x2="492.8" y2="75.2" stroke="#222" stroke-width="0.6"/>
<line x1="491.3" y1="55.0" x2="492.8" y2="55.0" stroke="#222" stroke-width="0.6"/>
<line x1="491.3" y1="34.8" x2="492.8" y2="34.8" stroke="#222" stroke-width="0.6"/>
<line x1="491.3" y1="14.6" x2="492.8" y2="14.6" stroke="#222" stroke-width="0.6"/>
<line x1="511.7" y1="119.6" x2="511.7" y2="122" stroke="#222" stroke-width="0.7"/>
<text x="511.7" y="128.7" font-size="7.7" fill="#1a1a1a" text-anchor="middle" font-weight="normal" >0</text>
<line x1="548.0" y1="119.6" x2="548.0" y2="122" stroke="#222" stroke-width="0.7"/>
<text x="548.0" y="128.7" font-size="7.7" fill="#1a1a1a" text-anchor="middle" font-weight="normal" >100</text>
<line x1="584.4" y1="119.6" x2="584.4" y2="122" stroke="#222" stroke-width="0.7"/>
<text x="584.4" y="128.7" font-size="7.7" fill="#1a1a1a" text-anchor="middle" font-weight="normal" >200</text>
<line x1="620.7" y1="119.6" x2="620.7" y2="122" stroke="#222" stroke-width="0.7"/>
<text x="620.7" y="128.7" font-size="7.7" fill="#1a1a1a" text-anchor="middle" font-weight="normal" >300</text>
<line x1="657.0" y1="119.6" x2="657.0" y2="122" stroke="#222" stroke-width="0.7"/>
<text x="657.0" y="128.7" font-size="7.7" fill="#1a1a1a" text-anchor="middle" font-weight="normal" >400</text>
<line x1="493.5" y1="119.6" x2="493.5" y2="121" stroke="#222" stroke-width="0.6"/>
<line x1="529.9" y1="119.6" x2="529.9" y2="121" stroke="#222" stroke-width="0.6"/>
<line x1="566.2" y1="119.6" x2="566.2" y2="121" stroke="#222" stroke-width="0.6"/>
<line x1="602.5" y1="119.6" x2="602.5" y2="121" stroke="#222" stroke-width="0.6"/>
<line x1="638.9" y1="119.6" x2="638.9" y2="121" stroke="#222" stroke-width="0.6"/>
<text x="584.3" y="137.0" font-size="7.75" fill="#1a1a1a" text-anchor="middle" font-weight="normal" >Time (ps)</text>
<text transform="translate(475.8,61.5) rotate(-90)" font-size="8.7" fill="#1a1a1a" text-anchor="middle">Mean square displacement (Å<tspan font-size="5.8" dy="-3.2">2</tspan><tspan dy="3.2">)</tspan></text>
<circle cx="511.7" cy="105.5" r="1.1" fill="none" stroke="#3aa6ec" stroke-width="0.45"/>
<circle cx="513.5" cy="104.6" r="1.1" fill="none" stroke="#3aa6ec" stroke-width="0.45"/>
<circle cx="515.3" cy="103.8" r="1.1" fill="none" stroke="#3aa6ec" stroke-width="0.45"/>
<circle cx="517.1" cy="102.9" r="1.1" fill="none" stroke="#3aa6ec" stroke-width="0.45"/>
<circle cx="519.0" cy="102.1" r="1.1" fill="none" stroke="#3aa6ec" stroke-width="0.45"/>
<circle cx="520.8" cy="101.2" r="1.1" fill="none" stroke="#3aa6ec" stroke-width="0.45"/>
<circle cx="522.6" cy="100.3" r="1.1" fill="none" stroke="#3aa6ec" stroke-width="0.45"/>
<circle cx="524.4" cy="99.5" r="1.1" fill="none" stroke="#3aa6ec" stroke-width="0.45"/>
<circle cx="526.2" cy="98.6" r="1.1" fill="none" stroke="#3aa6ec" stroke-width="0.45"/>
<circle cx="528.0" cy="97.8" r="1.1" fill="none" stroke="#3aa6ec" stroke-width="0.45"/>
<circle cx="529.9" cy="96.9" r="1.1" fill="none" stroke="#3aa6ec" stroke-width="0.45"/>
<circle cx="531.7" cy="96.1" r="1.1" fill="none" stroke="#3aa6ec" stroke-width="0.45"/>
<circle cx="533.5" cy="95.2" r="1.1" fill="none" stroke="#3aa6ec" stroke-width="0.45"/>
<circle cx="535.3" cy="94.3" r="1.1" fill="none" stroke="#3aa6ec" stroke-width="0.45"/>
<circle cx="537.1" cy="93.5" r="1.1" fill="none" stroke="#3aa6ec" stroke-width="0.45"/>
<circle cx="538.9" cy="92.6" r="1.1" fill="none" stroke="#3aa6ec" stroke-width="0.45"/>
<circle cx="540.8" cy="91.8" r="1.1" fill="none" stroke="#3aa6ec" stroke-width="0.45"/>
<circle cx="542.6" cy="90.9" r="1.1" fill="none" stroke="#3aa6ec" stroke-width="0.45"/>
<circle cx="544.4" cy="90.0" r="1.1" fill="none" stroke="#3aa6ec" stroke-width="0.45"/>
<circle cx="546.2" cy="89.2" r="1.1" fill="none" stroke="#3aa6ec" stroke-width="0.45"/>
<circle cx="548.0" cy="88.3" r="1.1" fill="none" stroke="#3aa6ec" stroke-width="0.45"/>
<circle cx="549.8" cy="87.5" r="1.1" fill="none" stroke="#3aa6ec" stroke-width="0.45"/>
<circle cx="551.7" cy="86.6" r="1.1" fill="none" stroke="#3aa6ec" stroke-width="0.45"/>
<circle cx="553.5" cy="85.8" r="1.1" fill="none" stroke="#3aa6ec" stroke-width="0.45"/>
<circle cx="555.3" cy="84.9" r="1.1" fill="none" stroke="#3aa6ec" stroke-width="0.45"/>
<circle cx="557.1" cy="84.0" r="1.1" fill="none" stroke="#3aa6ec" stroke-width="0.45"/>
<circle cx="558.9" cy="83.2" r="1.1" fill="none" stroke="#3aa6ec" stroke-width="0.45"/>
<circle cx="560.7" cy="82.3" r="1.1" fill="none" stroke="#3aa6ec" stroke-width="0.45"/>
<circle cx="562.6" cy="81.5" r="1.1" fill="none" stroke="#3aa6ec" stroke-width="0.45"/>
<circle cx="564.4" cy="80.6" r="1.1" fill="none" stroke="#3aa6ec" stroke-width="0.45"/>
<circle cx="566.2" cy="79.7" r="1.1" fill="none" stroke="#3aa6ec" stroke-width="0.45"/>
<circle cx="568.0" cy="78.9" r="1.1" fill="none" stroke="#3aa6ec" stroke-width="0.45"/>
<circle cx="569.8" cy="78.0" r="1.1" fill="none" stroke="#3aa6ec" stroke-width="0.45"/>
<circle cx="571.6" cy="77.2" r="1.1" fill="none" stroke="#3aa6ec" stroke-width="0.45"/>
<circle cx="573.5" cy="76.3" r="1.1" fill="none" stroke="#3aa6ec" stroke-width="0.45"/>
<circle cx="575.3" cy="75.5" r="1.1" fill="none" stroke="#3aa6ec" stroke-width="0.45"/>
<circle cx="577.1" cy="74.6" r="1.1" fill="none" stroke="#3aa6ec" stroke-width="0.45"/>
<circle cx="578.9" cy="73.7" r="1.1" fill="none" stroke="#3aa6ec" stroke-width="0.45"/>
<circle cx="580.7" cy="72.9" r="1.1" fill="none" stroke="#3aa6ec" stroke-width="0.45"/>
<circle cx="582.5" cy="72.0" r="1.1" fill="none" stroke="#3aa6ec" stroke-width="0.45"/>
<circle cx="584.4" cy="71.2" r="1.1" fill="none" stroke="#3aa6ec" stroke-width="0.45"/>
<circle cx="586.2" cy="70.3" r="1.1" fill="none" stroke="#3aa6ec" stroke-width="0.45"/>
<circle cx="588.0" cy="69.4" r="1.1" fill="none" stroke="#3aa6ec" stroke-width="0.45"/>
<circle cx="589.8" cy="68.6" r="1.1" fill="none" stroke="#3aa6ec" stroke-width="0.45"/>
<circle cx="591.6" cy="67.7" r="1.1" fill="none" stroke="#3aa6ec" stroke-width="0.45"/>
<circle cx="593.4" cy="66.9" r="1.1" fill="none" stroke="#3aa6ec" stroke-width="0.45"/>
<circle cx="595.3" cy="66.0" r="1.1" fill="none" stroke="#3aa6ec" stroke-width="0.45"/>
<circle cx="597.1" cy="65.2" r="1.1" fill="none" stroke="#3aa6ec" stroke-width="0.45"/>
<circle cx="598.9" cy="64.3" r="1.1" fill="none" stroke="#3aa6ec" stroke-width="0.45"/>
<circle cx="600.7" cy="63.4" r="1.1" fill="none" stroke="#3aa6ec" stroke-width="0.45"/>
<circle cx="602.5" cy="62.6" r="1.1" fill="none" stroke="#3aa6ec" stroke-width="0.45"/>
<circle cx="604.3" cy="61.7" r="1.1" fill="none" stroke="#3aa6ec" stroke-width="0.45"/>
<circle cx="606.2" cy="60.9" r="1.1" fill="none" stroke="#3aa6ec" stroke-width="0.45"/>
<circle cx="608.0" cy="60.0" r="1.1" fill="none" stroke="#3aa6ec" stroke-width="0.45"/>
<circle cx="609.8" cy="59.1" r="1.1" fill="none" stroke="#3aa6ec" stroke-width="0.45"/>
<circle cx="611.6" cy="58.3" r="1.1" fill="none" stroke="#3aa6ec" stroke-width="0.45"/>
<circle cx="613.4" cy="57.4" r="1.1" fill="none" stroke="#3aa6ec" stroke-width="0.45"/>
<circle cx="615.2" cy="56.6" r="1.1" fill="none" stroke="#3aa6ec" stroke-width="0.45"/>
<circle cx="617.1" cy="55.7" r="1.1" fill="none" stroke="#3aa6ec" stroke-width="0.45"/>
<circle cx="618.9" cy="54.9" r="1.1" fill="none" stroke="#3aa6ec" stroke-width="0.45"/>
<circle cx="620.7" cy="54.0" r="1.1" fill="none" stroke="#3aa6ec" stroke-width="0.45"/>
<circle cx="622.5" cy="53.1" r="1.1" fill="none" stroke="#3aa6ec" stroke-width="0.45"/>
<circle cx="624.3" cy="52.3" r="1.1" fill="none" stroke="#3aa6ec" stroke-width="0.45"/>
<circle cx="626.1" cy="51.4" r="1.1" fill="none" stroke="#3aa6ec" stroke-width="0.45"/>
<circle cx="628.0" cy="50.6" r="1.1" fill="none" stroke="#3aa6ec" stroke-width="0.45"/>
<circle cx="629.8" cy="49.7" r="1.1" fill="none" stroke="#3aa6ec" stroke-width="0.45"/>
<circle cx="631.6" cy="48.8" r="1.1" fill="none" stroke="#3aa6ec" stroke-width="0.45"/>
<circle cx="633.4" cy="48.0" r="1.1" fill="none" stroke="#3aa6ec" stroke-width="0.45"/>
<circle cx="635.2" cy="47.1" r="1.1" fill="none" stroke="#3aa6ec" stroke-width="0.45"/>
<circle cx="637.0" cy="46.3" r="1.1" fill="none" stroke="#3aa6ec" stroke-width="0.45"/>
<circle cx="638.9" cy="45.4" r="1.1" fill="none" stroke="#3aa6ec" stroke-width="0.45"/>
<circle cx="640.7" cy="44.5" r="1.1" fill="none" stroke="#3aa6ec" stroke-width="0.45"/>
<circle cx="642.5" cy="43.7" r="1.1" fill="none" stroke="#3aa6ec" stroke-width="0.45"/>
<circle cx="644.3" cy="42.8" r="1.1" fill="none" stroke="#3aa6ec" stroke-width="0.45"/>
<circle cx="646.1" cy="42.0" r="1.1" fill="none" stroke="#3aa6ec" stroke-width="0.45"/>
<circle cx="647.9" cy="41.1" r="1.1" fill="none" stroke="#3aa6ec" stroke-width="0.45"/>
<circle cx="649.8" cy="40.3" r="1.1" fill="none" stroke="#3aa6ec" stroke-width="0.45"/>
<circle cx="651.6" cy="39.4" r="1.1" fill="none" stroke="#3aa6ec" stroke-width="0.45"/>
<circle cx="653.4" cy="38.5" r="1.1" fill="none" stroke="#3aa6ec" stroke-width="0.45"/>
<circle cx="655.2" cy="37.7" r="1.1" fill="none" stroke="#3aa6ec" stroke-width="0.45"/>
<circle cx="657.0" cy="36.8" r="1.1" fill="none" stroke="#3aa6ec" stroke-width="0.45"/>
<line x1="511.7" y1="105.5" x2="657.0" y2="34.1" stroke="#1e96e8" stroke-width="1.3"/>
<circle cx="511.7" cy="105.5" r="1.1" fill="none" stroke="#ee6a6a" stroke-width="0.45"/>
<circle cx="513.5" cy="104.4" r="1.1" fill="none" stroke="#ee6a6a" stroke-width="0.45"/>
<circle cx="515.3" cy="103.2" r="1.1" fill="none" stroke="#ee6a6a" stroke-width="0.45"/>
<circle cx="517.1" cy="102.1" r="1.1" fill="none" stroke="#ee6a6a" stroke-width="0.45"/>
<circle cx="519.0" cy="101.0" r="1.1" fill="none" stroke="#ee6a6a" stroke-width="0.45"/>
<circle cx="520.8" cy="99.8" r="1.1" fill="none" stroke="#ee6a6a" stroke-width="0.45"/>
<circle cx="522.6" cy="98.7" r="1.1" fill="none" stroke="#ee6a6a" stroke-width="0.45"/>
<circle cx="524.4" cy="97.6" r="1.1" fill="none" stroke="#ee6a6a" stroke-width="0.45"/>
<circle cx="526.2" cy="96.5" r="1.1" fill="none" stroke="#ee6a6a" stroke-width="0.45"/>
<circle cx="528.0" cy="95.3" r="1.1" fill="none" stroke="#ee6a6a" stroke-width="0.45"/>
<circle cx="529.9" cy="94.2" r="1.1" fill="none" stroke="#ee6a6a" stroke-width="0.45"/>
<circle cx="531.7" cy="93.1" r="1.1" fill="none" stroke="#ee6a6a" stroke-width="0.45"/>
<circle cx="533.5" cy="91.9" r="1.1" fill="none" stroke="#ee6a6a" stroke-width="0.45"/>
<circle cx="535.3" cy="90.8" r="1.1" fill="none" stroke="#ee6a6a" stroke-width="0.45"/>
<circle cx="537.1" cy="89.7" r="1.1" fill="none" stroke="#ee6a6a" stroke-width="0.45"/>
<circle cx="538.9" cy="88.5" r="1.1" fill="none" stroke="#ee6a6a" stroke-width="0.45"/>
<circle cx="540.8" cy="87.4" r="1.1" fill="none" stroke="#ee6a6a" stroke-width="0.45"/>
<circle cx="542.6" cy="86.3" r="1.1" fill="none" stroke="#ee6a6a" stroke-width="0.45"/>
<circle cx="544.4" cy="85.1" r="1.1" fill="none" stroke="#ee6a6a" stroke-width="0.45"/>
<circle cx="546.2" cy="84.0" r="1.1" fill="none" stroke="#ee6a6a" stroke-width="0.45"/>
<circle cx="548.0" cy="82.9" r="1.1" fill="none" stroke="#ee6a6a" stroke-width="0.45"/>
<circle cx="549.8" cy="81.7" r="1.1" fill="none" stroke="#ee6a6a" stroke-width="0.45"/>
<circle cx="551.7" cy="80.6" r="1.1" fill="none" stroke="#ee6a6a" stroke-width="0.45"/>
<circle cx="553.5" cy="79.5" r="1.1" fill="none" stroke="#ee6a6a" stroke-width="0.45"/>
<circle cx="555.3" cy="78.4" r="1.1" fill="none" stroke="#ee6a6a" stroke-width="0.45"/>
<circle cx="557.1" cy="77.2" r="1.1" fill="none" stroke="#ee6a6a" stroke-width="0.45"/>
<circle cx="558.9" cy="76.1" r="1.1" fill="none" stroke="#ee6a6a" stroke-width="0.45"/>
<circle cx="560.7" cy="75.0" r="1.1" fill="none" stroke="#ee6a6a" stroke-width="0.45"/>
<circle cx="562.6" cy="73.8" r="1.1" fill="none" stroke="#ee6a6a" stroke-width="0.45"/>
<circle cx="564.4" cy="72.7" r="1.1" fill="none" stroke="#ee6a6a" stroke-width="0.45"/>
<circle cx="566.2" cy="71.6" r="1.1" fill="none" stroke="#ee6a6a" stroke-width="0.45"/>
<circle cx="568.0" cy="70.4" r="1.1" fill="none" stroke="#ee6a6a" stroke-width="0.45"/>
<circle cx="569.8" cy="69.3" r="1.1" fill="none" stroke="#ee6a6a" stroke-width="0.45"/>
<circle cx="571.6" cy="68.2" r="1.1" fill="none" stroke="#ee6a6a" stroke-width="0.45"/>
<circle cx="573.5" cy="67.0" r="1.1" fill="none" stroke="#ee6a6a" stroke-width="0.45"/>
<circle cx="575.3" cy="65.9" r="1.1" fill="none" stroke="#ee6a6a" stroke-width="0.45"/>
<circle cx="577.1" cy="64.8" r="1.1" fill="none" stroke="#ee6a6a" stroke-width="0.45"/>
<circle cx="578.9" cy="63.6" r="1.1" fill="none" stroke="#ee6a6a" stroke-width="0.45"/>
<circle cx="580.7" cy="62.5" r="1.1" fill="none" stroke="#ee6a6a" stroke-width="0.45"/>
<circle cx="582.5" cy="61.4" r="1.1" fill="none" stroke="#ee6a6a" stroke-width="0.45"/>
<circle cx="584.4" cy="60.3" r="1.1" fill="none" stroke="#ee6a6a" stroke-width="0.45"/>
<circle cx="586.2" cy="59.1" r="1.1" fill="none" stroke="#ee6a6a" stroke-width="0.45"/>
<circle cx="588.0" cy="58.0" r="1.1" fill="none" stroke="#ee6a6a" stroke-width="0.45"/>
<circle cx="589.8" cy="56.9" r="1.1" fill="none" stroke="#ee6a6a" stroke-width="0.45"/>
<circle cx="591.6" cy="55.7" r="1.1" fill="none" stroke="#ee6a6a" stroke-width="0.45"/>
<circle cx="593.4" cy="54.6" r="1.1" fill="none" stroke="#ee6a6a" stroke-width="0.45"/>
<circle cx="595.3" cy="53.5" r="1.1" fill="none" stroke="#ee6a6a" stroke-width="0.45"/>
<circle cx="597.1" cy="52.3" r="1.1" fill="none" stroke="#ee6a6a" stroke-width="0.45"/>
<circle cx="598.9" cy="51.2" r="1.1" fill="none" stroke="#ee6a6a" stroke-width="0.45"/>
<circle cx="600.7" cy="50.1" r="1.1" fill="none" stroke="#ee6a6a" stroke-width="0.45"/>
<circle cx="602.5" cy="48.9" r="1.1" fill="none" stroke="#ee6a6a" stroke-width="0.45"/>
<circle cx="604.3" cy="47.8" r="1.1" fill="none" stroke="#ee6a6a" stroke-width="0.45"/>
<circle cx="606.2" cy="46.7" r="1.1" fill="none" stroke="#ee6a6a" stroke-width="0.45"/>
<circle cx="608.0" cy="45.5" r="1.1" fill="none" stroke="#ee6a6a" stroke-width="0.45"/>
<circle cx="609.8" cy="44.4" r="1.1" fill="none" stroke="#ee6a6a" stroke-width="0.45"/>
<circle cx="611.6" cy="43.3" r="1.1" fill="none" stroke="#ee6a6a" stroke-width="0.45"/>
<circle cx="613.4" cy="42.2" r="1.1" fill="none" stroke="#ee6a6a" stroke-width="0.45"/>
<circle cx="615.2" cy="41.0" r="1.1" fill="none" stroke="#ee6a6a" stroke-width="0.45"/>
<circle cx="617.1" cy="39.9" r="1.1" fill="none" stroke="#ee6a6a" stroke-width="0.45"/>
<circle cx="618.9" cy="38.8" r="1.1" fill="none" stroke="#ee6a6a" stroke-width="0.45"/>
<circle cx="620.7" cy="37.6" r="1.1" fill="none" stroke="#ee6a6a" stroke-width="0.45"/>
<circle cx="622.5" cy="36.5" r="1.1" fill="none" stroke="#ee6a6a" stroke-width="0.45"/>
<circle cx="624.3" cy="35.4" r="1.1" fill="none" stroke="#ee6a6a" stroke-width="0.45"/>
<circle cx="626.1" cy="34.2" r="1.1" fill="none" stroke="#ee6a6a" stroke-width="0.45"/>
<circle cx="628.0" cy="33.1" r="1.1" fill="none" stroke="#ee6a6a" stroke-width="0.45"/>
<circle cx="629.8" cy="32.0" r="1.1" fill="none" stroke="#ee6a6a" stroke-width="0.45"/>
<circle cx="631.6" cy="30.8" r="1.1" fill="none" stroke="#ee6a6a" stroke-width="0.45"/>
<circle cx="633.4" cy="29.7" r="1.1" fill="none" stroke="#ee6a6a" stroke-width="0.45"/>
<circle cx="635.2" cy="28.6" r="1.1" fill="none" stroke="#ee6a6a" stroke-width="0.45"/>
<circle cx="637.0" cy="27.5" r="1.1" fill="none" stroke="#ee6a6a" stroke-width="0.45"/>
<circle cx="638.9" cy="26.3" r="1.1" fill="none" stroke="#ee6a6a" stroke-width="0.45"/>
<circle cx="640.7" cy="25.2" r="1.1" fill="none" stroke="#ee6a6a" stroke-width="0.45"/>
<circle cx="642.5" cy="24.1" r="1.1" fill="none" stroke="#ee6a6a" stroke-width="0.45"/>
<circle cx="644.3" cy="22.9" r="1.1" fill="none" stroke="#ee6a6a" stroke-width="0.45"/>
<circle cx="646.1" cy="21.8" r="1.1" fill="none" stroke="#ee6a6a" stroke-width="0.45"/>
<circle cx="647.9" cy="20.7" r="1.1" fill="none" stroke="#ee6a6a" stroke-width="0.45"/>
<circle cx="649.8" cy="19.5" r="1.1" fill="none" stroke="#ee6a6a" stroke-width="0.45"/>
<circle cx="651.6" cy="18.4" r="1.1" fill="none" stroke="#ee6a6a" stroke-width="0.45"/>
<circle cx="653.4" cy="17.3" r="1.1" fill="none" stroke="#ee6a6a" stroke-width="0.45"/>
<circle cx="655.2" cy="16.1" r="1.1" fill="none" stroke="#ee6a6a" stroke-width="0.45"/>
<circle cx="657.0" cy="15.0" r="1.1" fill="none" stroke="#ee6a6a" stroke-width="0.45"/>
<line x1="511.7" y1="105.5" x2="657.0" y2="14.2" stroke="#e0282c" stroke-width="1.4"/>
<text transform="translate(565,62.3) rotate(-27.5)" font-size="9" fill="#d8232a">5.51×10<tspan font-size="6" dy="-3">-6</tspan><tspan dy="3"> cm</tspan><tspan font-size="6" dy="-3">2</tspan><tspan dy="3"> s</tspan><tspan font-size="6" dy="-3">-1</tspan></text>
<text transform="translate(537.2,107.6) rotate(-27.5)" font-size="9" fill="#1e96e8">4.36×10<tspan font-size="6" dy="-3">-6</tspan><tspan dy="3"> cm</tspan><tspan font-size="6" dy="-3">2</tspan><tspan dy="3"> s</tspan><tspan font-size="6" dy="-3">-1</tspan></text>
<text x="619.3" y="20" font-size="7.75" fill="#d8232a">PSA-Li<tspan font-size="5.2" dy="-2.5">+</tspan></text>
<text x="636.6" y="53" font-size="7.75" fill="#1e96e8">PAM-Li<tspan font-size="5.2" dy="-2.5">+</tspan></text>
<text x="268.0" y="140.3" font-size="11" fill="#1a1a1a" text-anchor="start" font-weight="bold" >e</text>
<text x="278.7" y="156.0" font-size="7.75" fill="#1a1a1a" text-anchor="start" font-weight="normal" >LiCl-PAM</text>
<text x="280.6" y="191.0" font-size="7.75" fill="#1a1a1a" text-anchor="start" font-weight="normal" >LiCl-PSA</text>
<text x="272.4" y="224.6" font-size="7.75" fill="#1a1a1a" text-anchor="start" font-weight="normal" >Li(TFSI)-PSA</text>
<path d="M304.20,159.70 L306.18,159.83 L308.14,160.21 L310.07,160.83 L311.96,161.68 L313.81,162.73 L315.62,163.96 L317.40,165.35 L319.15,166.90 L320.89,168.58 L322.60,170.38 L324.30,172.27 L325.99,174.24 L327.67,176.26 L329.34,178.32 L331.00,180.39 L332.65,182.45 L334.30,184.47 L335.93,186.44 L337.56,188.33 L339.17,190.13 L340.77,191.80 L342.35,193.33 L343.91,194.71 L345.44,195.91 L346.94,196.93 L348.41,197.76 L349.83,198.40 L351.21,198.85 L352.57,199.11 L353.90,199.20 L355.23,199.11 L356.59,198.85 L357.97,198.40 L359.39,197.76 L360.86,196.93 L362.36,195.91 L363.89,194.71 L365.45,193.33 L367.03,191.80 L368.63,190.13 L370.24,188.33 L371.87,186.44 L373.50,184.47 L375.15,182.45 L376.80,180.39 L378.46,178.32 L380.13,176.26 L381.81,174.24 L383.50,172.27 L385.20,170.38 L386.91,168.58 L388.65,166.90 L390.40,165.35 L392.18,163.96 L393.99,162.73 L395.84,161.68 L397.73,160.83 L399.66,160.21 L401.62,159.83 L403.60,159.70 L403.60,164.70 L402.27,164.79 L400.91,165.05 L399.53,165.50 L398.11,166.14 L396.64,166.97 L395.14,167.99 L393.61,169.19 L392.05,170.57 L390.47,172.10 L388.87,173.77 L387.26,175.57 L385.63,177.46 L384.00,179.43 L382.35,181.45 L380.70,183.51 L379.04,185.58 L377.37,187.64 L375.69,189.66 L374.00,191.63 L372.30,193.52 L370.59,195.32 L368.85,197.00 L367.10,198.55 L365.32,199.94 L363.51,201.17 L361.66,202.22 L359.77,203.07 L357.84,203.69 L355.88,204.07 L353.90,204.20 L351.92,204.07 L349.96,203.69 L348.03,203.07 L346.14,202.22 L344.29,201.17 L342.48,199.94 L340.70,198.55 L338.95,197.00 L337.21,195.32 L335.50,193.52 L333.80,191.63 L332.11,189.66 L330.43,187.64 L328.76,185.58 L327.10,183.51 L325.45,181.45 L323.80,179.43 L322.17,177.46 L320.54,175.57 L318.93,173.77 L317.33,172.10 L315.75,170.57 L314.19,169.19 L312.66,167.99 L311.16,166.97 L309.69,166.14 L308.27,165.50 L306.89,165.05 L305.53,164.79 L304.20,164.70 Z" fill="#80f080"/>
<linearGradient id="bg159_0" x1="304.2" x2="403.6" y1="0" y2="0" gradientUnits="userSpaceOnUse"><stop offset="0" stop-color="#80f080"/><stop offset="0.1" stop-color="#80f080"/><stop offset="0.5" stop-color="#80f080"/><stop offset="0.9" stop-color="#80f080"/><stop offset="1" stop-color="#80f080"/></linearGradient>
<path d="M304.20,159.70 L306.18,159.83 L308.14,160.21 L310.07,160.83 L311.96,161.68 L313.81,162.73 L315.62,163.96 L317.40,165.35 L319.15,166.90 L320.89,168.58 L322.60,170.38 L324.30,172.27 L325.99,174.24 L327.67,176.26 L329.34,178.32 L331.00,180.39 L332.65,182.45 L334.30,184.47 L335.93,186.44 L337.56,188.33 L339.17,190.13 L340.77,191.80 L342.35,193.33 L343.91,194.71 L345.44,195.91 L346.94,196.93 L348.41,197.76 L349.83,198.40 L351.21,198.85 L352.57,199.11 L353.90,199.20 L355.23,199.11 L356.59,198.85 L357.97,198.40 L359.39,197.76 L360.86,196.93 L362.36,195.91 L363.89,194.71 L365.45,193.33 L367.03,191.80 L368.63,190.13 L370.24,188.33 L371.87,186.44 L373.50,184.47 L375.15,182.45 L376.80,180.39 L378.46,178.32 L380.13,176.26 L381.81,174.24 L383.50,172.27 L385.20,170.38 L386.91,168.58 L388.65,166.90 L390.40,165.35 L392.18,163.96 L393.99,162.73 L395.84,161.68 L397.73,160.83 L399.66,160.21 L401.62,159.83 L403.60,159.70 L403.60,160.83 L401.77,160.95 L399.94,161.31 L398.14,161.89 L396.35,162.69 L394.59,163.69 L392.85,164.87 L391.13,166.22 L389.42,167.73 L387.72,169.38 L386.03,171.15 L384.35,173.02 L382.67,174.97 L381.01,176.98 L379.34,179.03 L377.68,181.10 L376.03,183.16 L374.38,185.19 L372.73,187.17 L371.10,189.08 L369.46,190.90 L367.84,192.60 L366.22,194.16 L364.62,195.58 L363.03,196.83 L361.46,197.89 L359.91,198.77 L358.38,199.46 L356.87,199.95 L355.38,200.24 L353.90,200.33 L352.42,200.24 L350.93,199.95 L349.42,199.46 L347.89,198.77 L346.34,197.89 L344.77,196.83 L343.18,195.58 L341.58,194.16 L339.96,192.60 L338.34,190.90 L336.70,189.08 L335.07,187.17 L333.42,185.19 L331.77,183.16 L330.12,181.10 L328.46,179.03 L326.79,176.98 L325.13,174.97 L323.45,173.02 L321.77,171.15 L320.08,169.38 L318.38,167.73 L316.67,166.22 L314.95,164.87 L313.21,163.69 L311.45,162.69 L309.66,161.89 L307.86,161.31 L306.03,160.95 L304.20,160.83 Z" fill="url(#bg159_0)"/>
<linearGradient id="bg159_1" x1="304.2" x2="403.6" y1="0" y2="0" gradientUnits="userSpaceOnUse"><stop offset="0" stop-color="#80f080"/><stop offset="0.1" stop-color="#80f080"/><stop offset="0.5" stop-color="#80f080"/><stop offset="0.9" stop-color="#80f080"/><stop offset="1" stop-color="#80f080"/></linearGradient>
<path d="M304.20,160.53 L306.07,160.66 L307.93,161.02 L309.77,161.61 L311.58,162.42 L313.37,163.43 L315.13,164.63 L316.87,165.99 L318.59,167.51 L320.29,169.17 L321.99,170.94 L323.68,172.82 L325.35,174.77 L327.03,176.79 L328.69,178.84 L330.35,180.91 L332.00,182.97 L333.65,185.00 L335.29,186.98 L336.93,188.88 L338.56,190.69 L340.17,192.39 L341.78,193.94 L343.37,195.35 L344.95,196.58 L346.50,197.64 L348.03,198.51 L349.53,199.18 L351.01,199.66 L352.46,199.94 L353.90,200.03 L355.34,199.94 L356.79,199.66 L358.27,199.18 L359.77,198.51 L361.30,197.64 L362.85,196.58 L364.43,195.35 L366.02,193.94 L367.63,192.39 L369.24,190.69 L370.87,188.88 L372.51,186.98 L374.15,185.00 L375.80,182.97 L377.45,180.91 L379.11,178.84 L380.77,176.79 L382.45,174.77 L384.12,172.82 L385.81,170.94 L387.51,169.17 L389.21,167.51 L390.93,165.99 L392.67,164.63 L394.43,163.43 L396.22,162.42 L398.03,161.61 L399.87,161.02 L401.73,160.66 L403.60,160.53 L403.60,161.67 L401.87,161.78 L400.15,162.12 L398.44,162.67 L396.73,163.43 L395.03,164.39 L393.34,165.54 L391.66,166.86 L389.98,168.34 L388.31,169.97 L386.64,171.71 L384.98,173.57 L383.31,175.50 L381.65,177.51 L379.99,179.55 L378.33,181.62 L376.68,183.68 L375.02,185.72 L373.37,187.71 L371.72,189.63 L370.08,191.46 L368.43,193.18 L366.79,194.77 L365.15,196.22 L363.52,197.50 L361.90,198.60 L360.29,199.52 L358.68,200.24 L357.08,200.75 L355.49,201.06 L353.90,201.17 L352.31,201.06 L350.72,200.75 L349.12,200.24 L347.51,199.52 L345.90,198.60 L344.28,197.50 L342.65,196.22 L341.01,194.77 L339.37,193.18 L337.72,191.46 L336.08,189.63 L334.43,187.71 L332.78,185.72 L331.12,183.68 L329.47,181.62 L327.81,179.55 L326.15,177.51 L324.49,175.50 L322.82,173.57 L321.16,171.71 L319.49,169.97 L317.82,168.34 L316.14,166.86 L314.46,165.54 L312.77,164.39 L311.07,163.43 L309.36,162.67 L307.65,162.12 L305.93,161.78 L304.20,161.67 Z" fill="url(#bg159_1)"/>
<linearGradient id="bg159_2" x1="304.2" x2="403.6" y1="0" y2="0" gradientUnits="userSpaceOnUse"><stop offset="0" stop-color="#80f080"/><stop offset="0.1" stop-color="#80f080"/><stop offset="0.5" stop-color="#80f080"/><stop offset="0.9" stop-color="#80f080"/><stop offset="1" stop-color="#80f080"/></linearGradient>
<path d="M304.20,161.37 L305.96,161.48 L307.72,161.82 L309.47,162.39 L311.20,163.16 L312.92,164.14 L314.63,165.30 L316.33,166.63 L318.02,168.12 L319.70,169.75 L321.38,171.51 L323.05,173.37 L324.72,175.31 L326.38,177.32 L328.04,179.36 L329.70,181.43 L331.36,183.49 L333.01,185.53 L334.66,187.52 L336.30,189.43 L337.95,191.26 L339.58,192.97 L341.21,194.55 L342.84,195.99 L344.45,197.26 L346.06,198.35 L347.65,199.25 L349.23,199.96 L350.80,200.46 L352.35,200.77 L353.90,200.87 L355.45,200.77 L357.00,200.46 L358.57,199.96 L360.15,199.25 L361.74,198.35 L363.35,197.26 L364.96,195.99 L366.59,194.55 L368.22,192.97 L369.85,191.26 L371.50,189.43 L373.14,187.52 L374.79,185.53 L376.44,183.49 L378.10,181.43 L379.76,179.36 L381.42,177.32 L383.08,175.31 L384.75,173.37 L386.42,171.51 L388.10,169.75 L389.78,168.12 L391.47,166.63 L393.17,165.30 L394.88,164.14 L396.60,163.16 L398.33,162.39 L400.08,161.82 L401.84,161.48 L403.60,161.37 L403.60,162.50 L401.98,162.61 L400.36,162.92 L398.74,163.45 L397.11,164.17 L395.48,165.10 L393.84,166.21 L392.20,167.50 L390.55,168.95 L388.90,170.55 L387.25,172.28 L385.60,174.11 L383.95,176.04 L382.30,178.03 L380.64,180.07 L378.98,182.14 L377.33,184.20 L375.67,186.25 L374.01,188.25 L372.35,190.18 L370.69,192.03 L369.02,193.77 L367.36,195.39 L365.69,196.86 L364.02,198.17 L362.34,199.31 L360.66,200.26 L358.98,201.01 L357.29,201.56 L355.60,201.89 L353.90,202.00 L352.20,201.89 L350.51,201.56 L348.82,201.01 L347.14,200.26 L345.46,199.31 L343.78,198.17 L342.11,196.86 L340.44,195.39 L338.78,193.77 L337.11,192.03 L335.45,190.18 L333.79,188.25 L332.13,186.25 L330.47,184.20 L328.82,182.14 L327.16,180.07 L325.50,178.03 L323.85,176.04 L322.20,174.11 L320.55,172.28 L318.90,170.55 L317.25,168.95 L315.60,167.50 L313.96,166.21 L312.32,165.10 L310.69,164.17 L309.06,163.45 L307.44,162.92 L305.82,162.61 L304.20,162.50 Z" fill="url(#bg159_2)"/>
<linearGradient id="bg159_3" x1="304.2" x2="403.6" y1="0" y2="0" gradientUnits="userSpaceOnUse"><stop offset="0" stop-color="#80f080"/><stop offset="0.1" stop-color="#80f080"/><stop offset="0.5" stop-color="#80f080"/><stop offset="0.9" stop-color="#80f080"/><stop offset="1" stop-color="#80f080"/></linearGradient>
<path d="M304.20,162.20 L305.86,162.31 L307.51,162.63 L309.17,163.17 L310.83,163.91 L312.48,164.85 L314.14,165.97 L315.80,167.27 L317.45,168.73 L319.11,170.34 L320.77,172.07 L322.42,173.92 L324.08,175.85 L325.74,177.84 L327.39,179.89 L329.05,181.95 L330.71,184.01 L332.36,186.06 L334.02,188.05 L335.68,189.98 L337.33,191.82 L338.99,193.56 L340.65,195.17 L342.30,196.63 L343.96,197.93 L345.62,199.05 L347.27,199.99 L348.93,200.73 L350.59,201.27 L352.24,201.59 L353.90,201.70 L355.56,201.59 L357.21,201.27 L358.87,200.73 L360.53,199.99 L362.18,199.05 L363.84,197.93 L365.50,196.63 L367.15,195.17 L368.81,193.56 L370.47,191.82 L372.12,189.98 L373.78,188.05 L375.44,186.06 L377.09,184.01 L378.75,181.95 L380.41,179.89 L382.06,177.84 L383.72,175.85 L385.38,173.92 L387.03,172.07 L388.69,170.34 L390.35,168.73 L392.00,167.27 L393.66,165.97 L395.32,164.85 L396.97,163.91 L398.63,163.17 L400.29,162.63 L401.94,162.31 L403.60,162.20 L403.60,163.33 L402.09,163.43 L400.57,163.73 L399.04,164.22 L397.49,164.92 L395.92,165.81 L394.33,166.89 L392.73,168.14 L391.12,169.57 L389.50,171.14 L387.87,172.84 L386.23,174.66 L384.59,176.58 L382.94,178.56 L381.29,180.60 L379.63,182.66 L377.98,184.73 L376.31,186.77 L374.65,188.78 L372.98,190.73 L371.30,192.59 L369.62,194.36 L367.92,196.00 L366.22,197.50 L364.51,198.84 L362.78,200.02 L361.04,201.00 L359.28,201.79 L357.50,202.37 L355.70,202.72 L353.90,202.83 L352.10,202.72 L350.30,202.37 L348.52,201.79 L346.76,201.00 L345.02,200.02 L343.29,198.84 L341.58,197.50 L339.88,196.00 L338.18,194.36 L336.50,192.59 L334.82,190.73 L333.15,188.78 L331.49,186.77 L329.82,184.73 L328.17,182.66 L326.51,180.60 L324.86,178.56 L323.21,176.58 L321.57,174.66 L319.93,172.84 L318.30,171.14 L316.68,169.57 L315.07,168.14 L313.47,166.89 L311.88,165.81 L310.31,164.92 L308.76,164.22 L307.23,163.73 L305.71,163.43 L304.20,163.33 Z" fill="url(#bg159_3)"/>
<linearGradient id="bg159_4" x1="304.2" x2="403.6" y1="0" y2="0" gradientUnits="userSpaceOnUse"><stop offset="0" stop-color="#80f080"/><stop offset="0.1" stop-color="#80f080"/><stop offset="0.5" stop-color="#80f080"/><stop offset="0.9" stop-color="#80f080"/><stop offset="1" stop-color="#80f080"/></linearGradient>
<path d="M304.20,163.03 L305.75,163.13 L307.30,163.44 L308.87,163.94 L310.45,164.65 L312.04,165.55 L313.65,166.64 L315.26,167.91 L316.89,169.35 L318.52,170.93 L320.15,172.64 L321.80,174.47 L323.44,176.38 L325.09,178.37 L326.74,180.41 L328.40,182.47 L330.06,184.54 L331.72,186.58 L333.38,188.59 L335.05,190.53 L336.72,192.39 L338.40,194.15 L340.08,195.78 L341.77,197.27 L343.47,198.60 L345.18,199.76 L346.90,200.74 L348.63,201.51 L350.38,202.08 L352.14,202.42 L353.90,202.53 L355.66,202.42 L357.42,202.08 L359.17,201.51 L360.90,200.74 L362.62,199.76 L364.33,198.60 L366.03,197.27 L367.72,195.78 L369.40,194.15 L371.08,192.39 L372.75,190.53 L374.42,188.59 L376.08,186.58 L377.74,184.54 L379.40,182.47 L381.06,180.41 L382.71,178.37 L384.36,176.38 L386.00,174.47 L387.65,172.64 L389.28,170.93 L390.91,169.35 L392.54,167.91 L394.15,166.64 L395.76,165.55 L397.35,164.65 L398.93,163.94 L400.50,163.44 L402.05,163.13 L403.60,163.03 L403.60,164.17 L402.20,164.26 L400.78,164.54 L399.34,165.00 L397.86,165.66 L396.36,166.51 L394.82,167.56 L393.26,168.78 L391.68,170.18 L390.09,171.72 L388.48,173.41 L386.86,175.21 L385.22,177.11 L383.58,179.09 L381.94,181.12 L380.28,183.18 L378.62,185.25 L376.96,187.30 L375.28,189.32 L373.60,191.28 L371.91,193.16 L370.21,194.94 L368.49,196.61 L366.76,198.14 L365.00,199.51 L363.22,200.72 L361.42,201.75 L359.58,202.57 L357.71,203.17 L355.81,203.54 L353.90,203.67 L351.99,203.54 L350.09,203.17 L348.22,202.57 L346.38,201.75 L344.58,200.72 L342.80,199.51 L341.04,198.14 L339.31,196.61 L337.59,194.94 L335.89,193.16 L334.20,191.28 L332.52,189.32 L330.84,187.30 L329.18,185.25 L327.52,183.18 L325.86,181.12 L324.22,179.09 L322.58,177.11 L320.94,175.21 L319.32,173.41 L317.71,171.72 L316.12,170.18 L314.54,168.78 L312.98,167.56 L311.44,166.51 L309.94,165.66 L308.46,165.00 L307.02,164.54 L305.60,164.26 L304.20,164.17 Z" fill="url(#bg159_4)"/>
<linearGradient id="bg159_5" x1="304.2" x2="403.6" y1="0" y2="0" gradientUnits="userSpaceOnUse"><stop offset="0" stop-color="#80f080"/><stop offset="0.1" stop-color="#80f080"/><stop offset="0.5" stop-color="#80f080"/><stop offset="0.9" stop-color="#80f080"/><stop offset="1" stop-color="#80f080"/></linearGradient>
<path d="M304.20,163.87 L305.64,163.96 L307.09,164.24 L308.57,164.72 L310.07,165.39 L311.60,166.26 L313.15,167.32 L314.73,168.55 L316.32,169.96 L317.93,171.51 L319.54,173.21 L321.17,175.02 L322.81,176.92 L324.45,178.90 L326.10,180.93 L327.75,182.99 L329.41,185.06 L331.07,187.11 L332.75,189.13 L334.42,191.08 L336.11,192.96 L337.81,194.73 L339.51,196.39 L341.23,197.91 L342.97,199.27 L344.73,200.47 L346.52,201.48 L348.33,202.29 L350.17,202.88 L352.03,203.24 L353.90,203.37 L355.77,203.24 L357.63,202.88 L359.47,202.29 L361.28,201.48 L363.07,200.47 L364.83,199.27 L366.57,197.91 L368.29,196.39 L369.99,194.73 L371.69,192.96 L373.38,191.08 L375.05,189.13 L376.73,187.11 L378.39,185.06 L380.05,182.99 L381.70,180.93 L383.35,178.90 L384.99,176.92 L386.63,175.02 L388.26,173.21 L389.87,171.51 L391.48,169.96 L393.07,168.55 L394.65,167.32 L396.20,166.26 L397.73,165.39 L399.23,164.72 L400.71,164.24 L402.16,163.96 L403.60,163.87 L403.60,164.70 L402.27,164.79 L400.91,165.05 L399.53,165.50 L398.11,166.14 L396.64,166.97 L395.14,167.99 L393.61,169.19 L392.05,170.57 L390.47,172.10 L388.87,173.77 L387.26,175.57 L385.63,177.46 L384.00,179.43 L382.35,181.45 L380.70,183.51 L379.04,185.58 L377.37,187.64 L375.69,189.66 L374.00,191.63 L372.30,193.52 L370.59,195.32 L368.85,197.00 L367.10,198.55 L365.32,199.94 L363.51,201.17 L361.66,202.22 L359.77,203.07 L357.84,203.69 L355.88,204.07 L353.90,204.20 L351.92,204.07 L349.96,203.69 L348.03,203.07 L346.14,202.22 L344.29,201.17 L342.48,199.94 L340.70,198.55 L338.95,197.00 L337.21,195.32 L335.50,193.52 L333.80,191.63 L332.11,189.66 L330.43,187.64 L328.76,185.58 L327.10,183.51 L325.45,181.45 L323.80,179.43 L322.17,177.46 L320.54,175.57 L318.93,173.77 L317.33,172.10 L315.75,170.57 L314.19,169.19 L312.66,167.99 L311.16,166.97 L309.69,166.14 L308.27,165.50 L306.89,165.05 L305.53,164.79 L304.20,164.70 Z" fill="url(#bg159_5)"/>
<path d="M304.20,195.30 L306.23,195.43 L308.24,195.82 L310.21,196.46 L312.14,197.32 L314.02,198.39 L315.86,199.63 L317.66,201.05 L319.43,202.61 L321.17,204.30 L322.90,206.11 L324.60,208.01 L326.30,209.98 L327.98,212.01 L329.65,214.07 L331.31,216.14 L332.97,218.20 L334.61,220.22 L336.24,222.18 L337.86,224.07 L339.46,225.86 L341.05,227.52 L342.62,229.04 L344.16,230.40 L345.68,231.59 L347.15,232.59 L348.59,233.41 L349.97,234.03 L351.32,234.46 L352.62,234.72 L353.90,234.80 L355.18,234.72 L356.48,234.46 L357.83,234.03 L359.21,233.41 L360.65,232.59 L362.12,231.59 L363.64,230.40 L365.18,229.04 L366.75,227.52 L368.34,225.86 L369.94,224.07 L371.56,222.18 L373.19,220.22 L374.83,218.20 L376.49,216.14 L378.15,214.07 L379.82,212.01 L381.50,209.98 L383.20,208.01 L384.90,206.11 L386.63,204.30 L388.37,202.61 L390.14,201.05 L391.94,199.63 L393.78,198.39 L395.66,197.32 L397.59,196.46 L399.56,195.82 L401.57,195.43 L403.60,195.30 L403.60,201.10 L402.32,201.18 L401.02,201.44 L399.67,201.87 L398.29,202.49 L396.85,203.31 L395.38,204.31 L393.86,205.50 L392.32,206.86 L390.75,208.38 L389.16,210.04 L387.56,211.83 L385.94,213.72 L384.31,215.68 L382.67,217.70 L381.01,219.76 L379.35,221.83 L377.68,223.89 L376.00,225.92 L374.30,227.89 L372.60,229.79 L370.87,231.60 L369.13,233.29 L367.36,234.85 L365.56,236.27 L363.72,237.51 L361.84,238.58 L359.91,239.44 L357.94,240.08 L355.93,240.47 L353.90,240.60 L351.87,240.47 L349.86,240.08 L347.89,239.44 L345.96,238.58 L344.08,237.51 L342.24,236.27 L340.44,234.85 L338.67,233.29 L336.93,231.60 L335.20,229.79 L333.50,227.89 L331.80,225.92 L330.12,223.89 L328.45,221.83 L326.79,219.76 L325.13,217.70 L323.49,215.68 L321.86,213.72 L320.24,211.83 L318.64,210.04 L317.05,208.38 L315.48,206.86 L313.94,205.50 L312.42,204.31 L310.95,203.31 L309.51,202.49 L308.13,201.87 L306.78,201.44 L305.48,201.18 L304.20,201.10 Z" fill="#80ee80"/>
<linearGradient id="bg195_0" x1="304.2" x2="403.6" y1="0" y2="0" gradientUnits="userSpaceOnUse"><stop offset="0" stop-color="#1e90ff"/><stop offset="0.1" stop-color="#a8f058"/><stop offset="0.5" stop-color="#c0f040"/><stop offset="0.9" stop-color="#a8f058"/><stop offset="1" stop-color="#1e90ff"/></linearGradient>
<path d="M304.20,195.30 L306.23,195.43 L308.24,195.82 L310.21,196.46 L312.14,197.32 L314.02,198.39 L315.86,199.63 L317.66,201.05 L319.43,202.61 L321.17,204.30 L322.90,206.11 L324.60,208.01 L326.30,209.98 L327.98,212.01 L329.65,214.07 L331.31,216.14 L332.97,218.20 L334.61,220.22 L336.24,222.18 L337.86,224.07 L339.46,225.86 L341.05,227.52 L342.62,229.04 L344.16,230.40 L345.68,231.59 L347.15,232.59 L348.59,233.41 L349.97,234.03 L351.32,234.46 L352.62,234.72 L353.90,234.80 L355.18,234.72 L356.48,234.46 L357.83,234.03 L359.21,233.41 L360.65,232.59 L362.12,231.59 L363.64,230.40 L365.18,229.04 L366.75,227.52 L368.34,225.86 L369.94,224.07 L371.56,222.18 L373.19,220.22 L374.83,218.20 L376.49,216.14 L378.15,214.07 L379.82,212.01 L381.50,209.98 L383.20,208.01 L384.90,206.11 L386.63,204.30 L388.37,202.61 L390.14,201.05 L391.94,199.63 L393.78,198.39 L395.66,197.32 L397.59,196.46 L399.56,195.82 L401.57,195.43 L403.60,195.30 L403.60,196.57 L401.73,196.69 L399.88,197.05 L398.04,197.64 L396.23,198.45 L394.45,199.46 L392.69,200.66 L390.96,202.02 L389.24,203.54 L387.53,205.19 L385.83,206.97 L384.15,208.84 L382.47,210.79 L380.80,212.81 L379.13,214.86 L377.48,216.93 L375.82,218.99 L374.17,221.02 L372.53,223.00 L370.90,224.91 L369.27,226.72 L367.65,228.41 L366.04,229.97 L364.45,231.37 L362.87,232.61 L361.32,233.67 L359.79,234.54 L358.28,235.21 L356.80,235.69 L355.35,235.97 L353.90,236.07 L352.45,235.97 L351.00,235.69 L349.52,235.21 L348.01,234.54 L346.48,233.67 L344.93,232.61 L343.35,231.37 L341.76,229.97 L340.15,228.41 L338.53,226.72 L336.90,224.91 L335.27,223.00 L333.63,221.02 L331.98,218.99 L330.32,216.93 L328.67,214.86 L327.00,212.81 L325.33,210.79 L323.65,208.84 L321.97,206.97 L320.27,205.19 L318.56,203.54 L316.84,202.02 L315.11,200.66 L313.35,199.46 L311.57,198.45 L309.76,197.64 L307.92,197.05 L306.07,196.69 L304.20,196.57 Z" fill="url(#bg195_0)"/>
<linearGradient id="bg195_1" x1="304.2" x2="403.6" y1="0" y2="0" gradientUnits="userSpaceOnUse"><stop offset="0" stop-color="#20d0f0"/><stop offset="0.1" stop-color="#98f068"/><stop offset="0.5" stop-color="#a8f058"/><stop offset="0.9" stop-color="#98f068"/><stop offset="1" stop-color="#20d0f0"/></linearGradient>
<path d="M304.20,196.27 L306.11,196.39 L308.00,196.76 L309.87,197.36 L311.70,198.18 L313.51,199.21 L315.28,200.41 L317.04,201.79 L318.77,203.32 L320.48,204.98 L322.19,206.76 L323.88,208.64 L325.56,210.60 L327.23,212.62 L328.90,214.67 L330.56,216.74 L332.21,218.80 L333.86,220.83 L335.50,222.81 L337.13,224.71 L338.75,226.51 L340.36,228.20 L341.96,229.75 L343.54,231.14 L345.10,232.37 L346.64,233.41 L348.15,234.27 L349.63,234.93 L351.07,235.40 L352.49,235.67 L353.90,235.77 L355.31,235.67 L356.73,235.40 L358.17,234.93 L359.65,234.27 L361.16,233.41 L362.70,232.37 L364.26,231.14 L365.84,229.75 L367.44,228.20 L369.05,226.51 L370.67,224.71 L372.30,222.81 L373.94,220.83 L375.59,218.80 L377.24,216.74 L378.90,214.67 L380.57,212.62 L382.24,210.60 L383.92,208.64 L385.61,206.76 L387.32,204.98 L389.03,203.32 L390.76,201.79 L392.52,200.41 L394.29,199.21 L396.10,198.18 L397.93,197.36 L399.80,196.76 L401.69,196.39 L403.60,196.27 L403.60,197.53 L401.86,197.65 L400.12,197.99 L398.39,198.54 L396.67,199.31 L394.96,200.28 L393.27,201.43 L391.58,202.76 L389.89,204.25 L388.22,205.87 L386.54,207.62 L384.88,209.48 L383.21,211.42 L381.55,213.42 L379.89,215.47 L378.23,217.53 L376.57,219.60 L374.92,221.63 L373.27,223.62 L371.62,225.54 L369.98,227.37 L368.34,229.09 L366.70,230.68 L365.07,232.12 L363.45,233.39 L361.83,234.49 L360.22,235.40 L358.63,236.11 L357.05,236.62 L355.47,236.93 L353.90,237.03 L352.33,236.93 L350.75,236.62 L349.17,236.11 L347.58,235.40 L345.97,234.49 L344.35,233.39 L342.73,232.12 L341.10,230.68 L339.46,229.09 L337.82,227.37 L336.18,225.54 L334.53,223.62 L332.88,221.63 L331.23,219.60 L329.57,217.53 L327.91,215.47 L326.25,213.42 L324.59,211.42 L322.92,209.48 L321.26,207.62 L319.58,205.87 L317.91,204.25 L316.22,202.76 L314.53,201.43 L312.84,200.28 L311.13,199.31 L309.41,198.54 L307.68,197.99 L305.94,197.65 L304.20,197.53 Z" fill="url(#bg195_1)"/>
<linearGradient id="bg195_2" x1="304.2" x2="403.6" y1="0" y2="0" gradientUnits="userSpaceOnUse"><stop offset="0" stop-color="#60f0a0"/><stop offset="0.1" stop-color="#80ee80"/><stop offset="0.5" stop-color="#84f080"/><stop offset="0.9" stop-color="#80ee80"/><stop offset="1" stop-color="#60f0a0"/></linearGradient>
<path d="M304.20,197.23 L305.98,197.35 L307.76,197.70 L309.52,198.26 L311.26,199.05 L313.00,200.03 L314.71,201.19 L316.42,202.53 L318.11,204.03 L319.80,205.66 L321.48,207.42 L323.15,209.28 L324.82,211.22 L326.48,213.23 L328.15,215.28 L329.80,217.35 L331.46,219.41 L333.11,221.44 L334.76,223.43 L336.40,225.35 L338.04,227.17 L339.68,228.88 L341.30,230.46 L342.92,231.89 L344.53,233.15 L346.13,234.23 L347.71,235.13 L349.28,235.83 L350.83,236.33 L352.37,236.63 L353.90,236.73 L355.43,236.63 L356.97,236.33 L358.52,235.83 L360.09,235.13 L361.67,234.23 L363.27,233.15 L364.88,231.89 L366.50,230.46 L368.12,228.88 L369.76,227.17 L371.40,225.35 L373.04,223.43 L374.69,221.44 L376.34,219.41 L378.00,217.35 L379.65,215.28 L381.32,213.23 L382.98,211.22 L384.65,209.28 L386.32,207.42 L388.00,205.66 L389.69,204.03 L391.38,202.53 L393.09,201.19 L394.80,200.03 L396.54,199.05 L398.28,198.26 L400.04,197.70 L401.82,197.35 L403.60,197.23 L403.60,198.50 L401.98,198.61 L400.36,198.92 L398.74,199.45 L397.11,200.17 L395.48,201.10 L393.84,202.21 L392.20,203.50 L390.55,204.95 L388.90,206.55 L387.25,208.28 L385.60,210.11 L383.95,212.04 L382.30,214.03 L380.64,216.07 L378.98,218.14 L377.33,220.20 L375.67,222.25 L374.01,224.25 L372.35,226.18 L370.69,228.03 L369.02,229.77 L367.36,231.39 L365.69,232.86 L364.02,234.17 L362.34,235.31 L360.66,236.26 L358.98,237.01 L357.29,237.56 L355.60,237.89 L353.90,238.00 L352.20,237.89 L350.51,237.56 L348.82,237.01 L347.14,236.26 L345.46,235.31 L343.78,234.17 L342.11,232.86 L340.44,231.39 L338.78,229.77 L337.11,228.03 L335.45,226.18 L333.79,224.25 L332.13,222.25 L330.47,220.20 L328.82,218.14 L327.16,216.07 L325.50,214.03 L323.85,212.04 L322.20,210.11 L320.55,208.28 L318.90,206.55 L317.25,204.95 L315.60,203.50 L313.96,202.21 L312.32,201.10 L310.69,200.17 L309.06,199.45 L307.44,198.92 L305.82,198.61 L304.20,198.50 Z" fill="url(#bg195_2)"/>
<linearGradient id="bg195_3" x1="304.2" x2="403.6" y1="0" y2="0" gradientUnits="userSpaceOnUse"><stop offset="0" stop-color="#b0f050"/><stop offset="0.1" stop-color="#68eca0"/><stop offset="0.5" stop-color="#50eab0"/><stop offset="0.9" stop-color="#68eca0"/><stop offset="1" stop-color="#b0f050"/></linearGradient>
<path d="M304.20,198.20 L305.86,198.31 L307.51,198.63 L309.17,199.17 L310.83,199.91 L312.48,200.85 L314.14,201.97 L315.80,203.27 L317.45,204.73 L319.11,206.34 L320.77,208.08 L322.42,209.92 L324.08,211.85 L325.74,213.84 L327.39,215.89 L329.05,217.95 L330.71,220.01 L332.36,222.06 L334.02,224.05 L335.68,225.98 L337.33,227.83 L338.99,229.56 L340.65,231.17 L342.30,232.63 L343.96,233.93 L345.62,235.05 L347.27,235.99 L348.93,236.73 L350.59,237.27 L352.24,237.59 L353.90,237.70 L355.56,237.59 L357.21,237.27 L358.87,236.73 L360.53,235.99 L362.18,235.05 L363.84,233.93 L365.50,232.63 L367.15,231.17 L368.81,229.56 L370.47,227.83 L372.12,225.98 L373.78,224.05 L375.44,222.06 L377.09,220.01 L378.75,217.95 L380.41,215.89 L382.06,213.84 L383.72,211.85 L385.38,209.92 L387.03,208.08 L388.69,206.34 L390.35,204.73 L392.00,203.27 L393.66,201.97 L395.32,200.85 L396.97,199.91 L398.63,199.17 L400.29,198.63 L401.94,198.31 L403.60,198.20 L403.60,199.47 L402.11,199.56 L400.60,199.86 L399.09,200.35 L397.55,201.04 L395.99,201.92 L394.41,202.99 L392.82,204.25 L391.21,205.66 L389.59,207.23 L387.96,208.94 L386.33,210.75 L384.69,212.66 L383.04,214.65 L381.39,216.68 L379.74,218.74 L378.08,220.81 L376.42,222.86 L374.75,224.87 L373.08,226.82 L371.40,228.69 L369.71,230.45 L368.01,232.09 L366.31,233.60 L364.59,234.95 L362.85,236.13 L361.10,237.12 L359.33,237.92 L357.53,238.49 L355.72,238.85 L353.90,238.97 L352.08,238.85 L350.27,238.49 L348.47,237.92 L346.70,237.12 L344.95,236.13 L343.21,234.95 L341.49,233.60 L339.79,232.09 L338.09,230.45 L336.40,228.69 L334.72,226.82 L333.05,224.87 L331.38,222.86 L329.72,220.81 L328.06,218.74 L326.41,216.68 L324.76,214.65 L323.11,212.66 L321.47,210.75 L319.84,208.94 L318.21,207.23 L316.59,205.66 L314.98,204.25 L313.39,202.99 L311.81,201.92 L310.25,201.04 L308.71,200.35 L307.20,199.86 L305.69,199.56 L304.20,199.47 Z" fill="url(#bg195_3)"/>
<linearGradient id="bg195_4" x1="304.2" x2="403.6" y1="0" y2="0" gradientUnits="userSpaceOnUse"><stop offset="0" stop-color="#f0e020"/><stop offset="0.1" stop-color="#48e6c0"/><stop offset="0.5" stop-color="#28e0dc"/><stop offset="0.9" stop-color="#48e6c0"/><stop offset="1" stop-color="#f0e020"/></linearGradient>
<path d="M304.20,199.17 L305.73,199.27 L307.27,199.57 L308.82,200.07 L310.39,200.77 L311.97,201.67 L313.57,202.75 L315.18,204.01 L316.80,205.44 L318.42,207.02 L320.06,208.73 L321.70,210.55 L323.34,212.47 L324.99,214.46 L326.64,216.49 L328.30,218.55 L329.95,220.62 L331.62,222.67 L333.28,224.68 L334.95,226.62 L336.62,228.48 L338.30,230.24 L339.99,231.87 L341.68,233.37 L343.39,234.71 L345.10,235.87 L346.84,236.85 L348.58,237.64 L350.34,238.20 L352.12,238.55 L353.90,238.67 L355.68,238.55 L357.46,238.20 L359.22,237.64 L360.96,236.85 L362.70,235.87 L364.41,234.71 L366.12,233.37 L367.81,231.87 L369.50,230.24 L371.18,228.48 L372.85,226.62 L374.52,224.68 L376.18,222.67 L377.85,220.62 L379.50,218.55 L381.16,216.49 L382.81,214.46 L384.46,212.47 L386.10,210.55 L387.74,208.73 L389.38,207.02 L391.00,205.44 L392.62,204.01 L394.23,202.75 L395.83,201.67 L397.41,200.77 L398.98,200.07 L400.53,199.57 L402.07,199.27 L403.60,199.17 L403.60,200.43 L402.23,200.52 L400.85,200.79 L399.43,201.25 L397.98,201.90 L396.50,202.74 L394.98,203.77 L393.44,204.99 L391.87,206.37 L390.28,207.91 L388.67,209.59 L387.06,211.39 L385.43,213.29 L383.79,215.26 L382.15,217.29 L380.49,219.35 L378.83,221.42 L377.16,223.47 L375.49,225.49 L373.80,227.46 L372.11,229.34 L370.40,231.13 L368.67,232.80 L366.93,234.34 L365.16,235.73 L363.37,236.95 L361.54,237.98 L359.67,238.82 L357.77,239.43 L355.85,239.81 L353.90,239.93 L351.95,239.81 L350.03,239.43 L348.13,238.82 L346.26,237.98 L344.43,236.95 L342.64,235.73 L340.87,234.34 L339.13,232.80 L337.40,231.13 L335.69,229.34 L334.00,227.46 L332.31,225.49 L330.64,223.47 L328.97,221.42 L327.31,219.35 L325.65,217.29 L324.01,215.26 L322.37,213.29 L320.74,211.39 L319.13,209.59 L317.52,207.91 L315.93,206.37 L314.36,204.99 L312.82,203.77 L311.30,202.74 L309.82,201.90 L308.37,201.25 L306.95,200.79 L305.57,200.52 L304.20,200.43 Z" fill="url(#bg195_4)"/>
<linearGradient id="bg195_5" x1="304.2" x2="403.6" y1="0" y2="0" gradientUnits="userSpaceOnUse"><stop offset="0" stop-color="#ffa020"/><stop offset="0.1" stop-color="#38e0d8"/><stop offset="0.5" stop-color="#18d0f4"/><stop offset="0.9" stop-color="#38e0d8"/><stop offset="1" stop-color="#ffa020"/></linearGradient>
<path d="M304.20,200.13 L305.61,200.23 L307.03,200.50 L308.47,200.97 L309.95,201.63 L311.46,202.49 L313.00,203.53 L314.56,204.76 L316.14,206.15 L317.74,207.70 L319.35,209.39 L320.97,211.19 L322.60,213.09 L324.24,215.07 L325.89,217.10 L327.54,219.16 L329.20,221.23 L330.87,223.28 L332.54,225.30 L334.22,227.26 L335.91,229.14 L337.62,230.92 L339.33,232.58 L341.06,234.11 L342.82,235.49 L344.59,236.69 L346.40,237.72 L348.23,238.54 L350.10,239.14 L351.99,239.51 L353.90,239.63 L355.81,239.51 L357.70,239.14 L359.57,238.54 L361.40,237.72 L363.21,236.69 L364.98,235.49 L366.74,234.11 L368.47,232.58 L370.18,230.92 L371.89,229.14 L373.58,227.26 L375.26,225.30 L376.93,223.28 L378.60,221.23 L380.26,219.16 L381.91,217.10 L383.56,215.07 L385.20,213.09 L386.83,211.19 L388.45,209.39 L390.06,207.70 L391.66,206.15 L393.24,204.76 L394.80,203.53 L396.34,202.49 L397.85,201.63 L399.33,200.97 L400.77,200.50 L402.19,200.23 L403.60,200.13 L403.60,201.10 L402.32,201.18 L401.02,201.44 L399.67,201.87 L398.29,202.49 L396.85,203.31 L395.38,204.31 L393.86,205.50 L392.32,206.86 L390.75,208.38 L389.16,210.04 L387.56,211.83 L385.94,213.72 L384.31,215.68 L382.67,217.70 L381.01,219.76 L379.35,221.83 L377.68,223.89 L376.00,225.92 L374.30,227.89 L372.60,229.79 L370.87,231.60 L369.13,233.29 L367.36,234.85 L365.56,236.27 L363.72,237.51 L361.84,238.58 L359.91,239.44 L357.94,240.08 L355.93,240.47 L353.90,240.60 L351.87,240.47 L349.86,240.08 L347.89,239.44 L345.96,238.58 L344.08,237.51 L342.24,236.27 L340.44,234.85 L338.67,233.29 L336.93,231.60 L335.20,229.79 L333.50,227.89 L331.80,225.92 L330.12,223.89 L328.45,221.83 L326.79,219.76 L325.13,217.70 L323.49,215.68 L321.86,213.72 L320.24,211.83 L318.64,210.04 L317.05,208.38 L315.48,206.86 L313.94,205.50 L312.42,204.31 L310.95,203.31 L309.51,202.49 L308.13,201.87 L306.78,201.44 L305.48,201.18 L304.20,201.10 Z" fill="url(#bg195_5)"/>
<path d="M304.20,228.90 L306.23,229.03 L308.24,229.42 L310.21,230.06 L312.14,230.92 L314.02,231.99 L315.86,233.23 L317.66,234.65 L319.43,236.21 L321.17,237.90 L322.90,239.71 L324.60,241.61 L326.30,243.58 L327.98,245.61 L329.65,247.67 L331.31,249.74 L332.97,251.80 L334.61,253.82 L336.24,255.78 L337.86,257.67 L339.46,259.46 L341.05,261.12 L342.62,262.64 L344.16,264.00 L345.68,265.19 L347.15,266.19 L348.59,267.01 L349.97,267.63 L351.32,268.06 L352.62,268.32 L353.90,268.40 L355.18,268.32 L356.48,268.06 L357.83,267.63 L359.21,267.01 L360.65,266.19 L362.12,265.19 L363.64,264.00 L365.18,262.64 L366.75,261.12 L368.34,259.46 L369.94,257.67 L371.56,255.78 L373.19,253.82 L374.83,251.80 L376.49,249.74 L378.15,247.67 L379.82,245.61 L381.50,243.58 L383.20,241.61 L384.90,239.71 L386.63,237.90 L388.37,236.21 L390.14,234.65 L391.94,233.23 L393.78,231.99 L395.66,230.92 L397.59,230.06 L399.56,229.42 L401.57,229.03 L403.60,228.90 L403.60,234.70 L402.32,234.78 L401.02,235.04 L399.67,235.47 L398.29,236.09 L396.85,236.91 L395.38,237.91 L393.86,239.10 L392.32,240.46 L390.75,241.98 L389.16,243.64 L387.56,245.43 L385.94,247.32 L384.31,249.28 L382.67,251.30 L381.01,253.36 L379.35,255.43 L377.68,257.49 L376.00,259.52 L374.30,261.49 L372.60,263.39 L370.87,265.20 L369.13,266.89 L367.36,268.45 L365.56,269.87 L363.72,271.11 L361.84,272.18 L359.91,273.04 L357.94,273.68 L355.93,274.07 L353.90,274.20 L351.87,274.07 L349.86,273.68 L347.89,273.04 L345.96,272.18 L344.08,271.11 L342.24,269.87 L340.44,268.45 L338.67,266.89 L336.93,265.20 L335.20,263.39 L333.50,261.49 L331.80,259.52 L330.12,257.49 L328.45,255.43 L326.79,253.36 L325.13,251.30 L323.49,249.28 L321.86,247.32 L320.24,245.43 L318.64,243.64 L317.05,241.98 L315.48,240.46 L313.94,239.10 L312.42,237.91 L310.95,236.91 L309.51,236.09 L308.13,235.47 L306.78,235.04 L305.48,234.78 L304.20,234.70 Z" fill="#90ee78"/>
<linearGradient id="bg228_0" x1="304.2" x2="403.6" y1="0" y2="0" gradientUnits="userSpaceOnUse"><stop offset="0" stop-color="#ff9a20"/><stop offset="0.1" stop-color="#48e8c8"/><stop offset="0.5" stop-color="#28e4e4"/><stop offset="0.9" stop-color="#48e8c8"/><stop offset="1" stop-color="#ff9a20"/></linearGradient>
<path d="M304.20,228.90 L306.23,229.03 L308.24,229.42 L310.21,230.06 L312.14,230.92 L314.02,231.99 L315.86,233.23 L317.66,234.65 L319.43,236.21 L321.17,237.90 L322.90,239.71 L324.60,241.61 L326.30,243.58 L327.98,245.61 L329.65,247.67 L331.31,249.74 L332.97,251.80 L334.61,253.82 L336.24,255.78 L337.86,257.67 L339.46,259.46 L341.05,261.12 L342.62,262.64 L344.16,264.00 L345.68,265.19 L347.15,266.19 L348.59,267.01 L349.97,267.63 L351.32,268.06 L352.62,268.32 L353.90,268.40 L355.18,268.32 L356.48,268.06 L357.83,267.63 L359.21,267.01 L360.65,266.19 L362.12,265.19 L363.64,264.00 L365.18,262.64 L366.75,261.12 L368.34,259.46 L369.94,257.67 L371.56,255.78 L373.19,253.82 L374.83,251.80 L376.49,249.74 L378.15,247.67 L379.82,245.61 L381.50,243.58 L383.20,241.61 L384.90,239.71 L386.63,237.90 L388.37,236.21 L390.14,234.65 L391.94,233.23 L393.78,231.99 L395.66,230.92 L397.59,230.06 L399.56,229.42 L401.57,229.03 L403.60,228.90 L403.60,230.17 L401.73,230.29 L399.88,230.65 L398.04,231.24 L396.23,232.05 L394.45,233.06 L392.69,234.26 L390.96,235.62 L389.24,237.14 L387.53,238.79 L385.83,240.57 L384.15,242.44 L382.47,244.39 L380.80,246.41 L379.13,248.46 L377.48,250.53 L375.82,252.59 L374.17,254.62 L372.53,256.60 L370.90,258.51 L369.27,260.32 L367.65,262.01 L366.04,263.57 L364.45,264.97 L362.87,266.21 L361.32,267.27 L359.79,268.14 L358.28,268.81 L356.80,269.29 L355.35,269.57 L353.90,269.67 L352.45,269.57 L351.00,269.29 L349.52,268.81 L348.01,268.14 L346.48,267.27 L344.93,266.21 L343.35,264.97 L341.76,263.57 L340.15,262.01 L338.53,260.32 L336.90,258.51 L335.27,256.60 L333.63,254.62 L331.98,252.59 L330.32,250.53 L328.67,248.46 L327.00,246.41 L325.33,244.39 L323.65,242.44 L321.97,240.57 L320.27,238.79 L318.56,237.14 L316.84,235.62 L315.11,234.26 L313.35,233.06 L311.57,232.05 L309.76,231.24 L307.92,230.65 L306.07,230.29 L304.20,230.17 Z" fill="url(#bg228_0)"/>
<linearGradient id="bg228_1" x1="304.2" x2="403.6" y1="0" y2="0" gradientUnits="userSpaceOnUse"><stop offset="0" stop-color="#f0e020"/><stop offset="0.1" stop-color="#68eca8"/><stop offset="0.5" stop-color="#50eab8"/><stop offset="0.9" stop-color="#68eca8"/><stop offset="1" stop-color="#f0e020"/></linearGradient>
<path d="M304.20,229.87 L306.11,229.99 L308.00,230.36 L309.87,230.96 L311.70,231.78 L313.51,232.81 L315.28,234.01 L317.04,235.39 L318.77,236.92 L320.48,238.58 L322.19,240.36 L323.88,242.24 L325.56,244.20 L327.23,246.22 L328.90,248.27 L330.56,250.34 L332.21,252.40 L333.86,254.43 L335.50,256.41 L337.13,258.31 L338.75,260.11 L340.36,261.80 L341.96,263.35 L343.54,264.74 L345.10,265.97 L346.64,267.01 L348.15,267.87 L349.63,268.53 L351.07,269.00 L352.49,269.27 L353.90,269.37 L355.31,269.27 L356.73,269.00 L358.17,268.53 L359.65,267.87 L361.16,267.01 L362.70,265.97 L364.26,264.74 L365.84,263.35 L367.44,261.80 L369.05,260.11 L370.67,258.31 L372.30,256.41 L373.94,254.43 L375.59,252.40 L377.24,250.34 L378.90,248.27 L380.57,246.22 L382.24,244.20 L383.92,242.24 L385.61,240.36 L387.32,238.58 L389.03,236.92 L390.76,235.39 L392.52,234.01 L394.29,232.81 L396.10,231.78 L397.93,230.96 L399.80,230.36 L401.69,229.99 L403.60,229.87 L403.60,231.13 L401.86,231.25 L400.12,231.59 L398.39,232.14 L396.67,232.91 L394.96,233.88 L393.27,235.03 L391.58,236.36 L389.89,237.85 L388.22,239.47 L386.54,241.22 L384.88,243.08 L383.21,245.02 L381.55,247.02 L379.89,249.07 L378.23,251.13 L376.57,253.20 L374.92,255.23 L373.27,257.22 L371.62,259.14 L369.98,260.97 L368.34,262.69 L366.70,264.28 L365.07,265.72 L363.45,266.99 L361.83,268.09 L360.22,269.00 L358.63,269.71 L357.05,270.22 L355.47,270.53 L353.90,270.63 L352.33,270.53 L350.75,270.22 L349.17,269.71 L347.58,269.00 L345.97,268.09 L344.35,266.99 L342.73,265.72 L341.10,264.28 L339.46,262.69 L337.82,260.97 L336.18,259.14 L334.53,257.22 L332.88,255.23 L331.23,253.20 L329.57,251.13 L327.91,249.07 L326.25,247.02 L324.59,245.02 L322.92,243.08 L321.26,241.22 L319.58,239.47 L317.91,237.85 L316.22,236.36 L314.53,235.03 L312.84,233.88 L311.13,232.91 L309.41,232.14 L307.68,231.59 L305.94,231.25 L304.20,231.13 Z" fill="url(#bg228_1)"/>
<linearGradient id="bg228_2" x1="304.2" x2="403.6" y1="0" y2="0" gradientUnits="userSpaceOnUse"><stop offset="0" stop-color="#a8f050"/><stop offset="0.1" stop-color="#88f080"/><stop offset="0.5" stop-color="#84f080"/><stop offset="0.9" stop-color="#88f080"/><stop offset="1" stop-color="#a8f050"/></linearGradient>
<path d="M304.20,230.83 L305.98,230.95 L307.76,231.30 L309.52,231.86 L311.26,232.65 L313.00,233.63 L314.71,234.79 L316.42,236.13 L318.11,237.63 L319.80,239.26 L321.48,241.02 L323.15,242.88 L324.82,244.82 L326.48,246.83 L328.15,248.88 L329.80,250.95 L331.46,253.01 L333.11,255.04 L334.76,257.03 L336.40,258.95 L338.04,260.77 L339.68,262.48 L341.30,264.06 L342.92,265.49 L344.53,266.75 L346.13,267.83 L347.71,268.73 L349.28,269.43 L350.83,269.93 L352.37,270.23 L353.90,270.33 L355.43,270.23 L356.97,269.93 L358.52,269.43 L360.09,268.73 L361.67,267.83 L363.27,266.75 L364.88,265.49 L366.50,264.06 L368.12,262.48 L369.76,260.77 L371.40,258.95 L373.04,257.03 L374.69,255.04 L376.34,253.01 L378.00,250.95 L379.65,248.88 L381.32,246.83 L382.98,244.82 L384.65,242.88 L386.32,241.02 L388.00,239.26 L389.69,237.63 L391.38,236.13 L393.09,234.79 L394.80,233.63 L396.54,232.65 L398.28,231.86 L400.04,231.30 L401.82,230.95 L403.60,230.83 L403.60,232.10 L401.98,232.21 L400.36,232.52 L398.74,233.05 L397.11,233.77 L395.48,234.70 L393.84,235.81 L392.20,237.10 L390.55,238.55 L388.90,240.15 L387.25,241.88 L385.60,243.71 L383.95,245.64 L382.30,247.63 L380.64,249.67 L378.98,251.74 L377.33,253.80 L375.67,255.85 L374.01,257.85 L372.35,259.78 L370.69,261.63 L369.02,263.37 L367.36,264.99 L365.69,266.46 L364.02,267.77 L362.34,268.91 L360.66,269.86 L358.98,270.61 L357.29,271.16 L355.60,271.49 L353.90,271.60 L352.20,271.49 L350.51,271.16 L348.82,270.61 L347.14,269.86 L345.46,268.91 L343.78,267.77 L342.11,266.46 L340.44,264.99 L338.78,263.37 L337.11,261.63 L335.45,259.78 L333.79,257.85 L332.13,255.85 L330.47,253.80 L328.82,251.74 L327.16,249.67 L325.50,247.63 L323.85,245.64 L322.20,243.71 L320.55,241.88 L318.90,240.15 L317.25,238.55 L315.60,237.10 L313.96,235.81 L312.32,234.70 L310.69,233.77 L309.06,233.05 L307.44,232.52 L305.82,232.21 L304.20,232.10 Z" fill="url(#bg228_2)"/>
<linearGradient id="bg228_3" x1="304.2" x2="403.6" y1="0" y2="0" gradientUnits="userSpaceOnUse"><stop offset="0" stop-color="#60e8a0"/><stop offset="0.1" stop-color="#a0f060"/><stop offset="0.5" stop-color="#b0f058"/><stop offset="0.9" stop-color="#a0f060"/><stop offset="1" stop-color="#60e8a0"/></linearGradient>
<path d="M304.20,231.80 L305.86,231.91 L307.51,232.23 L309.17,232.77 L310.83,233.51 L312.48,234.45 L314.14,235.57 L315.80,236.87 L317.45,238.33 L319.11,239.94 L320.77,241.68 L322.42,243.52 L324.08,245.45 L325.74,247.44 L327.39,249.49 L329.05,251.55 L330.71,253.61 L332.36,255.66 L334.02,257.65 L335.68,259.58 L337.33,261.43 L338.99,263.16 L340.65,264.77 L342.30,266.23 L343.96,267.53 L345.62,268.65 L347.27,269.59 L348.93,270.33 L350.59,270.87 L352.24,271.19 L353.90,271.30 L355.56,271.19 L357.21,270.87 L358.87,270.33 L360.53,269.59 L362.18,268.65 L363.84,267.53 L365.50,266.23 L367.15,264.77 L368.81,263.16 L370.47,261.43 L372.12,259.58 L373.78,257.65 L375.44,255.66 L377.09,253.61 L378.75,251.55 L380.41,249.49 L382.06,247.44 L383.72,245.45 L385.38,243.52 L387.03,241.68 L388.69,239.94 L390.35,238.33 L392.00,236.87 L393.66,235.57 L395.32,234.45 L396.97,233.51 L398.63,232.77 L400.29,232.23 L401.94,231.91 L403.60,231.80 L403.60,233.07 L402.11,233.16 L400.60,233.46 L399.09,233.95 L397.55,234.64 L395.99,235.52 L394.41,236.59 L392.82,237.85 L391.21,239.26 L389.59,240.83 L387.96,242.54 L386.33,244.35 L384.69,246.26 L383.04,248.25 L381.39,250.28 L379.74,252.34 L378.08,254.41 L376.42,256.46 L374.75,258.47 L373.08,260.42 L371.40,262.29 L369.71,264.05 L368.01,265.69 L366.31,267.20 L364.59,268.55 L362.85,269.73 L361.10,270.72 L359.33,271.52 L357.53,272.09 L355.72,272.45 L353.90,272.57 L352.08,272.45 L350.27,272.09 L348.47,271.52 L346.70,270.72 L344.95,269.73 L343.21,268.55 L341.49,267.20 L339.79,265.69 L338.09,264.05 L336.40,262.29 L334.72,260.42 L333.05,258.47 L331.38,256.46 L329.72,254.41 L328.06,252.34 L326.41,250.28 L324.76,248.25 L323.11,246.26 L321.47,244.35 L319.84,242.54 L318.21,240.83 L316.59,239.26 L314.98,237.85 L313.39,236.59 L311.81,235.52 L310.25,234.64 L308.71,233.95 L307.20,233.46 L305.69,233.16 L304.20,233.07 Z" fill="url(#bg228_3)"/>
<linearGradient id="bg228_4" x1="304.2" x2="403.6" y1="0" y2="0" gradientUnits="userSpaceOnUse"><stop offset="0" stop-color="#30d0f0"/><stop offset="0.1" stop-color="#c0f048"/><stop offset="0.5" stop-color="#d8f040"/><stop offset="0.9" stop-color="#c0f048"/><stop offset="1" stop-color="#30d0f0"/></linearGradient>
<path d="M304.20,232.77 L305.73,232.87 L307.27,233.17 L308.82,233.67 L310.39,234.37 L311.97,235.27 L313.57,236.35 L315.18,237.61 L316.80,239.04 L318.42,240.62 L320.06,242.33 L321.70,244.15 L323.34,246.07 L324.99,248.06 L326.64,250.09 L328.30,252.15 L329.95,254.22 L331.62,256.27 L333.28,258.28 L334.95,260.22 L336.62,262.08 L338.30,263.84 L339.99,265.47 L341.68,266.97 L343.39,268.31 L345.10,269.47 L346.84,270.45 L348.58,271.24 L350.34,271.80 L352.12,272.15 L353.90,272.27 L355.68,272.15 L357.46,271.80 L359.22,271.24 L360.96,270.45 L362.70,269.47 L364.41,268.31 L366.12,266.97 L367.81,265.47 L369.50,263.84 L371.18,262.08 L372.85,260.22 L374.52,258.28 L376.18,256.27 L377.85,254.22 L379.50,252.15 L381.16,250.09 L382.81,248.06 L384.46,246.07 L386.10,244.15 L387.74,242.33 L389.38,240.62 L391.00,239.04 L392.62,237.61 L394.23,236.35 L395.83,235.27 L397.41,234.37 L398.98,233.67 L400.53,233.17 L402.07,232.87 L403.60,232.77 L403.60,234.03 L402.23,234.12 L400.85,234.39 L399.43,234.85 L397.98,235.50 L396.50,236.34 L394.98,237.37 L393.44,238.59 L391.87,239.97 L390.28,241.51 L388.67,243.19 L387.06,244.99 L385.43,246.89 L383.79,248.86 L382.15,250.89 L380.49,252.95 L378.83,255.02 L377.16,257.07 L375.49,259.09 L373.80,261.06 L372.11,262.94 L370.40,264.73 L368.67,266.40 L366.93,267.94 L365.16,269.33 L363.37,270.55 L361.54,271.58 L359.67,272.42 L357.77,273.03 L355.85,273.41 L353.90,273.53 L351.95,273.41 L350.03,273.03 L348.13,272.42 L346.26,271.58 L344.43,270.55 L342.64,269.33 L340.87,267.94 L339.13,266.40 L337.40,264.73 L335.69,262.94 L334.00,261.06 L332.31,259.09 L330.64,257.07 L328.97,255.02 L327.31,252.95 L325.65,250.89 L324.01,248.86 L322.37,246.89 L320.74,244.99 L319.13,243.19 L317.52,241.51 L315.93,239.97 L314.36,238.59 L312.82,237.37 L311.30,236.34 L309.82,235.50 L308.37,234.85 L306.95,234.39 L305.57,234.12 L304.20,234.03 Z" fill="url(#bg228_4)"/>
<linearGradient id="bg228_5" x1="304.2" x2="403.6" y1="0" y2="0" gradientUnits="userSpaceOnUse"><stop offset="0" stop-color="#1890ff"/><stop offset="0.1" stop-color="#d8f038"/><stop offset="0.5" stop-color="#f4f020"/><stop offset="0.9" stop-color="#d8f038"/><stop offset="1" stop-color="#1890ff"/></linearGradient>
<path d="M304.20,233.73 L305.61,233.83 L307.03,234.10 L308.47,234.57 L309.95,235.23 L311.46,236.09 L313.00,237.13 L314.56,238.36 L316.14,239.75 L317.74,241.30 L319.35,242.99 L320.97,244.79 L322.60,246.69 L324.24,248.67 L325.89,250.70 L327.54,252.76 L329.20,254.83 L330.87,256.88 L332.54,258.90 L334.22,260.86 L335.91,262.74 L337.62,264.52 L339.33,266.18 L341.06,267.71 L342.82,269.09 L344.59,270.29 L346.40,271.32 L348.23,272.14 L350.10,272.74 L351.99,273.11 L353.90,273.23 L355.81,273.11 L357.70,272.74 L359.57,272.14 L361.40,271.32 L363.21,270.29 L364.98,269.09 L366.74,267.71 L368.47,266.18 L370.18,264.52 L371.89,262.74 L373.58,260.86 L375.26,258.90 L376.93,256.88 L378.60,254.83 L380.26,252.76 L381.91,250.70 L383.56,248.67 L385.20,246.69 L386.83,244.79 L388.45,242.99 L390.06,241.30 L391.66,239.75 L393.24,238.36 L394.80,237.13 L396.34,236.09 L397.85,235.23 L399.33,234.57 L400.77,234.10 L402.19,233.83 L403.60,233.73 L403.60,234.70 L402.32,234.78 L401.02,235.04 L399.67,235.47 L398.29,236.09 L396.85,236.91 L395.38,237.91 L393.86,239.10 L392.32,240.46 L390.75,241.98 L389.16,243.64 L387.56,245.43 L385.94,247.32 L384.31,249.28 L382.67,251.30 L381.01,253.36 L379.35,255.43 L377.68,257.49 L376.00,259.52 L374.30,261.49 L372.60,263.39 L370.87,265.20 L369.13,266.89 L367.36,268.45 L365.56,269.87 L363.72,271.11 L361.84,272.18 L359.91,273.04 L357.94,273.68 L355.93,274.07 L353.90,274.20 L351.87,274.07 L349.86,273.68 L347.89,273.04 L345.96,272.18 L344.08,271.11 L342.24,269.87 L340.44,268.45 L338.67,266.89 L336.93,265.20 L335.20,263.39 L333.50,261.49 L331.80,259.52 L330.12,257.49 L328.45,255.43 L326.79,253.36 L325.13,251.30 L323.49,249.28 L321.86,247.32 L320.24,245.43 L318.64,243.64 L317.05,241.98 L315.48,240.46 L313.94,239.10 L312.42,237.91 L310.95,236.91 L309.51,236.09 L308.13,235.47 L306.78,235.04 L305.48,234.78 L304.20,234.70 Z" fill="url(#bg228_5)"/>
<text x="320.2" y="195.7" font-size="7.75" fill="#1a1a1a">V<tspan font-size="5.4" dy="2">AB</tspan></text>
<line x1="353.7" y1="195.8" x2="353.7" y2="211" stroke="#111" stroke-width="0.7" stroke-dasharray="1.6,0.8"/>
<text x="355.5" y="199.5" font-size="6.5" fill="#1a1a1a" text-anchor="start" font-weight="normal" >B</text>
<text x="355.5" y="212.5" font-size="6.5" fill="#1a1a1a" text-anchor="start" font-weight="normal" >A</text>
<text x="353.5" y="182.1" font-size="7.75" fill="#1a1a1a" text-anchor="middle" font-weight="normal" >-2 mV</text>
<text x="352.6" y="222.9" font-size="7.75" fill="#1a1a1a" text-anchor="middle" font-weight="normal" >-10.1 mV</text>
<text x="353.0" y="257.8" font-size="7.75" fill="#1a1a1a" text-anchor="middle" font-weight="normal" >19.4 mV</text>
<text x="421.3" y="175.3" font-size="7.75" fill="#1a1a1a" text-anchor="middle" font-weight="normal" >Electrical</text>
<text x="421.3" y="185.5" font-size="7.75" fill="#1a1a1a" text-anchor="middle" font-weight="normal" >potential</text>
<text x="421.3" y="195.0" font-size="7.75" fill="#1a1a1a" text-anchor="middle" font-weight="normal" >(mV)</text>
<rect x="414" y="199.5" width="6" height="69.5" fill="url(#jet)"/>
<line x1="419" y1="203.3" x2="420" y2="203.3" stroke="#333" stroke-width="0.4"/>
<text x="423.0" y="205.1" font-size="5" fill="#1a1a1a" text-anchor="start" font-weight="normal" >30</text>
<line x1="419" y1="213.8" x2="420" y2="213.8" stroke="#333" stroke-width="0.4"/>
<text x="423.0" y="215.6" font-size="5" fill="#1a1a1a" text-anchor="start" font-weight="normal" >20</text>
<line x1="419" y1="224.2" x2="420" y2="224.2" stroke="#333" stroke-width="0.4"/>
<text x="423.0" y="226.0" font-size="5" fill="#1a1a1a" text-anchor="start" font-weight="normal" >10</text>
<line x1="419" y1="234.7" x2="420" y2="234.7" stroke="#333" stroke-width="0.4"/>
<text x="423.0" y="236.5" font-size="5" fill="#1a1a1a" text-anchor="start" font-weight="normal" >0</text>
<line x1="419" y1="245.1" x2="420" y2="245.1" stroke="#333" stroke-width="0.4"/>
<text x="423.0" y="246.9" font-size="5" fill="#1a1a1a" text-anchor="start" font-weight="normal" >-10</text>
<line x1="419" y1="255.6" x2="420" y2="255.6" stroke="#333" stroke-width="0.4"/>
<text x="423.0" y="257.4" font-size="5" fill="#1a1a1a" text-anchor="start" font-weight="normal" >-20</text>
<line x1="419" y1="266.0" x2="420" y2="266.0" stroke="#333" stroke-width="0.4"/>
<text x="423.0" y="267.8" font-size="5" fill="#1a1a1a" text-anchor="start" font-weight="normal" >-30</text>
<text x="454.5" y="140.0" font-size="11" fill="#1a1a1a" text-anchor="start" font-weight="normal" >f</text>
<rect x="478.2" y="214.8" width="10.0" height="48.2" fill="url(#barb)"/>
<path d="M483.2,208.4 L483.2,220.3 M482.4,208.4 L484.0,208.4 M482.4,220.3 L484.0,220.3" stroke="#333" stroke-width="0.6"/>
<rect x="496.7" y="182.9" width="9.6" height="80.1" fill="url(#barr)"/>
<path d="M501.5,178 L501.5,187.5 M500.7,178 L502.3,178 M500.7,187.5 L502.3,187.5" stroke="#333" stroke-width="0.6"/>
<rect x="515.2" y="195.9" width="9.8" height="67.1" fill="url(#barp)"/>
<path d="M520.1,195 L520.1,196.8 M519.3,195 L520.9,195 M519.3,196.8 L520.9,196.8" stroke="#333" stroke-width="0.6"/>
<rect x="550.3" y="235.4" width="9.6" height="27.6" fill="url(#barb)"/>
<path d="M555.1,233 L555.1,238 M554.3,233 L555.9,233 M554.3,238 L555.9,238" stroke="#333" stroke-width="0.6"/>
<rect x="568.9" y="226.6" width="9.6" height="36.4" fill="url(#barr)"/>
<path d="M573.7,224 L573.7,229 M572.9,224 L574.5,224 M572.9,229 L574.5,229" stroke="#333" stroke-width="0.6"/>
<rect x="587.6" y="184.1" width="9.5" height="78.9" fill="url(#barp)"/>
<path d="M592.4,183 L592.4,185.2 M591.6,183 L593.1,183 M591.6,185.2 L593.1,185.2" stroke="#333" stroke-width="0.6"/>
<rect x="623.5" y="260.2" width="8.5" height="2.8" fill="url(#barb)"/>
<path d="M627.8,259.8 L627.8,260.6 M627.0,259.8 L628.5,259.8 M627.0,260.6 L628.5,260.6" stroke="#333" stroke-width="0.6"/>
<rect x="641.7" y="227.6" width="9.6" height="35.4" fill="url(#barr)"/>
<path d="M646.5,227 L646.5,228.3 M645.7,227 L647.3,227 M645.7,228.3 L647.3,228.3" stroke="#333" stroke-width="0.6"/>
<rect x="660.2" y="182" width="9.5" height="81.0" fill="url(#barp)"/>
<path d="M665.0,180.5 L665.0,183.5 M664.2,180.5 L665.8,180.5 M664.2,183.5 L665.8,183.5" stroke="#333" stroke-width="0.6"/>
<line x1="463" y1="263" x2="677.5" y2="263" stroke="#444" stroke-width="0.9"/>
<path d="M470.6,165.5 L470.6,162.3 L523.3,162.3 L523.3,165.5" stroke="#777" stroke-width="0.6" fill="none"/>
<path d="M545.6,165.5 L545.6,162.3 L597.8,162.3 L597.8,165.5" stroke="#777" stroke-width="0.6" fill="none"/>
<path d="M619.4,165.5 L619.4,162.3 L671.8,162.3 L671.8,165.5" stroke="#777" stroke-width="0.6" fill="none"/>
<text x="477.0" y="158.7" font-size="7.75" fill="#1a1a1a" text-anchor="start" font-weight="normal" >Conductivity</text>
<text x="529" y="158.7" font-size="7.75" fill="#1a1a1a">Li<tspan font-size="5.2" dy="-2.5">+</tspan><tspan dy="2.5"> transference number</tspan></text>
<text x="619.8" y="158.7" font-size="7.75" fill="#1a1a1a" text-anchor="start" font-weight="normal" >Flex-sensitivity</text>
<line x1="472" y1="220.6" x2="472" y2="249.3" stroke="#000" stroke-width="1.6"/>
<line x1="617.9" y1="221" x2="617.9" y2="245.9" stroke="#000" stroke-width="1.6"/>
<text transform="translate(466,234.8) rotate(-90)" font-size="7.75" fill="#1a1a1a" text-anchor="middle">10 mS/cm</text>
<text transform="translate(612,229.6) rotate(-90)" font-size="7.75" fill="#1a1a1a" text-anchor="middle">1 mV/degree</text>
<rect x="459.2" y="270.7" width="23.6" height="8" fill="url(#legb)"/>
<rect x="536.4" y="270.7" width="23.6" height="8" fill="url(#legr)"/>
<rect x="609.7" y="270.7" width="23.6" height="8" fill="url(#legp)"/>
<text x="488.8" y="279.9" font-size="7.75" fill="#1a1a1a" text-anchor="start" font-weight="normal" >PAM-LiCl</text>
<text x="566.7" y="279.9" font-size="7.75" fill="#1a1a1a" text-anchor="start" font-weight="normal" >PSA-LiCl</text>
<text x="639.3" y="279.9" font-size="7.75" fill="#1a1a1a" text-anchor="start" font-weight="normal" >PSA-Li(TFSI)</text>
<text x="296.0" y="308.3" font-size="11" fill="#1a1a1a" text-anchor="start" font-weight="normal" >g</text>
<ellipse cx="396" cy="380" rx="32" ry="10.5" transform="rotate(53 396 380)" fill="#f0e2fb"/>
<ellipse cx="475.5" cy="397" rx="29" ry="10" transform="rotate(52 475.5 397)" fill="#e1f0fb"/>
<rect x="333.4" y="305.5" width="220.2" height="133" fill="none" stroke="#333" stroke-width="0.8"/>
<line x1="330.8" y1="416.6" x2="333.4" y2="416.6" stroke="#333" stroke-width="0.6"/>
<text x="317.6" y="420.0" font-size="8.5" fill="#1a1a1a">10<tspan font-size="5.8" dy="-3.8">-2</tspan></text>
<line x1="330.8" y1="379.8" x2="333.4" y2="379.8" stroke="#333" stroke-width="0.6"/>
<text x="317.6" y="383.2" font-size="8.5" fill="#1a1a1a">10<tspan font-size="5.8" dy="-3.8">-1</tspan></text>
<line x1="330.8" y1="343.0" x2="333.4" y2="343.0" stroke="#333" stroke-width="0.6"/>
<text x="317.6" y="346.4" font-size="8.5" fill="#1a1a1a">10<tspan font-size="5.8" dy="-3.8">0</tspan></text>
<line x1="330.8" y1="306.2" x2="333.4" y2="306.2" stroke="#333" stroke-width="0.6"/>
<text x="317.6" y="309.6" font-size="8.5" fill="#1a1a1a">10<tspan font-size="5.8" dy="-3.8">1</tspan></text>
<line x1="331.9" y1="435.8" x2="333.4" y2="435.8" stroke="#333" stroke-width="0.45"/>
<line x1="331.9" y1="431.2" x2="333.4" y2="431.2" stroke="#333" stroke-width="0.45"/>
<line x1="331.9" y1="427.7" x2="333.4" y2="427.7" stroke="#333" stroke-width="0.45"/>
<line x1="331.9" y1="424.8" x2="333.4" y2="424.8" stroke="#333" stroke-width="0.45"/>
<line x1="331.9" y1="422.3" x2="333.4" y2="422.3" stroke="#333" stroke-width="0.45"/>
<line x1="331.9" y1="420.2" x2="333.4" y2="420.2" stroke="#333" stroke-width="0.45"/>
<line x1="331.9" y1="418.3" x2="333.4" y2="418.3" stroke="#333" stroke-width="0.45"/>
<line x1="331.9" y1="405.5" x2="333.4" y2="405.5" stroke="#333" stroke-width="0.45"/>
<line x1="331.9" y1="399.0" x2="333.4" y2="399.0" stroke="#333" stroke-width="0.45"/>
<line x1="331.9" y1="394.4" x2="333.4" y2="394.4" stroke="#333" stroke-width="0.45"/>
<line x1="331.9" y1="390.9" x2="333.4" y2="390.9" stroke="#333" stroke-width="0.45"/>
<line x1="331.9" y1="388.0" x2="333.4" y2="388.0" stroke="#333" stroke-width="0.45"/>
<line x1="331.9" y1="385.5" x2="333.4" y2="385.5" stroke="#333" stroke-width="0.45"/>
<line x1="331.9" y1="383.4" x2="333.4" y2="383.4" stroke="#333" stroke-width="0.45"/>
<line x1="331.9" y1="381.5" x2="333.4" y2="381.5" stroke="#333" stroke-width="0.45"/>
<line x1="331.9" y1="368.7" x2="333.4" y2="368.7" stroke="#333" stroke-width="0.45"/>
<line x1="331.9" y1="362.2" x2="333.4" y2="362.2" stroke="#333" stroke-width="0.45"/>
<line x1="331.9" y1="357.6" x2="333.4" y2="357.6" stroke="#333" stroke-width="0.45"/>
<line x1="331.9" y1="354.1" x2="333.4" y2="354.1" stroke="#333" stroke-width="0.45"/>
<line x1="331.9" y1="351.2" x2="333.4" y2="351.2" stroke="#333" stroke-width="0.45"/>
<line x1="331.9" y1="348.7" x2="333.4" y2="348.7" stroke="#333" stroke-width="0.45"/>
<line x1="331.9" y1="346.6" x2="333.4" y2="346.6" stroke="#333" stroke-width="0.45"/>
<line x1="331.9" y1="344.7" x2="333.4" y2="344.7" stroke="#333" stroke-width="0.45"/>
<line x1="331.9" y1="331.9" x2="333.4" y2="331.9" stroke="#333" stroke-width="0.45"/>
<line x1="331.9" y1="325.4" x2="333.4" y2="325.4" stroke="#333" stroke-width="0.45"/>
<line x1="331.9" y1="320.8" x2="333.4" y2="320.8" stroke="#333" stroke-width="0.45"/>
<line x1="331.9" y1="317.3" x2="333.4" y2="317.3" stroke="#333" stroke-width="0.45"/>
<line x1="331.9" y1="314.4" x2="333.4" y2="314.4" stroke="#333" stroke-width="0.45"/>
<line x1="331.9" y1="311.9" x2="333.4" y2="311.9" stroke="#333" stroke-width="0.45"/>
<line x1="331.9" y1="309.8" x2="333.4" y2="309.8" stroke="#333" stroke-width="0.45"/>
<line x1="331.9" y1="307.9" x2="333.4" y2="307.9" stroke="#333" stroke-width="0.45"/>
<line x1="333.5" y1="438.5" x2="333.5" y2="441.2" stroke="#333" stroke-width="0.6"/>
<text x="333.5" y="450.1" font-size="8.5" fill="#1a1a1a" text-anchor="middle" font-weight="normal" >0</text>
<line x1="383.5" y1="438.5" x2="383.5" y2="441.2" stroke="#333" stroke-width="0.6"/>
<text x="383.5" y="450.1" font-size="8.5" fill="#1a1a1a" text-anchor="middle" font-weight="normal" >50</text>
<line x1="433.5" y1="438.5" x2="433.5" y2="441.2" stroke="#333" stroke-width="0.6"/>
<text x="433.5" y="450.1" font-size="8.5" fill="#1a1a1a" text-anchor="middle" font-weight="normal" >100</text>
<line x1="483.5" y1="438.5" x2="483.5" y2="441.2" stroke="#333" stroke-width="0.6"/>
<text x="483.5" y="450.1" font-size="8.5" fill="#1a1a1a" text-anchor="middle" font-weight="normal" >150</text>
<line x1="533.5" y1="438.5" x2="533.5" y2="441.2" stroke="#333" stroke-width="0.6"/>
<text x="533.5" y="450.1" font-size="8.5" fill="#1a1a1a" text-anchor="middle" font-weight="normal" >200</text>
<line x1="358.5" y1="438.5" x2="358.5" y2="440.2" stroke="#333" stroke-width="0.5"/>
<line x1="408.5" y1="438.5" x2="408.5" y2="440.2" stroke="#333" stroke-width="0.5"/>
<line x1="458.5" y1="438.5" x2="458.5" y2="440.2" stroke="#333" stroke-width="0.5"/>
<line x1="508.5" y1="438.5" x2="508.5" y2="440.2" stroke="#333" stroke-width="0.5"/>
<text x="377.7" y="458.9" font-size="8.7" fill="#1a1a1a" text-anchor="start" font-weight="normal" textLength="130.5" lengthAdjust="spacingAndGlyphs">Sensing range (bending degree)</text>
<text transform="translate(313.5,375.2) rotate(-90)" font-size="8.7" fill="#1a1a1a" text-anchor="middle">Flex-sensitivity (mV/degree)</text>
<polygon points="393.3,339.13599999999997 396.1,333.764 390.5,333.764" fill="#666"/>
<polygon points="383.3,358.264 386.1,363.63599999999997 380.5,363.63599999999997" fill="#b455ee"/>
<circle cx="413.3" cy="400.4" r="2.6" fill="#b455ee"/>
<rect x="406.2" y="392.8" width="4.3" height="4.3" fill="#f59a50"/>
<polygon points="421.475,401 416.625,398.5 416.625,403.5" fill="#ea5cb4"/>
<polygon points="467,378.803 470.1,384.697 463.9,384.697" fill="#1477e6"/>
<circle cx="485.3" cy="409.8" r="3.1" fill="#1477e6"/>
<rect x="511.3" y="430.2" width="4.4" height="4.4" fill="#3fd3c0"/>
<polygon points="513.50,320.10 514.62,323.16 517.87,323.28 515.31,325.29 516.20,328.42 513.50,326.60 510.80,328.42 511.69,325.29 509.13,323.28 512.38,323.16" fill="#f0161e"/>
<text x="393.4" y="324.0" font-size="7.75" fill="#707070" text-anchor="middle" font-weight="normal" >PVDF-HFP</text>
<text x="393.7" y="330.9" font-size="7.75" fill="#707070" text-anchor="middle" font-weight="normal" >(Ref. 32)</text>
<text x="361.9" y="386.4" font-size="7.75" fill="#b455ee" text-anchor="middle" font-weight="normal" >Nafion</text>
<text x="362.0" y="393.6" font-size="7.75" fill="#b455ee" text-anchor="middle" font-weight="normal" >(Ref. 24-25)</text>
<text x="429.7" y="386.0" font-size="7.75" fill="#f59a50" text-anchor="middle" font-weight="normal" >PAM</text>
<text x="429.2" y="393.6" font-size="7.75" fill="#f59a50" text-anchor="middle" font-weight="normal" >(Ref. 33)</text>
<text x="434.4" y="408.8" font-size="7.75" fill="#ea5cb4" text-anchor="middle" font-weight="normal" >PVA</text>
<text x="435.0" y="416.8" font-size="7.75" fill="#ea5cb4" text-anchor="middle" font-weight="normal" >(Ref. 28)</text>
<text x="476.1" y="381.6" font-size="7.75" fill="#1477e6" text-anchor="start" font-weight="normal" >TPU (Ref. 30-31)</text>
<text x="487.8" y="426.8" font-size="7.75" fill="#3fd3c0" text-anchor="start" font-weight="normal" >PEO (Ref. 29)</text>
<text x="456.2" y="318.9" font-size="7.75" fill="#f0161e" text-anchor="start" font-weight="normal" >PSA-Li(TFSI) flex-</text>
<text x="487.7" y="328.0" font-size="7.75" fill="#f0161e" text-anchor="middle" font-weight="normal" >sensor</text>
<text x="487.7" y="337.4" font-size="7.75" fill="#f0161e" text-anchor="middle" font-weight="normal" >(Our work)</text>
<text x="566.4" y="310.8" font-size="7.75" fill="#b455ee" text-anchor="start" font-weight="bold" >Nafion</text>
<polygon points="569.6,314.9075 572.35,320.1925 566.85,320.1925" fill="#b455ee"/>
<text x="577.2" y="320.9" font-size="7.75" fill="#1a1a1a"><tspan dy="0">EMI</tspan><tspan font-size="5" dy="-2.8">+</tspan><tspan dy="2.8"> TFSI</tspan><tspan font-size="5" dy="-2.8">-</tspan></text>
<circle cx="627.5" cy="318.2" r="2.3" fill="#b455ee"/>
<text x="641.3" y="320.9" font-size="7.75" fill="#1a1a1a"><tspan dy="0">H</tspan><tspan font-size="5" dy="-2.8">+</tspan></text>
<text x="566.4" y="334.5" font-size="7.75" fill="#ea5cb4" text-anchor="start" font-weight="bold" >PVA</text>
<polygon points="572.4925000000001,341.4 567.2075,338.65 567.2075,344.15" fill="#ea5cb4"/>
<text x="577.2" y="344.2" font-size="7.75" fill="#1a1a1a"><tspan dy="0">EMI</tspan><tspan font-size="5" dy="-2.8">+</tspan><tspan dy="2.8"> TFSI</tspan><tspan font-size="5" dy="-2.8">-</tspan></text>
<text x="566.4" y="357.9" font-size="7.75" fill="#3fd3c0" text-anchor="start" font-weight="bold" >PEO</text>
<rect x="566.8" y="363.2" width="5.5" height="4.5" fill="#3fd3c0"/>
<text x="576.8" y="367.9" font-size="7.75" fill="#1a1a1a"><tspan dy="0">Li</tspan><tspan font-size="5" dy="-2.8">+</tspan><tspan dy="2.8"> TFSI</tspan><tspan font-size="5" dy="-2.8">-</tspan></text>
<text x="566.4" y="381.4" font-size="7.75" fill="#1477e6" text-anchor="start" font-weight="bold" >TPU</text>
<ellipse cx="569.6" cy="389.7" rx="2.8" ry="2.3" fill="#1477e6"/>
<text x="577.2" y="391.8" font-size="7.75" fill="#1a1a1a"><tspan dy="0">EMI</tspan><tspan font-size="5" dy="-2.8">+</tspan><tspan dy="2.8"> TFSI</tspan><tspan font-size="5" dy="-2.8">-</tspan></text>
<polygon points="626.2,386.238 628.8000000000001,391.262 623.6,391.262" fill="#1477e6"/>
<text x="635.6" y="391.8" font-size="7.75" fill="#1a1a1a"><tspan dy="0">EMI</tspan><tspan font-size="5" dy="-2.8">+</tspan><tspan dy="2.8"> BF</tspan><tspan font-size="5" dy="1.8">4</tspan><tspan font-size="5" dy="-4.6">-</tspan></text>
<text x="566.4" y="405.1" font-size="7.75" fill="#707070" text-anchor="start" font-weight="normal" >PVDF-HFP</text>
<polygon points="569.6,415.5925 572.35,410.3075 566.85,410.3075" fill="#666"/>
<text x="576.8" y="415.5" font-size="7.75" fill="#1a1a1a"><tspan dy="0">EMIM</tspan><tspan font-size="5" dy="-2.8">+</tspan><tspan dy="2.8"> TFSI</tspan><tspan font-size="5" dy="-2.8">-</tspan></text>
<text x="566.4" y="428.3" font-size="7.75" fill="#f59a50" text-anchor="start" font-weight="bold" >PAM</text>
<rect x="566.8" y="434.5" width="5.5" height="4.3" fill="#f59a50"/>
<text x="576.8" y="438.7" font-size="7.75" fill="#1a1a1a"><tspan dy="0">Na</tspan><tspan font-size="5" dy="-2.8">+</tspan><tspan dy="2.8"> Cl</tspan><tspan font-size="5" dy="-2.8">-</tspan></text></svg>
</body></html>
